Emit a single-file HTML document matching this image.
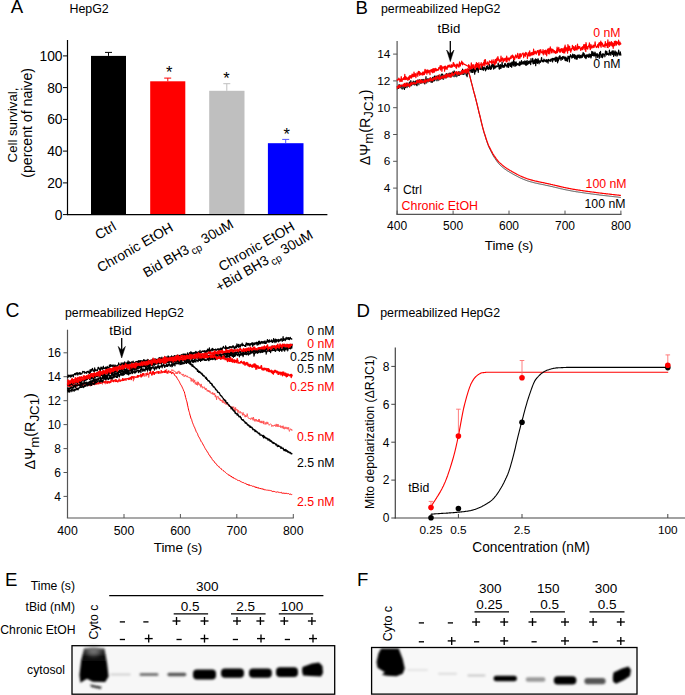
<!DOCTYPE html>
<html><head><meta charset="utf-8"><style>
html,body{margin:0;padding:0;background:#fff;width:685px;height:695px;overflow:hidden}
svg{display:block}
text{font-family:"Liberation Sans", sans-serif}
</style></head><body>
<svg width="685" height="695" viewBox="0 0 685 695">
<defs><filter id="b1" x="-50%" y="-200%" width="200%" height="500%"><feGaussianBlur stdDeviation="0.8"/></filter><filter id="b2" x="-50%" y="-50%" width="200%" height="200%"><feGaussianBlur stdDeviation="1.2"/></filter><filter id="b3" x="-50%" y="-50%" width="200%" height="200%"><feGaussianBlur stdDeviation="2.5"/></filter><linearGradient id="gE" x1="0" y1="0" x2="0" y2="1"><stop offset="0" stop-color="#444"/><stop offset="0.25" stop-color="#080808"/><stop offset="1" stop-color="#000"/></linearGradient></defs>
<text x="10.8" y="13.2" font-size="18.6" text-anchor="start" fill="#000" >A</text>
<text x="69.5" y="13.1" font-size="12.4" text-anchor="start" fill="#000" >HepG2</text>
<rect x="91.0" y="55.9" width="35.0" height="158.7" fill="#000"/>
<line x1="108.5" y1="55.9" x2="108.5" y2="52.4" stroke="#000" stroke-width="1"/>
<line x1="105.0" y1="52.4" x2="112.0" y2="52.4" stroke="#000" stroke-width="1"/>
<rect x="150.2" y="81.3" width="35.1" height="133.3" fill="#ff0000"/>
<line x1="167.8" y1="81.3" x2="167.8" y2="78.1" stroke="#ff0000" stroke-width="1"/>
<line x1="164.2" y1="78.1" x2="171.2" y2="78.1" stroke="#ff0000" stroke-width="1"/>
<rect x="209.2" y="90.8" width="35.3" height="123.8" fill="#bfbfbf"/>
<line x1="226.8" y1="90.8" x2="226.8" y2="83.7" stroke="#bfbfbf" stroke-width="1"/>
<line x1="223.3" y1="83.7" x2="230.3" y2="83.7" stroke="#bfbfbf" stroke-width="1"/>
<rect x="267.9" y="143.2" width="35.6" height="71.4" fill="#0000ff"/>
<line x1="285.7" y1="143.2" x2="285.7" y2="139.4" stroke="#5555ff" stroke-width="1"/>
<line x1="282.2" y1="139.4" x2="289.2" y2="139.4" stroke="#5555ff" stroke-width="1"/>
<text x="169.2" y="77.5" font-size="16.5" text-anchor="middle" fill="#000" >*</text>
<text x="226.4" y="84.3" font-size="16.5" text-anchor="middle" fill="#000" >*</text>
<text x="286.6" y="139.5" font-size="16.5" text-anchor="middle" fill="#000" >*</text>
<line x1="67.5" y1="40.0" x2="67.5" y2="215.1" stroke="#000" stroke-width="1.2"/>
<line x1="66.9" y1="214.6" x2="327.4" y2="214.6" stroke="#000" stroke-width="1.2"/>
<line x1="63.0" y1="214.6" x2="67.5" y2="214.6" stroke="#000" stroke-width="1"/>
<text x="62.5" y="219.6" font-size="13.8" text-anchor="end" fill="#000" >0</text>
<line x1="63.0" y1="182.9" x2="67.5" y2="182.9" stroke="#000" stroke-width="1"/>
<text x="62.5" y="187.9" font-size="13.8" text-anchor="end" fill="#000" >20</text>
<line x1="63.0" y1="151.1" x2="67.5" y2="151.1" stroke="#000" stroke-width="1"/>
<text x="62.5" y="156.1" font-size="13.8" text-anchor="end" fill="#000" >40</text>
<line x1="63.0" y1="119.4" x2="67.5" y2="119.4" stroke="#000" stroke-width="1"/>
<text x="62.5" y="124.4" font-size="13.8" text-anchor="end" fill="#000" >60</text>
<line x1="63.0" y1="87.6" x2="67.5" y2="87.6" stroke="#000" stroke-width="1"/>
<text x="62.5" y="92.6" font-size="13.8" text-anchor="end" fill="#000" >80</text>
<line x1="63.0" y1="55.9" x2="67.5" y2="55.9" stroke="#000" stroke-width="1"/>
<text x="62.5" y="60.9" font-size="13.8" text-anchor="end" fill="#000" >100</text>
<text transform="translate(17,125) rotate(-90)" font-size="13.2" text-anchor="middle">Cell survival,</text>
<text transform="translate(31.6,122.9) rotate(-90)" font-size="14.1" text-anchor="middle">(percent of naive)</text>
<text transform="translate(117.1,229.2) rotate(-30)" font-size="13.8" text-anchor="end">Ctrl</text>
<text transform="translate(174.1,230.2) rotate(-30)" font-size="13.8" text-anchor="end">Chronic EtOH</text>
<text transform="translate(234.4,226.9) rotate(-30)" font-size="13.8" text-anchor="end">Bid BH3<tspan font-size="10.5" dx="1.5" dy="4">cp</tspan><tspan dy="-4"> 30uM</tspan></text>
<text transform="translate(295.7,229.3) rotate(-30)" font-size="13.8" text-anchor="end">Chronic EtOH</text>
<text transform="translate(314.0,237.5) rotate(-30)" font-size="13.8" text-anchor="end">+Bid BH3<tspan font-size="10.5" dx="1.5" dy="4">cp</tspan><tspan dy="-4"> 30uM</tspan></text>
<text x="355.6" y="13.9" font-size="18.6" text-anchor="start" fill="#000" >B</text>
<text x="381.0" y="13.0" font-size="12.35" text-anchor="start" fill="#000" >permeabilized HepG2</text>
<line x1="397.1" y1="41.0" x2="397.1" y2="214.4" stroke="#555" stroke-width="1.2"/>
<line x1="396.5" y1="214.4" x2="621.5" y2="214.4" stroke="#555" stroke-width="1.2"/>
<line x1="393.1" y1="188.1" x2="397.1" y2="188.1" stroke="#555" stroke-width="1"/>
<text x="390.3" y="192.1" font-size="11.8" text-anchor="end" fill="#000" >4</text>
<line x1="393.1" y1="161.3" x2="397.1" y2="161.3" stroke="#555" stroke-width="1"/>
<text x="390.3" y="165.3" font-size="11.8" text-anchor="end" fill="#000" >6</text>
<line x1="393.1" y1="134.5" x2="397.1" y2="134.5" stroke="#555" stroke-width="1"/>
<text x="390.3" y="138.5" font-size="11.8" text-anchor="end" fill="#000" >8</text>
<line x1="393.1" y1="107.7" x2="397.1" y2="107.7" stroke="#555" stroke-width="1"/>
<text x="390.3" y="111.7" font-size="11.8" text-anchor="end" fill="#000" >10</text>
<line x1="393.1" y1="80.9" x2="397.1" y2="80.9" stroke="#555" stroke-width="1"/>
<text x="390.3" y="84.9" font-size="11.8" text-anchor="end" fill="#000" >12</text>
<line x1="393.1" y1="54.1" x2="397.1" y2="54.1" stroke="#555" stroke-width="1"/>
<text x="390.3" y="58.1" font-size="11.8" text-anchor="end" fill="#000" >14</text>
<line x1="397.1" y1="214.4" x2="397.1" y2="210.6" stroke="#555" stroke-width="1"/>
<text x="397.1" y="229.8" font-size="12" text-anchor="middle" fill="#000" >400</text>
<line x1="453.1" y1="214.4" x2="453.1" y2="210.6" stroke="#555" stroke-width="1"/>
<text x="453.1" y="229.8" font-size="12" text-anchor="middle" fill="#000" >500</text>
<line x1="509.0" y1="214.4" x2="509.0" y2="210.6" stroke="#555" stroke-width="1"/>
<text x="509.0" y="229.8" font-size="12" text-anchor="middle" fill="#000" >600</text>
<line x1="565.0" y1="214.4" x2="565.0" y2="210.6" stroke="#555" stroke-width="1"/>
<text x="565.0" y="229.8" font-size="12" text-anchor="middle" fill="#000" >700</text>
<line x1="620.9" y1="214.4" x2="620.9" y2="210.6" stroke="#555" stroke-width="1"/>
<text x="620.9" y="229.8" font-size="12" text-anchor="middle" fill="#000" >800</text>
<text x="509.0" y="250.3" font-size="13.4" text-anchor="middle" fill="#000" >Time (s)</text>
<text transform="translate(369.5,127.4) rotate(-90)" font-size="14.3" text-anchor="middle">ΔΨ<tspan font-size="13.2" dy="3">m</tspan><tspan dy="-3">(R</tspan><tspan font-size="13.2" dy="3">JC1</tspan><tspan dy="-3">)</tspan></text>
<text x="448.9" y="33.0" font-size="13.2" text-anchor="middle" fill="#000" >tBid</text>
<line x1="450.3" y1="40.9" x2="450.3" y2="55.0" stroke="#000" stroke-width="1.3"/>
<path d="M446.6 50 L450.3 61.6 L454 50 L450.3 54 Z" fill="#000" stroke="#000" stroke-width="0.5" stroke-linejoin="miter"/>
<text x="402.9" y="194.0" font-size="12.2" text-anchor="start" fill="#000" >Ctrl</text>
<text x="401.6" y="210.2" font-size="12.4" text-anchor="start" fill="#ff0000" >Chronic EtOH</text>
<text x="620.5" y="37.4" font-size="12.3" text-anchor="end" fill="#ff0000" >0 nM</text>
<text x="620.5" y="68.4" font-size="12.3" text-anchor="end" fill="#000" >0 nM</text>
<text x="626.6" y="188.2" font-size="12.3" text-anchor="end" fill="#ff0000" >100 nM</text>
<text x="625.5" y="207.6" font-size="12.3" text-anchor="end" fill="#000" >100 nM</text>
<path d="M397.1 87.1 L397.4 86.5 L397.7 87.4 L397.9 88.3 L398.2 87.5 L398.5 88.3 L398.8 86.6 L399.1 84.5 L399.3 87.4 L399.6 87.5 L399.9 85.6 L400.2 85.8 L400.5 86.1 L400.7 87.7 L401.0 86.2 L401.3 85.0 L401.6 88.2 L401.9 86.7 L402.1 89.0 L402.4 87.9 L402.7 88.8 L403.0 86.1 L403.3 87.7 L403.5 85.2 L403.8 85.3 L404.1 85.8 L404.4 89.5 L404.7 86.2 L404.9 85.4 L405.2 85.0 L405.5 87.6 L405.8 85.9 L406.1 86.6 L406.3 86.3 L406.6 83.2 L406.9 86.1 L407.2 84.8 L407.5 83.3 L407.7 85.6 L408.0 84.7 L408.3 84.3 L408.6 84.3 L408.9 86.3 L409.1 84.2 L409.4 82.1 L409.7 86.7 L410.0 82.7 L410.3 83.9 L410.5 85.0 L410.8 80.7 L411.1 82.6 L411.4 85.7 L411.7 83.6 L411.9 82.7 L412.2 83.9 L412.5 82.4 L412.8 83.6 L413.1 82.3 L413.3 81.0 L413.6 84.3 L413.9 82.9 L414.2 83.9 L414.5 82.9 L414.7 84.9 L415.0 83.9 L415.3 83.2 L415.6 81.3 L415.9 80.9 L416.1 84.8 L416.4 83.9 L416.7 81.5 L417.0 85.7 L417.3 83.1 L417.5 82.5 L417.8 80.2 L418.1 81.1 L418.4 82.7 L418.7 82.7 L418.9 82.4 L419.2 79.5 L419.5 82.5 L419.8 82.3 L420.1 81.2 L420.3 81.9 L420.6 81.9 L420.9 83.3 L421.2 81.5 L421.5 82.1 L421.7 79.5 L422.0 80.2 L422.3 81.2 L422.6 80.1 L422.9 81.6 L423.1 79.3 L423.4 80.9 L423.7 79.9 L424.0 82.9 L424.3 80.2 L424.5 83.4 L424.8 83.9 L425.1 81.0 L425.4 81.9 L425.7 80.1 L426.0 76.7 L426.2 81.6 L426.5 81.2 L426.8 79.8 L427.1 79.3 L427.4 80.3 L427.6 80.3 L427.9 78.7 L428.2 79.0 L428.5 81.4 L428.8 79.8 L429.0 79.5 L429.3 81.2 L429.6 79.1 L429.9 80.8 L430.2 77.8 L430.4 79.0 L430.7 79.1 L431.0 80.1 L431.3 79.3 L431.6 82.2 L431.8 80.8 L432.1 78.3 L432.4 82.2 L432.7 77.4 L433.0 81.5 L433.2 77.4 L433.5 79.9 L433.8 77.2 L434.1 78.2 L434.4 80.8 L434.6 76.3 L434.9 75.9 L435.2 78.3 L435.5 78.5 L435.8 78.3 L436.0 79.5 L436.3 76.1 L436.6 78.7 L436.9 77.9 L437.2 79.0 L437.4 78.6 L437.7 79.6 L438.0 75.5 L438.3 77.7 L438.6 75.8 L438.8 77.3 L439.1 78.4 L439.4 77.7 L439.7 78.0 L440.0 77.0 L440.2 77.6 L440.5 77.4 L440.8 79.1 L441.1 78.1 L441.4 74.1 L441.6 77.8 L441.9 78.3 L442.2 76.0 L442.5 74.2 L442.8 78.8 L443.0 76.7 L443.3 77.3 L443.6 79.1 L443.9 75.0 L444.2 76.1 L444.4 75.9 L444.7 77.2 L445.0 75.2 L445.3 76.7 L445.6 76.0 L445.8 77.5 L446.1 77.6 L446.4 73.5 L446.7 76.4 L447.0 75.0 L447.2 75.5 L447.5 76.1 L447.8 76.1 L448.1 74.2 L448.4 75.7 L448.6 75.4 L448.9 75.0 L449.2 73.1 L449.5 73.8 L449.8 74.3 L450.0 75.7 L450.3 77.0 L450.6 73.2 L450.9 73.1 L451.2 74.8 L451.4 73.6 L451.7 73.2 L452.0 73.1 L452.3 72.9 L452.6 75.0 L452.8 71.8 L453.1 76.2 L453.4 72.7 L453.7 73.2 L454.0 72.6 L454.2 70.9 L454.5 71.5 L454.8 75.6 L455.1 76.5 L455.4 72.4 L455.6 75.3 L455.9 73.6 L456.2 72.2 L456.5 76.1 L456.8 76.8 L457.0 72.9 L457.3 73.2 L457.6 73.6 L457.9 73.1 L458.2 74.5 L458.4 75.5 L458.7 73.3 L459.0 74.5 L459.3 75.5 L459.6 72.0 L459.8 72.9 L460.1 72.1 L460.4 74.3 L460.7 73.7 L461.0 74.2 L461.2 73.9 L461.5 72.1 L461.8 73.6 L462.1 71.8 L462.4 71.7 L462.6 69.0 L462.9 74.4 L463.2 70.7 L463.5 72.2 L463.8 72.0 L464.0 74.3 L464.3 72.6 L464.6 70.7 L464.9 71.9 L465.2 71.6 L465.4 72.2 L465.7 69.8 L466.0 71.6 L466.3 75.1 L466.6 72.6 L466.8 74.6 L467.1 76.6 L467.4 72.2 L467.7 69.1 L468.0 71.1 L468.2 73.1 L468.5 72.6 L468.8 69.3 L469.1 70.8 L469.4 70.9 L469.6 71.0 L469.9 70.8 L470.2 69.5 L470.5 69.9 L470.8 70.4 L471.0 72.3 L471.3 69.8 L471.6 71.7 L471.9 68.8 L472.2 72.5 L472.4 70.6 L472.7 70.4 L473.0 72.5 L473.3 67.5 L473.6 67.9 L473.8 70.9 L474.1 68.9 L474.4 69.5 L474.7 74.2 L475.0 69.6 L475.2 70.0 L475.5 69.8 L475.8 71.6 L476.1 70.2 L476.4 70.0 L476.6 67.8 L476.9 69.1 L477.2 69.6 L477.5 67.1 L477.8 70.4 L478.0 70.1 L478.3 72.3 L478.6 66.8 L478.9 67.8 L479.2 67.8 L479.4 68.1 L479.7 69.0 L480.0 68.8 L480.3 69.5 L480.6 69.4 L480.8 68.9 L481.1 66.5 L481.4 68.0 L481.7 68.9 L482.0 69.7 L482.3 69.8 L482.5 66.1 L482.8 67.8 L483.1 68.5 L483.4 69.1 L483.7 70.3 L483.9 68.6 L484.2 67.0 L484.5 69.0 L484.8 68.7 L485.1 68.6 L485.3 68.1 L485.6 70.8 L485.9 68.5 L486.2 69.5 L486.5 66.6 L486.7 69.2 L487.0 67.0 L487.3 65.5 L487.6 68.4 L487.9 68.8 L488.1 67.5 L488.4 67.7 L488.7 69.3 L489.0 66.9 L489.3 64.4 L489.5 68.0 L489.8 67.8 L490.1 69.1 L490.4 66.9 L490.7 69.4 L490.9 69.1 L491.2 65.2 L491.5 68.7 L491.8 65.5 L492.1 64.7 L492.3 66.7 L492.6 66.2 L492.9 63.9 L493.2 67.3 L493.5 67.9 L493.7 69.1 L494.0 66.8 L494.3 64.4 L494.6 65.2 L494.9 68.2 L495.1 68.1 L495.4 67.4 L495.7 66.1 L496.0 66.9 L496.3 66.2 L496.5 66.0 L496.8 66.9 L497.1 66.4 L497.4 66.0 L497.7 66.4 L497.9 65.4 L498.2 63.2 L498.5 65.2 L498.8 66.0 L499.1 68.8 L499.3 65.4 L499.6 69.1 L499.9 68.2 L500.2 64.5 L500.5 64.7 L500.7 66.1 L501.0 68.5 L501.3 66.3 L501.6 66.8 L501.9 64.6 L502.1 62.0 L502.4 65.2 L502.7 66.8 L503.0 67.4 L503.3 65.5 L503.5 65.7 L503.8 67.2 L504.1 65.1 L504.4 67.1 L504.7 63.5 L504.9 63.5 L505.2 63.4 L505.5 65.9 L505.8 64.3 L506.1 65.3 L506.3 65.6 L506.6 65.5 L506.9 67.0 L507.2 67.2 L507.5 63.6 L507.7 65.1 L508.0 64.4 L508.3 63.1 L508.6 67.5 L508.9 65.9 L509.1 64.3 L509.4 63.9 L509.7 65.1 L510.0 62.8 L510.3 64.1 L510.5 66.4 L510.8 65.9 L511.1 63.0 L511.4 63.5 L511.7 67.3 L511.9 62.0 L512.2 63.2 L512.5 62.0 L512.8 64.7 L513.1 64.5 L513.3 65.8 L513.6 59.9 L513.9 64.2 L514.2 61.3 L514.5 64.9 L514.7 63.6 L515.0 66.5 L515.3 64.4 L515.6 62.1 L515.9 65.7 L516.1 61.9 L516.4 63.1 L516.7 65.2 L517.0 64.3 L517.3 64.2 L517.5 63.5 L517.8 64.3 L518.1 64.7 L518.4 63.8 L518.7 64.9 L518.9 65.3 L519.2 63.3 L519.5 61.8 L519.8 65.6 L520.1 63.1 L520.3 64.1 L520.6 64.6 L520.9 61.6 L521.2 63.8 L521.5 60.5 L521.7 64.1 L522.0 62.2 L522.3 63.2 L522.6 64.0 L522.9 61.8 L523.1 63.0 L523.4 61.7 L523.7 62.7 L524.0 64.3 L524.3 62.7 L524.5 62.4 L524.8 60.9 L525.1 63.9 L525.4 62.5 L525.7 65.1 L525.9 61.3 L526.2 64.0 L526.5 65.2 L526.8 62.3 L527.1 60.4 L527.3 64.6 L527.6 63.9 L527.9 63.3 L528.2 63.9 L528.5 61.4 L528.7 63.3 L529.0 63.1 L529.3 61.0 L529.6 63.1 L529.9 61.2 L530.1 63.4 L530.4 63.7 L530.7 64.7 L531.0 58.7 L531.3 62.2 L531.5 61.3 L531.8 61.7 L532.1 61.3 L532.4 61.5 L532.7 58.4 L532.9 63.1 L533.2 63.9 L533.5 63.0 L533.8 63.5 L534.1 60.1 L534.3 60.0 L534.6 62.8 L534.9 63.5 L535.2 61.8 L535.5 58.9 L535.7 65.7 L536.0 60.3 L536.3 62.8 L536.6 59.4 L536.9 62.7 L537.2 61.4 L537.4 63.4 L537.7 62.5 L538.0 58.6 L538.3 59.5 L538.6 61.5 L538.8 62.2 L539.1 63.8 L539.4 61.3 L539.7 60.7 L540.0 60.8 L540.2 60.8 L540.5 62.4 L540.8 60.7 L541.1 60.6 L541.4 58.4 L541.6 57.5 L541.9 60.6 L542.2 61.6 L542.5 60.5 L542.8 61.3 L543.0 61.5 L543.3 60.4 L543.6 61.9 L543.9 59.2 L544.2 60.3 L544.4 59.7 L544.7 60.4 L545.0 61.2 L545.3 61.6 L545.6 60.4 L545.8 60.9 L546.1 59.6 L546.4 59.9 L546.7 62.1 L547.0 59.8 L547.2 62.0 L547.5 60.8 L547.8 60.2 L548.1 63.1 L548.4 59.6 L548.6 59.4 L548.9 59.9 L549.2 60.3 L549.5 60.2 L549.8 61.1 L550.0 60.0 L550.3 60.4 L550.6 59.3 L550.9 61.4 L551.2 59.0 L551.4 59.1 L551.7 59.6 L552.0 60.0 L552.3 58.4 L552.6 61.9 L552.8 58.5 L553.1 58.8 L553.4 58.7 L553.7 58.5 L554.0 60.2 L554.2 59.5 L554.5 58.0 L554.8 58.3 L555.1 58.7 L555.4 61.4 L555.6 58.1 L555.9 57.0 L556.2 57.2 L556.5 58.5 L556.8 61.3 L557.0 57.3 L557.3 59.0 L557.6 62.8 L557.9 58.1 L558.2 61.1 L558.4 60.7 L558.7 59.6 L559.0 56.5 L559.3 59.1 L559.6 58.1 L559.8 55.7 L560.1 55.9 L560.4 58.6 L560.7 58.8 L561.0 60.4 L561.2 59.5 L561.5 57.6 L561.8 57.7 L562.1 58.1 L562.4 56.6 L562.6 59.4 L562.9 58.3 L563.2 57.0 L563.5 57.2 L563.8 56.4 L564.0 57.4 L564.3 58.5 L564.6 57.4 L564.9 59.6 L565.2 60.6 L565.4 57.0 L565.7 58.0 L566.0 57.4 L566.3 60.6 L566.6 58.4 L566.8 58.7 L567.1 59.1 L567.4 61.3 L567.7 58.2 L568.0 56.2 L568.2 57.0 L568.5 58.6 L568.8 57.6 L569.1 56.3 L569.4 62.0 L569.6 57.7 L569.9 56.6 L570.2 56.3 L570.5 54.7 L570.8 55.6 L571.0 56.9 L571.3 56.8 L571.6 56.0 L571.9 58.1 L572.2 57.3 L572.4 55.8 L572.7 54.0 L573.0 57.4 L573.3 57.2 L573.6 56.8 L573.8 54.9 L574.1 57.1 L574.4 54.7 L574.7 58.6 L575.0 57.3 L575.2 57.3 L575.5 55.7 L575.8 55.2 L576.1 59.3 L576.4 58.3 L576.6 56.3 L576.9 57.8 L577.2 59.2 L577.5 55.1 L577.8 55.9 L578.0 55.9 L578.3 57.4 L578.6 55.0 L578.9 57.0 L579.2 54.8 L579.4 58.0 L579.7 57.9 L580.0 56.2 L580.3 57.6 L580.6 55.3 L580.8 56.0 L581.1 57.9 L581.4 56.2 L581.7 56.9 L582.0 54.8 L582.2 57.3 L582.5 56.9 L582.8 54.3 L583.1 52.6 L583.4 52.9 L583.6 56.0 L583.9 55.8 L584.2 53.6 L584.5 56.3 L584.8 57.6 L585.0 55.8 L585.3 55.2 L585.6 57.3 L585.9 58.6 L586.2 58.2 L586.4 54.8 L586.7 57.1 L587.0 56.0 L587.3 55.4 L587.6 54.8 L587.8 56.3 L588.1 54.9 L588.4 57.1 L588.7 56.2 L589.0 57.3 L589.2 53.8 L589.5 55.6 L589.8 56.7 L590.1 56.1 L590.4 55.8 L590.6 54.3 L590.9 58.0 L591.2 57.1 L591.5 56.0 L591.8 51.3 L592.0 53.8 L592.3 55.5 L592.6 54.1 L592.9 51.9 L593.2 55.6 L593.5 55.8 L593.7 53.2 L594.0 54.3 L594.3 54.0 L594.6 55.9 L594.9 52.0 L595.1 52.3 L595.4 54.1 L595.7 53.9 L596.0 58.2 L596.3 53.9 L596.5 55.2 L596.8 54.2 L597.1 53.7 L597.4 55.4 L597.7 57.5 L597.9 54.2 L598.2 55.9 L598.5 55.2 L598.8 55.7 L599.1 55.2 L599.3 58.3 L599.6 52.6 L599.9 54.2 L600.2 52.8 L600.5 51.3 L600.7 54.5 L601.0 57.4 L601.3 55.9 L601.6 56.4 L601.9 55.2 L602.1 54.2 L602.4 57.6 L602.7 53.8 L603.0 56.7 L603.3 53.8 L603.5 54.4 L603.8 54.7 L604.1 54.3 L604.4 55.0 L604.7 55.1 L604.9 56.8 L605.2 54.1 L605.5 51.1 L605.8 50.8 L606.1 51.9 L606.3 52.8 L606.6 55.0 L606.9 51.6 L607.2 54.0 L607.5 54.0 L607.7 54.3 L608.0 53.6 L608.3 54.5 L608.6 53.9 L608.9 55.4 L609.1 54.3 L609.4 50.0 L609.7 53.7 L610.0 54.0 L610.3 52.7 L610.5 52.4 L610.8 55.3 L611.1 53.8 L611.4 52.0 L611.7 53.0 L611.9 53.2 L612.2 50.9 L612.5 54.4 L612.8 53.2 L613.1 54.1 L613.3 50.9 L613.6 56.4 L613.9 54.3 L614.2 54.0 L614.5 52.1 L614.7 52.1 L615.0 50.8 L615.3 55.6 L615.6 51.8 L615.9 53.5 L616.1 54.0 L616.4 52.1 L616.7 54.4 L617.0 56.2 L617.3 53.5 L617.5 55.2 L617.8 53.9 L618.1 52.2 L618.4 52.2 L618.7 50.2 L618.9 53.0 L619.2 55.1 L619.5 53.9 L619.8 54.1 L620.1 54.5 L620.3 51.8 L620.6 53.6 L620.9 55.7" fill="none" stroke="#000" stroke-width="1.2" stroke-linejoin="round" />
<path d="M397.1 79.2 L397.4 80.3 L397.7 79.6 L397.9 79.9 L398.2 79.0 L398.5 79.8 L398.8 78.0 L399.0 79.1 L399.3 79.1 L399.6 79.0 L399.9 81.6 L400.1 79.7 L400.4 79.7 L400.7 79.0 L401.0 81.2 L401.2 76.7 L401.5 78.9 L401.8 80.8 L402.1 81.4 L402.3 79.2 L402.6 78.9 L402.9 79.7 L403.2 78.5 L403.5 79.5 L403.7 77.6 L404.0 79.4 L404.3 78.4 L404.6 76.8 L404.8 74.4 L405.1 79.6 L405.4 78.7 L405.7 79.2 L405.9 76.7 L406.2 79.5 L406.5 78.4 L406.8 77.7 L407.0 79.0 L407.3 78.9 L407.6 78.1 L407.9 80.4 L408.1 79.4 L408.4 77.8 L408.7 76.9 L409.0 77.3 L409.3 79.6 L409.5 77.6 L409.8 75.6 L410.1 75.9 L410.4 76.8 L410.6 77.9 L410.9 75.6 L411.2 77.3 L411.5 78.1 L411.7 77.5 L412.0 74.1 L412.3 75.8 L412.6 74.3 L412.8 76.7 L413.1 74.5 L413.4 76.7 L413.7 76.0 L414.0 72.0 L414.2 74.5 L414.5 76.3 L414.8 75.6 L415.1 74.9 L415.3 73.5 L415.6 76.0 L415.9 77.7 L416.2 75.5 L416.4 75.0 L416.7 74.8 L417.0 72.9 L417.3 74.3 L417.5 73.5 L417.8 76.3 L418.1 73.3 L418.4 71.4 L418.6 73.3 L418.9 74.0 L419.2 74.0 L419.5 71.6 L419.8 75.5 L420.0 74.2 L420.3 73.3 L420.6 72.8 L420.9 74.5 L421.1 73.3 L421.4 74.1 L421.7 73.4 L422.0 73.7 L422.2 75.1 L422.5 73.4 L422.8 72.0 L423.1 74.7 L423.3 73.5 L423.6 72.1 L423.9 74.6 L424.2 72.7 L424.4 74.4 L424.7 71.1 L425.0 69.3 L425.3 69.7 L425.6 72.9 L425.8 71.4 L426.1 72.3 L426.4 72.2 L426.7 70.0 L426.9 74.2 L427.2 70.6 L427.5 72.1 L427.8 69.9 L428.0 71.7 L428.3 72.9 L428.6 71.4 L428.9 70.6 L429.1 71.6 L429.4 70.9 L429.7 72.3 L430.0 74.6 L430.2 70.0 L430.5 70.3 L430.8 71.0 L431.1 71.0 L431.4 69.5 L431.6 71.7 L431.9 72.0 L432.2 71.1 L432.5 69.0 L432.7 72.8 L433.0 68.9 L433.3 71.5 L433.6 72.1 L433.8 68.6 L434.1 70.5 L434.4 72.2 L434.7 70.8 L434.9 68.8 L435.2 68.3 L435.5 70.7 L435.8 69.4 L436.0 68.8 L436.3 70.8 L436.6 69.2 L436.9 69.7 L437.2 70.4 L437.4 70.3 L437.7 69.4 L438.0 69.4 L438.3 70.2 L438.5 69.9 L438.8 67.6 L439.1 68.8 L439.4 67.7 L439.6 67.2 L439.9 68.0 L440.2 65.5 L440.5 70.0 L440.7 67.5 L441.0 69.1 L441.3 65.8 L441.6 66.0 L441.9 71.3 L442.1 69.8 L442.4 67.3 L442.7 67.1 L443.0 67.1 L443.2 68.2 L443.5 67.4 L443.8 67.0 L444.1 68.0 L444.3 66.3 L444.6 71.1 L444.9 66.8 L445.2 69.1 L445.4 66.1 L445.7 67.8 L446.0 68.7 L446.3 66.8 L446.5 68.6 L446.8 68.6 L447.1 69.5 L447.4 67.1 L447.7 66.3 L447.9 65.4 L448.2 67.1 L448.5 65.3 L448.8 66.7 L449.0 66.8 L449.3 65.8 L449.6 65.0 L449.9 67.0 L450.1 66.8 L450.4 66.6 L450.7 66.1 L451.0 67.5 L451.2 64.6 L451.5 66.7 L451.8 65.3 L452.1 67.1 L452.3 65.3 L452.6 65.2 L452.9 66.3 L453.2 62.7 L453.5 65.0 L453.7 62.9 L454.0 64.0 L454.3 66.4 L454.6 65.9 L454.8 64.6 L455.1 65.1 L455.4 65.0 L455.7 65.5 L455.9 67.6 L456.2 65.2 L456.5 68.1 L456.8 64.2 L457.0 65.8 L457.3 65.7 L457.6 64.9 L457.9 64.1 L458.1 66.5 L458.4 66.9 L458.7 65.9 L459.0 67.2 L459.3 65.6 L459.5 61.8 L459.8 65.6 L460.1 63.0 L460.4 65.9 L460.6 63.4 L460.9 64.2 L461.2 63.8 L461.5 62.8 L461.7 61.0 L462.0 63.2 L462.3 63.2 L462.6 64.8 L462.8 62.4 L463.1 63.6 L468.2 66.2 L468.4 67.5 L468.7 64.6 L469.0 70.5 L469.3 67.7 L469.6 65.8 L469.9 67.7 L470.1 68.3 L470.4 67.4 L470.7 69.2 L471.0 66.7 L471.3 62.9 L471.6 64.9 L471.8 68.5 L472.1 68.0 L472.4 67.2 L472.7 64.9 L473.0 67.8 L473.3 67.5 L473.5 64.9 L473.8 64.8 L474.1 66.8 L474.4 67.9 L474.7 68.5 L475.0 67.1 L475.2 69.5 L475.5 64.6 L475.8 66.8 L476.1 64.9 L476.4 62.6 L476.7 63.7 L476.9 67.4 L477.2 64.1 L477.5 63.5 L477.8 66.5 L478.1 66.8 L478.4 65.4 L478.6 67.7 L478.9 62.7 L479.2 68.9 L479.5 66.7 L479.8 65.3 L480.1 65.2 L480.3 64.5 L480.6 64.2 L480.9 64.9 L481.2 62.7 L481.5 67.9 L481.8 64.4 L482.0 65.5 L482.3 64.1 L482.6 63.8 L482.9 65.6 L483.2 65.1 L483.5 62.7 L483.7 63.4 L484.0 65.0 L484.3 60.5 L484.6 60.0 L484.9 66.0 L485.2 63.1 L485.4 59.5 L485.7 62.2 L486.0 63.0 L486.3 63.7 L486.6 64.1 L486.9 63.5 L487.1 64.0 L487.4 61.9 L487.7 63.6 L488.0 63.6 L488.3 64.8 L488.6 62.9 L488.8 64.2 L489.1 62.9 L489.4 60.9 L489.7 61.9 L490.0 61.6 L490.3 61.8 L490.5 62.2 L490.8 62.5 L491.1 62.7 L491.4 60.9 L491.7 63.8 L492.0 59.8 L492.2 61.9 L492.5 63.0 L492.8 62.6 L493.1 62.8 L493.4 61.4 L493.7 62.7 L493.9 59.7 L494.2 62.7 L494.5 65.0 L494.8 62.5 L495.1 64.5 L495.4 61.2 L495.6 59.4 L495.9 60.0 L496.2 63.1 L496.5 62.1 L496.8 58.0 L497.1 60.3 L497.3 60.7 L497.6 58.9 L497.9 56.6 L498.2 58.4 L498.5 60.2 L498.8 59.8 L499.0 59.3 L499.3 61.2 L499.6 61.9 L499.9 60.0 L500.2 61.6 L500.5 60.1 L500.7 59.8 L501.0 56.1 L501.3 61.2 L501.6 59.9 L501.9 59.9 L502.2 58.9 L502.4 57.8 L502.7 60.3 L503.0 60.7 L503.3 62.0 L503.6 60.8 L503.9 58.3 L504.1 59.1 L504.4 60.7 L504.7 59.6 L505.0 58.9 L505.3 58.1 L505.6 59.8 L505.8 59.2 L506.1 61.6 L506.4 60.5 L506.7 56.0 L507.0 62.0 L507.3 59.0 L507.5 58.0 L507.8 58.9 L508.1 59.6 L508.4 58.3 L508.7 58.1 L509.0 58.2 L509.2 61.0 L509.5 58.2 L509.8 59.3 L510.1 58.7 L510.4 57.4 L510.7 56.7 L510.9 56.2 L511.2 58.4 L511.5 56.0 L511.8 55.6 L512.1 55.6 L512.4 55.1 L512.6 57.5 L512.9 57.5 L513.2 55.8 L513.5 59.3 L513.8 56.7 L514.1 57.8 L514.3 57.5 L514.6 59.7 L514.9 58.2 L515.2 56.8 L515.5 55.3 L515.8 55.0 L516.0 56.7 L516.3 56.8 L516.6 57.8 L516.9 55.8 L517.2 56.8 L517.5 55.3 L517.7 53.4 L518.0 56.2 L518.3 58.5 L518.6 57.5 L518.9 58.4 L519.2 57.9 L519.4 53.8 L519.7 55.5 L520.0 58.2 L520.3 54.7 L520.6 53.7 L520.9 56.2 L521.1 56.7 L521.4 56.1 L521.7 55.0 L522.0 54.4 L522.3 53.5 L522.6 53.4 L522.8 53.4 L523.1 53.0 L523.4 54.1 L523.7 57.6 L524.0 55.3 L524.3 54.5 L524.5 55.6 L524.8 53.4 L525.1 55.4 L525.4 56.3 L525.7 52.4 L526.0 53.6 L526.3 54.3 L526.5 53.1 L526.8 52.9 L527.1 54.0 L527.4 58.4 L527.7 55.5 L528.0 55.1 L528.2 55.9 L528.5 54.0 L528.8 52.3 L529.1 55.0 L529.4 56.0 L529.7 50.8 L529.9 54.8 L530.2 56.0 L530.5 53.6 L530.8 53.2 L531.1 55.0 L531.4 52.6 L531.6 54.6 L531.9 55.2 L532.2 53.4 L532.5 52.4 L532.8 54.6 L533.1 53.0 L533.3 53.7 L533.6 49.0 L533.9 54.6 L534.2 51.2 L534.5 53.4 L534.8 53.5 L535.0 52.1 L535.3 51.8 L535.6 51.2 L535.9 52.6 L536.2 54.1 L536.5 53.9 L536.7 52.2 L537.0 52.1 L537.3 50.7 L537.6 52.2 L537.9 51.2 L538.2 50.4 L538.4 52.5 L538.7 55.1 L539.0 54.6 L539.3 55.0 L539.6 50.1 L539.9 53.9 L540.1 50.6 L540.4 51.6 L540.7 49.7 L541.0 50.8 L541.3 52.5 L541.6 52.7 L541.8 52.2 L542.1 52.0 L542.4 53.1 L542.7 52.2 L543.0 49.5 L543.3 54.8 L543.5 51.6 L543.8 53.5 L544.1 51.7 L544.4 50.6 L544.7 52.0 L545.0 50.6 L545.2 54.4 L545.5 50.0 L545.8 52.7 L546.1 50.7 L546.4 51.4 L546.7 55.8 L546.9 52.8 L547.2 51.2 L547.5 49.0 L547.8 51.0 L548.1 51.0 L548.4 53.7 L548.6 49.1 L548.9 48.4 L549.2 51.3 L549.5 51.6 L549.8 53.8 L550.1 49.8 L550.3 46.8 L550.6 50.0 L550.9 49.0 L551.2 50.2 L551.5 52.6 L551.8 48.8 L552.0 52.9 L552.3 51.2 L552.6 50.4 L552.9 49.4 L553.2 50.1 L553.5 50.1 L553.7 51.9 L554.0 52.8 L554.3 50.5 L554.6 51.7 L554.9 52.7 L555.2 52.6 L555.4 51.3 L555.7 53.4 L556.0 52.6 L556.3 53.0 L556.6 50.1 L556.9 49.7 L557.1 47.1 L557.4 52.7 L557.7 51.3 L558.0 48.7 L558.3 50.5 L558.6 50.6 L558.8 47.3 L559.1 50.6 L559.4 51.9 L559.7 52.1 L560.0 49.4 L560.3 49.4 L560.5 52.1 L560.8 51.4 L561.1 48.9 L561.4 48.8 L561.7 50.8 L562.0 48.7 L562.2 48.8 L562.5 52.5 L562.8 50.1 L563.1 48.9 L563.4 50.5 L563.7 52.9 L563.9 49.9 L564.2 48.2 L564.5 46.9 L564.8 52.9 L565.1 45.1 L565.4 51.1 L565.6 47.7 L565.9 47.3 L566.2 47.6 L566.5 48.9 L566.8 51.0 L567.1 48.1 L567.3 50.2 L567.6 53.1 L567.9 44.5 L568.2 47.8 L568.5 46.0 L568.8 50.4 L569.0 46.5 L569.3 46.3 L569.6 46.3 L569.9 48.8 L570.2 50.7 L570.5 49.0 L570.7 52.2 L571.0 51.4 L571.3 48.5 L571.6 50.2 L571.9 48.8 L572.2 48.7 L572.4 45.4 L572.7 46.4 L573.0 48.5 L573.3 46.5 L573.6 49.6 L573.9 48.9 L574.1 46.8 L574.4 50.3 L574.7 48.7 L575.0 50.3 L575.3 48.0 L575.6 45.5 L575.8 49.3 L576.1 47.7 L576.4 49.5 L576.7 49.9 L577.0 50.0 L577.3 45.6 L577.5 44.1 L577.8 47.1 L578.1 49.0 L578.4 46.7 L578.7 48.3 L579.0 46.5 L579.2 47.3 L579.5 47.3 L579.8 46.7 L580.1 48.6 L580.4 48.3 L580.7 50.4 L580.9 48.3 L581.2 49.8 L581.5 47.7 L581.8 49.0 L582.1 47.3 L582.4 46.7 L582.6 49.7 L582.9 48.6 L583.2 48.8 L583.5 46.1 L583.8 44.5 L584.1 45.8 L584.3 47.7 L584.6 44.8 L584.9 49.6 L585.2 44.7 L585.5 48.1 L585.8 51.5 L586.0 42.7 L586.3 44.4 L586.6 48.6 L586.9 46.6 L587.2 47.2 L587.5 46.7 L587.7 49.2 L588.0 47.9 L588.3 46.0 L588.6 46.4 L588.9 44.8 L589.2 46.5 L589.4 42.9 L589.7 47.8 L590.0 46.2 L590.3 49.6 L590.6 48.5 L590.9 44.3 L591.1 48.0 L591.4 45.6 L591.7 46.5 L592.0 48.0 L592.3 46.9 L592.6 47.1 L592.8 47.1 L593.1 45.0 L593.4 45.2 L593.7 47.1 L594.0 47.6 L594.3 45.7 L594.5 46.2 L594.8 44.4 L595.1 41.8 L595.4 44.6 L595.7 46.0 L596.0 46.2 L596.2 47.3 L596.5 47.3 L596.8 47.5 L597.1 46.4 L597.4 46.5 L597.7 44.6 L597.9 46.4 L598.2 46.0 L598.5 47.6 L598.8 43.0 L599.1 44.8 L599.4 42.7 L599.6 44.2 L599.9 43.1 L600.2 45.9 L600.5 44.3 L600.8 41.1 L601.1 47.3 L601.3 43.5 L601.6 42.6 L601.9 44.6 L602.2 44.0 L602.5 43.2 L602.8 46.3 L603.0 44.5 L603.3 46.6 L603.6 46.2 L603.9 46.1 L604.2 45.3 L604.5 44.8 L604.7 44.2 L605.0 47.3 L605.3 41.6 L605.6 43.0 L605.9 43.6 L606.2 45.4 L606.4 44.9 L606.7 43.8 L607.0 44.0 L607.3 47.5 L607.6 43.4 L607.9 39.8 L608.1 47.6 L608.4 42.9 L608.7 43.9 L609.0 44.7 L609.3 42.2 L609.6 46.4 L609.8 44.1 L610.1 42.0 L610.4 44.7 L610.7 45.0 L611.0 44.1 L611.3 45.0 L611.5 41.7 L611.8 45.7 L612.1 42.7 L612.4 46.2 L612.7 43.0 L613.0 44.2 L613.2 48.3 L613.5 44.0 L613.8 45.7 L614.1 44.6 L614.4 41.3 L614.7 45.7 L614.9 45.6 L615.2 41.4 L615.5 43.6 L615.8 41.2 L616.1 43.1 L616.4 45.1 L616.6 43.7 L616.9 41.6 L617.2 42.0 L617.5 43.5 L617.8 43.4 L618.1 43.6 L618.3 44.4 L618.6 40.2 L618.9 43.3 L619.2 45.2 L619.5 44.1 L619.8 42.0 L620.0 42.2 L620.3 43.4 L620.6 44.3 L620.9 43.1" fill="none" stroke="#ff0000" stroke-width="1.2" stroke-linejoin="round" />
<path d="M397.1 89.7 L397.4 89.2 L397.7 86.5 L397.9 88.0 L398.2 86.9 L398.5 85.8 L398.8 86.4 L399.0 87.1 L399.3 84.5 L399.6 86.2 L399.9 87.4 L400.1 86.0 L400.4 86.3 L400.7 87.8 L401.0 86.6 L401.2 86.9 L401.5 89.0 L401.8 86.7 L402.1 86.8 L402.3 86.9 L402.6 88.4 L402.9 86.7 L403.2 86.3 L403.4 86.0 L403.7 87.5 L404.0 85.2 L404.3 87.5 L404.5 86.2 L404.8 84.2 L405.1 86.6 L405.4 86.3 L405.6 84.3 L405.9 86.1 L406.2 85.9 L406.5 85.2 L406.7 84.1 L407.0 88.1 L407.3 86.3 L407.6 86.5 L407.8 86.5 L408.1 86.1 L408.4 86.1 L408.7 84.6 L408.9 86.0 L409.2 84.7 L409.5 84.3 L409.8 85.6 L410.0 84.5 L410.3 82.6 L410.6 84.1 L410.9 85.2 L411.1 84.5 L411.4 85.5 L411.7 83.9 L412.0 83.1 L412.2 85.2 L412.5 84.3 L412.8 82.6 L413.1 84.6 L413.4 83.7 L413.6 85.1 L413.9 84.8 L414.2 84.3 L414.5 81.0 L414.7 84.1 L415.0 84.2 L415.3 84.1 L415.6 83.6 L415.8 82.5 L416.1 83.0 L416.4 80.7 L416.7 82.9 L416.9 81.3 L417.2 82.7 L417.5 82.2 L417.8 84.6 L418.0 83.0 L418.3 82.8 L418.6 83.0 L418.9 85.2 L419.1 81.5 L419.4 83.0 L419.7 83.0 L420.0 82.7 L420.2 82.6 L420.5 81.8 L420.8 83.7 L421.1 83.3 L421.3 81.7 L421.6 81.8 L421.9 82.4 L422.2 82.6 L422.4 82.8 L422.7 81.8 L423.0 80.3 L423.3 82.9 L423.5 79.7 L423.8 80.5 L424.1 82.0 L424.4 80.4 L424.6 83.1 L424.9 83.3 L425.2 82.7 L425.5 81.6 L425.7 81.5 L426.0 81.6 L426.3 80.8 L426.6 83.4 L426.8 80.2 L427.1 82.5 L427.4 81.5 L427.7 81.1 L427.9 82.0 L428.2 82.1 L428.5 81.6 L428.8 80.4 L429.0 79.6 L429.3 79.6 L429.6 81.4 L429.9 81.1 L430.2 81.2 L430.4 79.4 L430.7 82.4 L431.0 78.4 L431.3 80.4 L431.5 80.7 L431.8 79.3 L432.1 78.4 L432.4 79.1 L432.6 78.2 L432.9 79.3 L433.2 77.9 L433.5 77.8 L433.7 79.4 L434.0 77.4 L434.3 78.9 L434.6 78.9 L434.8 80.1 L435.1 79.3 L435.4 77.9 L435.7 80.4 L435.9 78.0 L436.2 78.3 L436.5 78.3 L436.8 81.2 L437.0 78.6 L437.3 77.6 L437.6 79.3 L437.9 78.2 L438.1 81.1 L438.4 77.4 L438.7 78.9 L439.0 77.0 L439.2 80.2 L439.5 77.1 L439.8 78.1 L440.1 76.8 L440.3 78.8 L440.6 78.4 L440.9 74.9 L441.2 78.5 L441.4 78.3 L441.7 77.7 L442.0 78.6 L442.3 75.9 L442.5 75.1 L442.8 78.0 L443.1 79.2 L443.4 75.6 L443.6 75.6 L443.9 75.9 L444.2 75.5 L444.5 77.8 L444.7 76.9 L445.0 78.3 L445.3 78.3 L445.6 75.4 L445.9 77.3 L446.1 73.7 L446.4 76.3 L446.7 77.1 L447.0 75.3 L447.2 74.0 L447.5 75.5 L447.8 77.5 L448.1 75.5 L448.3 74.2 L448.6 76.4 L448.9 76.7 L449.2 74.5 L449.4 75.5 L449.7 76.9 L450.0 76.0 L450.3 76.4 L450.5 75.0 L450.8 75.2 L451.1 73.9 L451.4 74.4 L451.6 77.0 L451.9 74.6 L452.2 73.9 L452.5 74.4 L452.7 73.7 L453.0 75.5 L453.3 75.9 L453.6 73.6 L453.8 75.9 L454.1 77.2 L454.4 73.3 L454.7 75.3 L454.9 74.8 L455.2 76.0 L455.5 75.9 L455.8 75.6 L456.0 74.6 L456.3 73.6 L456.6 76.8 L456.9 73.0 L457.1 75.3 L457.4 75.1 L457.7 73.0 L458.0 73.8 L458.2 75.5 L458.5 71.4 L458.8 74.6 L459.1 73.2 L459.3 73.1 L459.6 71.6 L459.9 73.8 L460.2 72.0 L460.4 74.0 L460.7 71.7 L461.0 73.9 L461.3 73.4 L461.6 70.6 L461.8 72.4 L462.1 72.6 L462.4 70.0 L462.7 72.2 L462.9 73.6 L463.2 71.6 L463.5 73.9 L463.8 71.0 L464.0 70.9 L464.3 72.9 L464.6 73.0 L464.9 71.9 L465.1 72.1 L465.4 73.2 L465.7 71.3 L466.0 74.3 L466.2 72.3 L466.5 72.2 L466.8 72.0 L467.1 71.3 L467.3 73.0 L467.6 70.8 L467.9 71.7 L468.2 72.2 L468.4 73.0 L468.4 71.1 L468.9 73.1 L469.5 75.0 L470.0 77.0 L470.5 78.9 L471.0 80.9 L471.5 82.8 L472.0 84.7 L472.5 86.7 L473.0 88.6 L473.5 90.6 L474.0 92.5 L474.6 94.5 L475.1 96.5 L475.6 98.4 L476.1 100.4 L476.6 102.4 L477.1 104.4 L477.6 106.5 L478.1 108.6 L478.6 110.8 L479.1 113.0 L479.7 115.1 L480.2 117.3 L480.7 119.5 L481.2 121.6 L481.7 123.7 L482.2 125.7 L482.7 127.7 L483.2 129.6 L483.7 131.5 L484.2 133.2 L484.8 134.9 L485.3 136.6 L485.8 138.3 L486.3 139.9 L486.8 141.4 L487.3 142.9 L487.8 144.3 L488.3 145.6 L488.8 146.8 L489.3 147.9 L489.9 149.0 L490.4 150.1 L490.9 151.1 L491.4 152.1 L491.9 153.1 L492.4 154.1 L492.9 155.0 L493.4 155.9 L493.9 156.8 L494.4 157.6 L495.0 158.4 L495.5 159.2 L496.0 160.0 L496.5 160.7 L497.0 161.4 L497.5 162.1 L498.0 162.7 L498.5 163.3 L499.0 163.9 L499.5 164.5 L500.1 165.0 L500.6 165.5 L501.1 166.0 L501.6 166.4 L502.1 166.9 L502.6 167.3 L503.1 167.7 L503.6 168.1 L504.1 168.5 L504.6 168.9 L505.1 169.3 L505.7 169.6 L506.2 170.0 L506.7 170.3 L507.2 170.7 L507.7 171.0 L508.2 171.3 L508.7 171.6 L509.2 171.9 L509.7 172.2 L510.2 172.5 L510.8 172.8 L511.3 173.1 L511.8 173.4 L512.3 173.7 L512.8 174.0 L513.3 174.3 L513.8 174.6 L514.3 174.8 L514.8 175.1 L515.3 175.4 L515.9 175.7 L516.4 175.9 L516.9 176.2 L517.4 176.5 L517.9 176.7 L518.4 177.0 L518.9 177.2 L519.4 177.5 L519.9 177.7 L520.4 178.0 L521.0 178.2 L521.5 178.4 L522.0 178.7 L522.5 178.9 L523.0 179.1 L523.5 179.3 L524.0 179.5 L524.5 179.7 L525.0 179.9 L525.5 180.1 L526.1 180.3 L526.6 180.5 L527.1 180.7 L527.6 180.9 L528.1 181.0 L528.6 181.2 L529.1 181.3 L529.6 181.5 L530.1 181.6 L530.6 181.8 L531.2 181.9 L531.7 182.1 L532.2 182.2 L532.7 182.3 L533.2 182.5 L533.7 182.6 L534.2 182.7 L534.7 182.9 L535.2 183.0 L535.7 183.1 L536.3 183.2 L536.8 183.3 L537.3 183.4 L537.8 183.6 L538.3 183.7 L538.8 183.8 L539.3 183.9 L539.8 184.0 L540.3 184.1 L540.8 184.2 L541.4 184.3 L541.9 184.4 L542.4 184.5 L542.9 184.6 L543.4 184.7 L543.9 184.8 L544.4 184.9 L544.9 185.0 L545.4 185.2 L545.9 185.3 L546.5 185.4 L547.0 185.5 L547.5 185.6 L548.0 185.7 L548.5 185.8 L549.0 185.9 L549.5 186.0 L550.0 186.1 L550.5 186.3 L551.0 186.4 L551.6 186.5 L552.1 186.6 L552.6 186.7 L553.1 186.9 L553.6 187.0 L554.1 187.1 L554.6 187.2 L555.1 187.3 L555.6 187.5 L556.1 187.6 L556.7 187.7 L557.2 187.8 L557.7 187.9 L558.2 188.1 L558.7 188.2 L559.2 188.3 L559.7 188.4 L560.2 188.6 L560.7 188.7 L561.2 188.8 L561.8 188.9 L562.3 189.0 L562.8 189.1 L563.3 189.3 L563.8 189.4 L564.3 189.5 L564.8 189.6 L565.3 189.7 L565.8 189.8 L566.3 189.9 L566.8 190.0 L567.4 190.1 L567.9 190.2 L568.4 190.3 L568.9 190.4 L569.4 190.5 L569.9 190.6 L570.4 190.7 L570.9 190.8 L571.4 190.9 L571.9 191.0 L572.5 191.1 L573.0 191.2 L573.5 191.3 L574.0 191.3 L574.5 191.4 L575.0 191.5 L575.5 191.6 L576.0 191.7 L576.5 191.8 L577.0 191.8 L577.6 191.9 L578.1 192.0 L578.6 192.1 L579.1 192.2 L579.6 192.2 L580.1 192.3 L580.6 192.4 L581.1 192.5 L581.6 192.5 L582.1 192.6 L582.7 192.7 L583.2 192.8 L583.7 192.8 L584.2 192.9 L584.7 193.0 L585.2 193.1 L585.7 193.1 L586.2 193.2 L586.7 193.3 L587.2 193.3 L587.8 193.4 L588.3 193.5 L588.8 193.6 L589.3 193.6 L589.8 193.7 L590.3 193.8 L590.8 193.8 L591.3 193.9 L591.8 194.0 L592.3 194.0 L592.9 194.1 L593.4 194.2 L593.9 194.2 L594.4 194.3 L594.9 194.4 L595.4 194.4 L595.9 194.5 L596.4 194.6 L596.9 194.6 L597.4 194.7 L598.0 194.8 L598.5 194.8 L599.0 194.9 L599.5 195.0 L600.0 195.0 L600.5 195.1 L601.0 195.1 L601.5 195.2 L602.0 195.3 L602.5 195.3 L603.1 195.4 L603.6 195.5 L604.1 195.5 L604.6 195.6 L605.1 195.6 L605.6 195.7 L606.1 195.8 L606.6 195.8 L607.1 195.9 L607.6 195.9 L608.2 196.0 L608.7 196.0 L609.2 196.1 L609.7 196.2 L610.2 196.2 L610.7 196.3 L611.2 196.3 L611.7 196.4 L612.2 196.5 L612.7 196.5 L613.3 196.6 L613.8 196.6 L614.3 196.7 L614.8 196.8 L615.3 196.8 L615.8 196.9 L616.3 196.9 L616.8 197.0 L617.3 197.0 L617.8 197.1 L618.4 197.2 L618.9 197.2 L619.4 197.3 L619.9 197.3 L620.4 197.4 L620.9 197.5" fill="none" stroke="#444" stroke-width="1.0" stroke-linejoin="round" />
<path d="M397.1 88.6 L397.4 86.9 L397.7 88.2 L397.9 87.1 L398.2 85.9 L398.5 85.9 L398.8 85.3 L399.0 87.2 L399.3 88.0 L399.6 85.7 L399.9 86.4 L400.1 85.4 L400.4 86.6 L400.7 85.2 L401.0 85.5 L401.2 85.6 L401.5 85.8 L401.8 85.8 L402.1 85.9 L402.3 85.9 L402.6 85.0 L402.9 86.5 L403.2 84.1 L403.4 86.0 L403.7 84.7 L404.0 85.8 L404.3 85.9 L404.5 83.4 L404.8 85.9 L405.1 86.8 L405.4 86.2 L405.6 85.7 L405.9 83.0 L406.2 85.0 L406.5 84.2 L406.7 86.2 L407.0 84.7 L407.3 84.2 L407.6 83.0 L407.8 85.6 L408.1 84.1 L408.4 84.4 L408.7 85.7 L408.9 84.6 L409.2 84.8 L409.5 86.9 L409.8 83.8 L410.0 83.7 L410.3 84.7 L410.6 85.6 L410.9 82.6 L411.1 83.8 L411.4 82.9 L411.7 82.4 L412.0 84.4 L412.2 82.9 L412.5 84.0 L412.8 83.8 L413.1 83.7 L413.4 83.6 L413.6 82.3 L413.9 83.3 L414.2 83.5 L414.5 83.6 L414.7 82.9 L415.0 84.1 L415.3 83.7 L415.6 83.1 L415.8 83.6 L416.1 83.0 L416.4 83.5 L416.7 80.6 L416.9 81.3 L417.2 82.2 L417.5 82.7 L417.8 80.2 L418.0 82.1 L418.3 82.5 L418.6 82.0 L418.9 82.0 L419.1 80.7 L419.4 82.2 L419.7 79.8 L420.0 83.0 L420.2 81.2 L420.5 83.0 L420.8 79.9 L421.1 82.1 L421.3 81.8 L421.6 80.7 L421.9 80.2 L422.2 82.7 L422.4 81.8 L422.7 82.9 L423.0 81.2 L423.3 81.4 L423.5 81.6 L423.8 81.9 L424.1 81.5 L424.4 81.8 L424.6 80.4 L424.9 79.3 L425.2 82.9 L425.5 80.9 L425.7 81.1 L426.0 80.1 L426.3 81.6 L426.6 80.7 L426.8 81.5 L427.1 79.6 L427.4 80.2 L427.7 80.4 L427.9 79.8 L428.2 80.4 L428.5 81.7 L428.8 79.3 L429.0 79.6 L429.3 80.0 L429.6 78.7 L429.9 78.4 L430.2 80.8 L430.4 80.4 L430.7 77.9 L431.0 78.0 L431.3 80.2 L431.5 80.6 L431.8 80.0 L432.1 79.8 L432.4 80.9 L432.6 79.1 L432.9 80.4 L433.2 80.3 L433.5 77.9 L433.7 79.6 L434.0 78.8 L434.3 78.0 L434.6 77.8 L434.8 78.9 L435.1 78.5 L435.4 79.3 L435.7 76.5 L435.9 77.6 L436.2 79.4 L436.5 78.2 L436.8 77.4 L437.0 77.6 L437.3 76.0 L437.6 76.5 L437.9 78.5 L438.1 77.9 L438.4 79.1 L438.7 77.4 L439.0 77.5 L439.2 74.7 L439.5 77.4 L439.8 79.7 L440.1 78.1 L440.3 77.2 L440.6 78.6 L440.9 78.1 L441.2 77.5 L441.4 76.7 L441.7 77.2 L442.0 77.9 L442.3 76.0 L442.5 77.4 L442.8 77.3 L443.1 78.1 L443.4 77.4 L443.6 75.8 L443.9 78.2 L444.2 76.5 L444.5 75.6 L444.7 76.7 L445.0 76.0 L445.3 77.3 L445.6 74.7 L445.9 74.8 L446.1 75.7 L446.4 77.8 L446.7 77.0 L447.0 74.7 L447.2 73.9 L447.5 75.3 L447.8 74.2 L448.1 76.2 L448.3 75.6 L448.6 75.4 L448.9 74.9 L449.2 76.9 L449.4 74.2 L449.7 73.7 L450.0 76.3 L450.3 76.5 L450.5 74.6 L450.8 75.6 L451.1 77.3 L451.4 73.9 L451.6 74.5 L451.9 75.1 L452.2 72.3 L452.5 74.3 L452.7 75.2 L453.0 74.3 L453.3 75.4 L453.6 75.0 L453.8 73.8 L454.1 74.7 L454.4 74.5 L454.7 72.2 L454.9 73.0 L455.2 73.0 L455.5 73.2 L455.8 73.2 L456.0 72.1 L456.3 73.6 L456.6 71.5 L456.9 74.5 L457.1 73.7 L457.4 74.8 L457.7 73.6 L458.0 72.7 L458.2 71.6 L458.5 73.8 L458.8 73.0 L459.1 73.3 L459.3 73.7 L459.6 74.1 L459.9 72.7 L460.2 74.6 L460.4 72.5 L460.7 72.5 L461.0 73.2 L461.3 73.5 L461.6 73.9 L461.8 70.3 L462.1 73.7 L462.4 70.5 L462.7 71.5 L462.9 72.4 L463.2 73.2 L463.5 70.8 L463.8 70.0 L464.0 72.8 L464.3 72.1 L464.6 70.5 L464.9 71.3 L465.1 69.4 L465.4 72.1 L465.7 70.8 L466.0 72.7 L466.2 69.0 L466.5 72.0 L466.8 73.5 L467.1 71.2 L467.3 71.2 L467.6 68.9 L467.9 71.3 L468.2 70.9 L468.4 70.1 L468.4 71.1 L468.9 73.1 L469.5 75.0 L470.0 77.0 L470.5 78.9 L471.0 80.9 L471.5 82.8 L472.0 84.7 L472.5 86.7 L473.0 88.6 L473.5 90.6 L474.0 92.5 L474.6 94.5 L475.1 96.5 L475.6 98.4 L476.1 100.4 L476.6 102.4 L477.1 104.4 L477.6 106.5 L478.1 108.6 L478.6 110.7 L479.1 112.9 L479.7 115.0 L480.2 117.1 L480.7 119.2 L481.2 121.3 L481.7 123.4 L482.2 125.4 L482.7 127.3 L483.2 129.2 L483.7 131.0 L484.2 132.7 L484.8 134.4 L485.3 136.0 L485.8 137.6 L486.3 139.2 L486.8 140.7 L487.3 142.1 L487.8 143.4 L488.3 144.7 L488.8 145.9 L489.3 146.9 L489.9 148.0 L490.4 149.0 L490.9 150.0 L491.4 151.0 L491.9 151.9 L492.4 152.8 L492.9 153.7 L493.4 154.5 L493.9 155.4 L494.4 156.2 L495.0 156.9 L495.5 157.7 L496.0 158.4 L496.5 159.1 L497.0 159.7 L497.5 160.4 L498.0 161.0 L498.5 161.5 L499.0 162.1 L499.5 162.6 L500.1 163.1 L500.6 163.5 L501.1 164.0 L501.6 164.4 L502.1 164.9 L502.6 165.3 L503.1 165.7 L503.6 166.1 L504.1 166.5 L504.6 166.9 L505.1 167.3 L505.7 167.6 L506.2 168.0 L506.7 168.3 L507.2 168.7 L507.7 169.0 L508.2 169.3 L508.7 169.6 L509.2 169.9 L509.7 170.2 L510.2 170.5 L510.8 170.8 L511.3 171.1 L511.8 171.4 L512.3 171.7 L512.8 172.0 L513.3 172.3 L513.8 172.6 L514.3 172.8 L514.8 173.1 L515.3 173.4 L515.9 173.7 L516.4 173.9 L516.9 174.2 L517.4 174.5 L517.9 174.7 L518.4 175.0 L518.9 175.2 L519.4 175.5 L519.9 175.7 L520.4 176.0 L521.0 176.2 L521.5 176.4 L522.0 176.7 L522.5 176.9 L523.0 177.1 L523.5 177.3 L524.0 177.5 L524.5 177.7 L525.0 177.9 L525.5 178.1 L526.1 178.3 L526.6 178.5 L527.1 178.7 L527.6 178.9 L528.1 179.0 L528.6 179.2 L529.1 179.3 L529.6 179.5 L530.1 179.6 L530.6 179.8 L531.2 179.9 L531.7 180.1 L532.2 180.2 L532.7 180.3 L533.2 180.5 L533.7 180.6 L534.2 180.7 L534.7 180.9 L535.2 181.0 L535.7 181.1 L536.3 181.2 L536.8 181.3 L537.3 181.4 L537.8 181.6 L538.3 181.7 L538.8 181.8 L539.3 181.9 L539.8 182.0 L540.3 182.1 L540.8 182.2 L541.4 182.3 L541.9 182.4 L542.4 182.5 L542.9 182.6 L543.4 182.7 L543.9 182.8 L544.4 182.9 L544.9 183.0 L545.4 183.2 L545.9 183.3 L546.5 183.4 L547.0 183.5 L547.5 183.6 L548.0 183.7 L548.5 183.8 L549.0 183.9 L549.5 184.0 L550.0 184.1 L550.5 184.3 L551.0 184.4 L551.6 184.5 L552.1 184.6 L552.6 184.7 L553.1 184.9 L553.6 185.0 L554.1 185.1 L554.6 185.2 L555.1 185.3 L555.6 185.5 L556.1 185.6 L556.7 185.7 L557.2 185.8 L557.7 185.9 L558.2 186.1 L558.7 186.2 L559.2 186.3 L559.7 186.4 L560.2 186.6 L560.7 186.7 L561.2 186.8 L561.8 186.9 L562.3 187.0 L562.8 187.1 L563.3 187.3 L563.8 187.4 L564.3 187.5 L564.8 187.6 L565.3 187.7 L565.8 187.8 L566.3 187.9 L566.8 188.0 L567.4 188.1 L567.9 188.2 L568.4 188.3 L568.9 188.4 L569.4 188.5 L569.9 188.6 L570.4 188.7 L570.9 188.8 L571.4 188.9 L571.9 189.0 L572.5 189.1 L573.0 189.2 L573.5 189.3 L574.0 189.3 L574.5 189.4 L575.0 189.5 L575.5 189.6 L576.0 189.7 L576.5 189.8 L577.0 189.8 L577.6 189.9 L578.1 190.0 L578.6 190.1 L579.1 190.2 L579.6 190.2 L580.1 190.3 L580.6 190.4 L581.1 190.5 L581.6 190.5 L582.1 190.6 L582.7 190.7 L583.2 190.8 L583.7 190.8 L584.2 190.9 L584.7 191.0 L585.2 191.1 L585.7 191.1 L586.2 191.2 L586.7 191.3 L587.2 191.3 L587.8 191.4 L588.3 191.5 L588.8 191.6 L589.3 191.6 L589.8 191.7 L590.3 191.8 L590.8 191.8 L591.3 191.9 L591.8 192.0 L592.3 192.0 L592.9 192.1 L593.4 192.2 L593.9 192.2 L594.4 192.3 L594.9 192.4 L595.4 192.4 L595.9 192.5 L596.4 192.6 L596.9 192.6 L597.4 192.7 L598.0 192.8 L598.5 192.8 L599.0 192.9 L599.5 193.0 L600.0 193.0 L600.5 193.1 L601.0 193.1 L601.5 193.2 L602.0 193.3 L602.5 193.3 L603.1 193.4 L603.6 193.5 L604.1 193.5 L604.6 193.6 L605.1 193.6 L605.6 193.7 L606.1 193.8 L606.6 193.8 L607.1 193.9 L607.6 193.9 L608.2 194.0 L608.7 194.0 L609.2 194.1 L609.7 194.2 L610.2 194.2 L610.7 194.3 L611.2 194.3 L611.7 194.4 L612.2 194.5 L612.7 194.5 L613.3 194.6 L613.8 194.6 L614.3 194.7 L614.8 194.8 L615.3 194.8 L615.8 194.9 L616.3 194.9 L616.8 195.0 L617.3 195.0 L617.8 195.1 L618.4 195.2 L618.9 195.2 L619.4 195.3 L619.9 195.3 L620.4 195.4 L620.9 195.5" fill="none" stroke="#ff0000" stroke-width="1.2" stroke-linejoin="round" />
<text x="5.6" y="317.2" font-size="19.3" text-anchor="start" fill="#000" >C</text>
<text x="65.0" y="316.8" font-size="12.3" text-anchor="start" fill="#000" >permeabilized HepG2</text>
<line x1="67.5" y1="329.7" x2="67.5" y2="518.0" stroke="#555" stroke-width="1.2"/>
<line x1="66.9" y1="518.0" x2="293.8" y2="518.0" stroke="#555" stroke-width="1.2"/>
<line x1="63.5" y1="496.4" x2="67.5" y2="496.4" stroke="#555" stroke-width="1"/>
<text x="61.0" y="500.6" font-size="12" text-anchor="end" fill="#000" >4</text>
<line x1="63.5" y1="472.5" x2="67.5" y2="472.5" stroke="#555" stroke-width="1"/>
<text x="61.0" y="476.7" font-size="12" text-anchor="end" fill="#000" >6</text>
<line x1="63.5" y1="448.6" x2="67.5" y2="448.6" stroke="#555" stroke-width="1"/>
<text x="61.0" y="452.8" font-size="12" text-anchor="end" fill="#000" >8</text>
<line x1="63.5" y1="424.6" x2="67.5" y2="424.6" stroke="#555" stroke-width="1"/>
<text x="61.0" y="428.8" font-size="12" text-anchor="end" fill="#000" >10</text>
<line x1="63.5" y1="400.7" x2="67.5" y2="400.7" stroke="#555" stroke-width="1"/>
<text x="61.0" y="404.9" font-size="12" text-anchor="end" fill="#000" >12</text>
<line x1="63.5" y1="376.7" x2="67.5" y2="376.7" stroke="#555" stroke-width="1"/>
<text x="61.0" y="380.9" font-size="12" text-anchor="end" fill="#000" >14</text>
<line x1="63.5" y1="352.8" x2="67.5" y2="352.8" stroke="#555" stroke-width="1"/>
<text x="61.0" y="357.0" font-size="12" text-anchor="end" fill="#000" >16</text>
<line x1="67.5" y1="518.0" x2="67.5" y2="514.0" stroke="#555" stroke-width="1"/>
<text x="67.5" y="535.4" font-size="12.3" text-anchor="middle" fill="#000" >400</text>
<line x1="124.0" y1="518.0" x2="124.0" y2="514.0" stroke="#555" stroke-width="1"/>
<text x="124.0" y="535.4" font-size="12.3" text-anchor="middle" fill="#000" >500</text>
<line x1="180.4" y1="518.0" x2="180.4" y2="514.0" stroke="#555" stroke-width="1"/>
<text x="180.4" y="535.4" font-size="12.3" text-anchor="middle" fill="#000" >600</text>
<line x1="236.8" y1="518.0" x2="236.8" y2="514.0" stroke="#555" stroke-width="1"/>
<text x="236.8" y="535.4" font-size="12.3" text-anchor="middle" fill="#000" >700</text>
<line x1="293.3" y1="518.0" x2="293.3" y2="514.0" stroke="#555" stroke-width="1"/>
<text x="293.3" y="535.4" font-size="12.3" text-anchor="middle" fill="#000" >800</text>
<text x="178.0" y="551.5" font-size="13.4" text-anchor="middle" fill="#000" >Time (s)</text>
<text transform="translate(35.3,431.3) rotate(-90)" font-size="14.4" text-anchor="middle">ΔΨ<tspan font-size="13.3" dy="3.3">m</tspan><tspan dy="-3.3">(R</tspan><tspan font-size="13.3" dy="3.3">JC1</tspan><tspan dy="-3.3">)</tspan></text>
<text x="120.6" y="334.6" font-size="13.1" text-anchor="middle" fill="#000" >tBid</text>
<line x1="121.7" y1="338.0" x2="121.7" y2="351.0" stroke="#000" stroke-width="1.3"/>
<path d="M118.2 346.4 L121.7 358 L125.4 346.4 L121.7 350.3 Z" fill="#000" stroke="#000" stroke-width="0.5" stroke-linejoin="miter"/>
<text x="334.5" y="334.9" font-size="12.3" text-anchor="end" fill="#000" >0 nM</text>
<text x="334.5" y="348.1" font-size="12.3" text-anchor="end" fill="#ff0000" >0 nM</text>
<text x="334.5" y="361.3" font-size="12.3" text-anchor="end" fill="#000" >0.25 nM</text>
<text x="334.5" y="372.7" font-size="12.3" text-anchor="end" fill="#000" >0.5 nM</text>
<text x="334.5" y="390.5" font-size="12.3" text-anchor="end" fill="#ff0000" >0.25 nM</text>
<text x="334.5" y="441.0" font-size="12.3" text-anchor="end" fill="#ff0000" >0.5 nM</text>
<text x="334.5" y="466.6" font-size="12.3" text-anchor="end" fill="#000" >2.5 nM</text>
<text x="334.5" y="505.8" font-size="12.3" text-anchor="end" fill="#ff0000" >2.5 nM</text>
<path d="M67.5 384.8 L67.8 386.3 L68.1 385.3 L68.4 385.7 L68.7 386.5 L69.1 386.1 L69.4 386.1 L69.7 387.0 L70.0 384.9 L70.3 387.3 L70.6 384.9 L70.9 385.0 L71.2 386.0 L71.6 386.6 L71.9 386.1 L72.2 385.4 L72.5 385.1 L72.8 385.5 L73.1 384.8 L73.4 386.2 L73.7 385.4 L74.1 387.1 L74.4 384.9 L74.7 385.4 L75.0 385.9 L75.3 384.4 L75.6 384.8 L75.9 388.1 L76.2 385.4 L76.6 386.8 L76.9 384.3 L77.2 382.9 L77.5 385.8 L77.8 385.2 L78.1 385.5 L78.4 384.9 L78.7 384.5 L79.1 383.9 L79.4 386.0 L79.7 383.6 L80.0 385.9 L80.3 384.7 L80.6 383.9 L80.9 384.3 L81.2 385.8 L81.6 385.6 L81.9 385.3 L82.2 384.9 L82.5 383.7 L82.8 386.0 L83.1 384.3 L83.4 384.1 L83.7 384.1 L84.1 384.2 L84.4 383.1 L84.7 384.1 L85.0 383.7 L85.3 384.0 L85.6 382.7 L85.9 386.3 L86.2 383.2 L86.6 384.6 L86.9 384.6 L87.2 385.2 L87.5 386.1 L87.8 384.6 L88.1 384.9 L88.4 383.7 L88.7 385.6 L89.1 382.7 L89.4 383.8 L89.7 384.3 L90.0 384.7 L90.3 384.7 L90.6 385.0 L90.9 384.4 L91.2 383.9 L91.6 384.0 L91.9 385.2 L92.2 384.0 L92.5 384.6 L92.8 383.6 L93.1 381.9 L93.4 383.0 L93.7 383.9 L94.1 385.1 L94.4 384.9 L94.7 385.1 L95.0 382.8 L95.3 384.2 L95.6 383.3 L95.9 384.0 L96.2 383.2 L96.6 381.9 L96.9 383.9 L97.2 383.5 L97.5 384.0 L97.8 382.3 L98.1 384.1 L98.4 384.2 L98.7 384.4 L99.1 384.4 L99.4 382.5 L99.7 380.5 L100.0 383.8 L100.3 381.9 L100.6 382.6 L100.9 383.8 L101.2 383.0 L101.6 382.9 L101.9 383.3 L102.2 380.8 L102.5 384.4 L102.8 382.2 L103.1 382.2 L103.4 383.0 L103.7 382.3 L104.1 381.6 L104.4 382.2 L104.7 381.9 L105.0 381.6 L105.3 384.2 L105.6 380.8 L105.9 380.0 L106.2 381.2 L106.6 381.1 L106.9 383.4 L107.2 382.1 L107.5 382.7 L107.8 382.5 L108.1 380.9 L108.4 382.6 L108.7 381.9 L109.1 383.6 L109.4 381.9 L109.7 381.6 L110.0 382.3 L110.3 382.3 L110.6 379.7 L110.9 382.6 L111.2 382.5 L111.6 382.2 L111.9 380.2 L112.2 379.3 L112.5 381.0 L112.8 381.9 L113.1 381.6 L113.4 380.1 L113.7 382.0 L114.1 379.7 L114.4 379.7 L114.7 380.9 L115.0 380.3 L115.3 380.2 L115.6 379.3 L115.9 381.8 L116.2 379.6 L116.6 381.0 L116.9 381.4 L117.2 380.5 L117.5 380.8 L117.8 381.5 L118.1 382.0 L118.4 381.3 L118.7 379.0 L119.1 378.4 L119.4 379.6 L119.7 379.1 L120.0 380.7 L120.3 380.2 L120.6 379.8 L120.9 381.1 L121.2 380.9 L121.6 379.8 L121.9 380.2 L122.2 380.9 L122.5 379.4 L122.8 380.0 L123.1 378.7 L123.4 379.6 L123.7 379.9 L124.1 379.4 L124.4 379.6 L124.7 380.1 L125.0 379.8 L125.3 378.6 L125.6 378.6 L125.9 378.0 L126.2 380.8 L126.6 379.5 L126.9 379.4 L127.2 378.8 L127.5 379.3 L127.8 379.3 L128.1 378.0 L128.4 378.6 L128.7 379.8 L129.1 377.3 L129.4 377.6 L129.7 379.0 L130.0 377.6 L130.3 379.1 L130.6 377.2 L130.9 378.4 L131.2 378.9 L131.6 378.4 L131.9 378.8 L132.2 377.8 L132.5 377.7 L132.8 377.8 L133.1 378.3 L133.4 381.2 L133.7 377.5 L134.1 379.4 L134.4 377.3 L134.7 376.3 L135.0 377.1 L135.3 377.7 L135.6 377.4 L135.9 377.3 L136.2 377.6 L136.6 377.6 L136.9 377.8 L137.2 375.7 L137.5 376.8 L137.8 375.8 L138.1 376.9 L138.4 376.5 L138.7 376.7 L139.1 376.0 L139.4 375.6 L139.7 376.1 L140.0 376.9 L140.3 376.9 L140.6 374.5 L140.9 376.3 L141.2 376.2 L141.6 374.5 L141.9 374.8 L142.2 375.2 L142.5 376.0 L142.8 373.3 L143.1 375.1 L143.4 374.9 L143.7 375.5 L144.1 376.7 L144.4 376.5 L144.7 374.8 L145.0 374.7 L145.3 375.3 L145.6 376.1 L145.9 376.3 L146.2 375.1 L146.6 376.2 L146.9 373.8 L147.2 373.5 L147.5 371.8 L147.8 373.7 L148.1 375.0 L148.4 375.2 L148.7 377.6 L149.1 374.8 L149.4 374.3 L149.7 373.2 L150.0 373.5 L150.3 373.4 L150.6 373.7 L150.9 373.2 L151.2 372.4 L151.6 374.8 L151.9 374.1 L152.2 374.9 L152.5 372.0 L152.8 372.3 L153.1 372.7 L153.4 374.5 L153.7 373.2 L154.1 373.5 L154.4 373.1 L154.7 373.3 L155.0 372.6 L155.3 373.4 L155.6 372.2 L155.9 372.7 L156.2 373.2 L156.6 372.9 L156.9 373.2 L157.2 372.0 L157.5 373.0 L157.8 372.4 L158.1 373.0 L158.4 374.0 L158.7 371.6 L159.1 373.5 L159.4 371.8 L159.7 372.0 L160.0 373.9 L160.3 373.2 L160.6 372.8 L160.9 373.0 L161.2 373.3 L161.6 371.4 L161.9 372.3 L162.2 371.7 L162.5 372.5 L162.8 371.7 L163.1 372.7 L163.4 372.0 L163.7 371.4 L164.1 371.9 L164.4 372.3 L164.7 372.9 L165.0 371.6 L165.3 371.4 L165.6 372.0 L165.9 372.4 L166.2 371.2 L166.6 369.3 L166.9 371.9 L167.2 371.3 L167.5 371.2 L167.8 374.0 L168.1 371.4 L168.4 372.2 L168.7 370.1 L169.1 371.7 L169.4 372.2 L169.7 371.6 L170.0 371.2 L170.3 371.9 L170.6 371.4 L170.9 372.7 L171.2 371.6 L171.6 370.6 L171.9 369.5 L172.2 370.7 L172.5 371.1 L172.8 370.3 L173.1 370.4 L173.4 369.9 L173.7 370.4 L174.1 371.6 L174.4 371.3 L174.7 371.4 L175.0 371.4 L175.3 371.5 L175.6 372.5 L175.9 373.8 L176.2 372.5 L176.6 373.9 L176.9 372.0 L177.2 372.1 L177.5 373.8 L177.8 371.6 L178.1 371.5 L178.4 372.4 L178.7 371.0 L179.1 370.9 L179.4 373.9 L179.7 371.9 L180.0 372.6 L180.3 372.7 L180.6 372.4 L180.9 374.1 L181.2 374.1 L181.6 374.5 L181.9 374.6 L182.2 374.1 L182.5 375.5 L182.8 375.3 L183.1 373.9 L183.4 374.7 L183.7 374.4 L184.1 376.8 L184.4 375.9 L184.7 375.8 L185.0 375.4 L185.3 376.2 L185.6 374.9 L185.9 376.1 L186.2 376.2 L186.6 376.4 L186.9 375.9 L187.2 377.2 L187.5 375.9 L187.8 376.7 L188.1 377.2 L188.4 377.5 L188.7 377.3 L189.1 377.0 L189.4 377.3 L189.7 378.0 L190.0 377.7 L190.3 378.7 L190.6 377.8 L190.9 379.2 L191.2 381.4 L191.6 378.3 L191.9 379.7 L192.2 381.2 L192.5 380.4 L192.8 381.3 L193.1 378.7 L193.4 380.4 L193.7 382.6 L194.1 380.8 L194.4 381.9 L194.7 379.9 L195.0 382.9 L195.3 384.3 L195.6 382.3 L195.9 382.9 L196.2 383.1 L196.6 385.0 L196.9 382.7 L197.2 381.7 L197.5 385.4 L197.8 382.6 L198.1 384.5 L198.4 381.9 L198.7 383.9 L199.1 384.7 L199.4 383.6 L199.7 384.4 L200.0 385.7 L200.3 384.6 L200.6 386.0 L200.9 387.4 L201.2 383.9 L201.6 386.4 L201.9 386.9 L202.2 386.2 L202.5 388.2 L202.8 388.2 L203.1 387.6 L203.4 387.9 L203.7 387.5 L204.1 386.7 L204.4 388.5 L204.7 387.7 L205.0 387.9 L205.3 389.7 L205.6 388.7 L205.9 390.0 L206.2 388.3 L206.6 389.1 L206.9 389.8 L207.2 391.3 L207.5 390.1 L207.8 391.2 L208.1 390.0 L208.4 391.0 L208.7 391.9 L209.1 390.5 L209.4 390.9 L209.7 392.4 L210.0 390.9 L210.3 392.6 L210.6 392.8 L210.9 392.6 L211.2 393.7 L211.6 393.6 L211.9 393.6 L212.2 392.2 L212.5 392.5 L212.8 394.4 L213.1 392.8 L213.4 394.6 L213.7 394.5 L214.1 394.2 L214.4 395.0 L214.7 393.2 L215.0 395.5 L215.3 397.1 L215.6 395.0 L215.9 396.8 L216.2 397.0 L216.6 399.8 L216.9 396.2 L217.2 396.6 L217.5 396.8 L217.8 396.9 L218.1 396.4 L218.4 398.3 L218.7 397.6 L219.1 399.4 L219.4 399.3 L219.7 398.1 L220.0 399.0 L220.3 400.9 L220.6 399.5 L220.9 400.2 L221.2 401.0 L221.6 400.1 L221.9 401.1 L222.2 402.4 L222.5 402.2 L222.8 399.6 L223.1 403.0 L223.4 401.5 L223.7 401.4 L224.1 401.5 L224.4 403.5 L224.7 402.9 L225.0 402.6 L225.3 402.2 L225.6 403.8 L225.9 404.5 L226.2 402.6 L226.6 402.7 L226.9 403.6 L227.2 404.8 L227.5 404.0 L227.8 404.5 L228.1 404.0 L228.4 406.2 L228.7 405.1 L229.1 405.6 L229.4 406.7 L229.7 405.7 L230.0 406.1 L230.3 406.7 L230.6 406.1 L230.9 408.1 L231.2 407.0 L231.6 406.7 L231.9 407.1 L232.2 406.5 L232.5 408.9 L232.8 409.4 L233.1 408.0 L233.4 408.0 L233.7 406.6 L234.1 408.2 L234.4 409.9 L234.7 408.5 L235.0 410.3 L235.3 411.1 L235.6 407.4 L235.9 409.8 L236.2 409.6 L236.6 409.9 L236.9 409.0 L237.2 410.6 L237.5 409.9 L237.8 412.3 L238.1 412.8 L238.4 410.3 L238.7 410.5 L239.0 411.6 L239.4 412.1 L239.7 412.3 L240.0 413.3 L240.3 411.4 L240.6 412.4 L240.9 412.7 L241.2 413.1 L241.5 412.6 L241.9 413.3 L242.2 413.3 L242.5 415.3 L242.8 413.8 L243.1 412.4 L243.4 415.2 L243.7 415.0 L244.0 414.2 L244.4 414.3 L244.7 414.8 L245.0 417.1 L245.3 415.2 L245.6 417.0 L245.9 416.8 L246.2 415.6 L246.5 416.6 L246.9 415.7 L247.2 413.6 L247.5 416.0 L247.8 416.2 L248.1 417.9 L248.4 417.8 L248.7 418.4 L249.0 418.0 L249.4 418.7 L249.7 418.4 L250.0 418.1 L250.3 419.0 L250.6 419.5 L250.9 419.5 L251.2 417.9 L251.5 418.4 L251.9 417.6 L252.2 417.7 L252.5 419.2 L252.8 418.3 L253.1 420.4 L253.4 417.0 L253.7 418.1 L254.0 419.6 L254.4 420.6 L254.7 419.3 L255.0 421.5 L255.3 420.6 L255.6 419.2 L255.9 420.0 L256.2 420.6 L256.5 419.4 L256.9 421.4 L257.2 420.2 L257.5 421.1 L257.8 421.5 L258.1 420.3 L258.4 421.8 L258.7 419.2 L259.0 421.6 L259.4 419.3 L259.7 422.3 L260.0 420.8 L260.3 422.6 L260.6 422.8 L260.9 421.5 L261.2 421.1 L261.5 423.1 L261.9 420.8 L262.2 422.8 L262.5 422.0 L262.8 421.8 L263.1 421.7 L263.4 424.1 L263.7 420.9 L264.0 422.0 L264.4 423.1 L264.7 423.7 L265.0 424.5 L265.3 424.2 L265.6 422.5 L265.9 423.4 L266.2 424.3 L266.5 423.8 L266.9 421.8 L267.2 423.7 L267.5 424.1 L267.8 422.3 L268.1 423.2 L268.4 423.7 L268.7 424.4 L269.0 425.4 L269.4 425.1 L269.7 424.5 L270.0 424.4 L270.3 423.9 L270.6 423.8 L270.9 424.2 L271.2 424.3 L271.5 425.5 L271.9 426.7 L272.2 425.2 L272.5 425.7 L272.8 425.5 L273.1 425.2 L273.4 426.2 L273.7 426.2 L274.0 425.3 L274.4 425.1 L274.7 426.0 L275.0 424.9 L275.3 425.7 L275.6 426.5 L275.9 425.6 L276.2 423.9 L276.5 426.4 L276.9 424.7 L277.2 424.6 L277.5 424.6 L277.8 426.9 L278.1 424.2 L278.4 426.1 L278.7 426.6 L279.0 426.6 L279.4 425.9 L279.7 426.5 L280.0 426.8 L280.3 425.5 L280.6 427.5 L280.9 427.8 L281.2 426.2 L281.5 426.3 L281.9 426.0 L282.2 428.2 L282.5 426.2 L282.8 426.8 L283.1 425.7 L283.4 428.6 L283.7 427.3 L284.0 427.9 L284.4 429.2 L284.7 428.4 L285.0 426.8 L285.3 428.4 L285.6 428.7 L285.9 427.2 L286.2 427.2 L286.5 427.3 L286.9 429.1 L287.2 428.4 L287.5 427.5 L287.8 429.2 L288.1 429.3 L288.4 427.9 L288.7 427.3 L289.0 430.0 L289.4 431.4 L289.7 430.4 L290.0 430.1 L290.3 429.3 L290.6 428.7 L290.9 429.5 L291.2 430.1 L291.5 429.4 L291.9 430.5 L292.2 429.7" fill="none" stroke="#ff5050" stroke-width="0.9" stroke-linejoin="round" />
<path d="M67.5 386.3 L67.8 383.4 L68.1 385.0 L68.4 386.3 L68.7 386.4 L69.1 385.9 L69.4 386.9 L69.7 386.1 L70.0 386.1 L70.3 384.7 L70.6 385.8 L70.9 386.1 L71.2 386.5 L71.6 386.4 L71.9 385.4 L72.2 385.5 L72.5 384.3 L72.8 385.8 L73.1 384.3 L73.4 385.0 L73.7 385.2 L74.1 386.8 L74.4 386.2 L74.7 384.5 L75.0 383.9 L75.3 384.9 L75.6 384.4 L75.9 385.3 L76.2 385.3 L76.6 385.5 L76.9 384.1 L77.2 384.6 L77.5 385.1 L77.8 385.1 L78.1 384.4 L78.4 384.5 L78.7 385.5 L79.1 383.3 L79.4 384.5 L79.7 384.7 L80.0 383.4 L80.3 383.8 L80.6 384.7 L80.9 384.2 L81.2 385.5 L81.6 385.1 L81.9 386.4 L82.2 383.5 L82.5 386.1 L82.8 383.9 L83.1 385.1 L83.4 385.2 L83.7 384.5 L84.1 384.1 L84.4 383.8 L84.7 382.8 L85.0 384.0 L85.3 383.5 L85.6 384.7 L85.9 383.6 L86.2 384.0 L86.6 384.5 L86.9 384.2 L87.2 384.1 L87.5 383.9 L87.8 383.7 L88.1 384.4 L88.4 384.6 L88.7 383.3 L89.1 385.3 L89.4 384.4 L89.7 382.6 L90.0 386.1 L90.3 384.4 L90.6 383.2 L90.9 385.1 L91.2 381.6 L91.6 385.9 L91.9 382.5 L92.2 382.3 L92.5 382.8 L92.8 383.8 L93.1 383.3 L93.4 384.3 L93.7 382.8 L94.1 384.4 L94.4 383.7 L94.7 382.6 L95.0 384.3 L95.3 383.7 L95.6 383.2 L95.9 384.4 L96.2 382.3 L96.6 382.9 L96.9 384.5 L97.2 383.2 L97.5 383.8 L97.8 383.7 L98.1 383.0 L98.4 383.6 L98.7 382.2 L99.1 383.6 L99.4 382.1 L99.7 382.9 L100.0 382.2 L100.3 383.3 L100.6 383.2 L100.9 383.7 L101.2 382.3 L101.6 381.9 L101.9 380.9 L102.2 381.6 L102.5 382.4 L102.8 382.7 L103.1 382.2 L103.4 382.5 L103.7 381.2 L104.1 381.6 L104.4 383.1 L104.7 382.9 L105.0 381.2 L105.3 382.0 L105.6 382.4 L105.9 381.2 L106.2 382.5 L106.6 382.3 L106.9 382.5 L107.2 383.7 L107.5 381.3 L107.8 383.0 L108.1 382.4 L108.4 382.5 L108.7 381.2 L109.1 381.8 L109.4 381.7 L109.7 383.1 L110.0 381.7 L110.3 382.8 L110.6 381.3 L110.9 381.2 L111.2 381.5 L111.6 379.7 L111.9 380.9 L112.2 380.8 L112.5 381.2 L112.8 381.4 L113.1 380.4 L113.4 380.2 L113.7 382.2 L114.1 380.2 L114.4 380.6 L114.7 380.2 L115.0 380.5 L115.3 381.9 L115.6 381.8 L115.9 379.3 L116.2 380.5 L116.6 381.9 L116.9 380.4 L117.2 380.9 L117.5 382.1 L117.8 382.4 L118.1 381.8 L118.4 380.2 L118.7 380.4 L119.1 380.5 L119.4 380.0 L119.7 379.7 L120.0 381.9 L120.3 380.4 L120.6 380.8 L120.9 381.1 L121.2 380.4 L121.6 380.0 L121.9 380.1 L122.2 381.1 L122.5 380.2 L122.8 378.0 L123.1 380.6 L123.4 381.0 L123.7 379.3 L124.1 379.0 L124.4 379.1 L124.7 380.4 L125.0 378.5 L125.3 380.0 L125.6 380.2 L125.9 379.7 L126.2 379.2 L126.6 378.5 L126.9 378.5 L127.2 378.9 L127.5 378.1 L127.8 378.7 L128.1 378.0 L128.4 379.8 L128.7 379.9 L129.1 377.9 L129.4 379.6 L129.7 378.6 L130.0 378.4 L130.3 378.7 L130.6 378.6 L130.9 376.9 L131.2 380.1 L131.6 377.2 L131.9 376.0 L132.2 377.8 L132.5 377.7 L132.8 377.0 L133.1 376.0 L133.4 378.5 L133.7 377.3 L134.1 377.5 L134.4 376.8 L134.7 377.1 L135.0 376.6 L135.3 377.4 L135.6 376.9 L135.9 377.4 L136.2 377.3 L136.6 376.8 L136.9 376.7 L137.2 377.5 L137.5 375.2 L137.8 376.5 L138.1 377.5 L138.4 375.3 L138.7 376.8 L139.1 375.6 L139.4 376.0 L139.7 375.7 L140.0 375.7 L140.3 376.2 L140.6 375.6 L140.9 373.9 L141.2 377.4 L141.6 375.4 L141.9 375.0 L142.2 376.2 L142.5 376.3 L142.8 373.3 L143.1 375.4 L143.4 373.2 L143.7 374.4 L144.1 374.7 L144.4 374.3 L144.7 374.1 L145.0 373.6 L145.3 374.1 L145.6 374.3 L145.9 374.2 L146.2 373.2 L146.6 373.5 L146.9 375.0 L147.2 374.6 L147.5 373.7 L147.8 374.5 L148.1 374.2 L148.4 374.6 L148.7 374.0 L149.1 373.3 L149.4 372.8 L149.7 373.5 L150.0 371.7 L150.3 373.5 L150.6 370.7 L150.9 372.5 L151.2 372.8 L151.6 373.6 L151.9 375.5 L152.2 373.2 L152.5 372.9 L152.8 371.3 L153.1 374.1 L153.4 371.2 L153.7 373.0 L154.1 372.1 L154.4 374.8 L154.7 372.5 L155.0 372.9 L155.3 372.0 L155.6 372.4 L155.9 373.4 L156.2 371.6 L156.6 371.8 L156.9 371.9 L157.2 371.5 L157.5 371.4 L157.8 372.3 L158.1 373.4 L158.4 373.4 L158.7 371.0 L159.1 371.5 L159.4 372.0 L159.7 372.5 L160.0 372.0 L160.3 372.0 L160.6 372.3 L160.9 372.6 L161.2 370.2 L161.6 371.8 L161.9 372.5 L162.2 373.1 L162.5 372.6 L162.8 371.4 L163.1 371.3 L163.4 372.1 L163.7 371.9 L164.1 372.2 L164.4 372.9 L164.7 370.9 L165.0 371.7 L165.3 369.9 L165.6 372.6 L165.9 372.1 L166.2 371.3 L166.6 372.3 L166.9 373.3 L167.2 372.9 L167.5 372.1 L167.8 371.9 L168.1 372.3 L168.4 371.4 L168.7 371.5 L169.1 372.0 L169.4 372.3 L169.7 372.6 L170.0 372.0 L170.3 371.7 L170.6 372.5 L170.9 372.2 L171.2 372.9 L171.6 373.9 L171.9 373.7 L172.2 372.4 L172.5 372.8 L172.8 372.0 L173.1 373.5 L173.4 373.1 L173.7 373.0 L174.1 373.6 L174.4 375.2 L174.7 375.2 L175.0 375.3 L175.3 376.0 L175.6 376.0 L175.9 376.3 L176.2 377.1 L176.6 376.9 L176.9 377.9 L177.2 378.4 L177.5 378.8 L177.8 379.5 L178.1 379.7 L178.4 380.3 L178.7 380.5 L179.1 381.3 L179.4 381.8 L179.7 382.6 L180.0 383.5 L180.3 383.7 L180.6 384.5 L180.9 384.7 L181.2 385.5 L181.6 385.7 L181.9 386.6 L182.2 387.2 L182.5 388.0 L182.8 388.6 L183.1 389.2 L183.4 389.8 L183.7 390.9 L184.1 391.5 L184.4 391.9 L184.7 393.6 L185.0 394.7 L185.3 396.0 L185.6 397.4 L185.9 398.0 L186.2 399.5 L186.6 400.8 L186.9 401.8 L187.2 403.0 L187.5 405.1 L187.8 406.0 L188.1 407.5 L188.4 408.9 L188.7 410.2 L189.1 411.6 L189.4 412.4 L189.7 413.8 L190.0 415.0 L190.3 415.9 L190.6 417.0 L190.9 418.0 L191.2 418.9 L191.6 419.4 L191.9 420.6 L192.2 421.6 L192.5 422.6 L192.8 423.3 L193.1 424.2 L193.4 424.7 L193.7 425.5 L194.1 426.8 L194.4 427.0 L194.7 427.6 L195.0 428.5 L195.3 429.5 L195.6 429.6 L195.9 430.8 L196.2 431.6 L196.6 432.3 L196.9 432.7 L197.2 433.1 L197.5 433.7 L197.8 434.6 L198.1 435.6 L198.4 436.1 L198.7 436.8 L199.1 437.2 L199.4 438.2 L199.7 438.3 L200.0 438.8 L200.3 439.6 L200.6 440.0 L200.9 440.9 L201.2 441.6 L201.6 442.0 L201.9 442.2 L202.2 442.7 L202.5 443.7 L202.8 443.8 L203.1 444.8 L203.4 444.9 L203.7 445.7 L204.1 446.4 L204.4 446.7 L204.7 447.6 L205.0 448.2 L205.3 448.8 L205.6 449.0 L205.9 449.6 L206.2 450.1 L206.6 450.7 L206.9 450.8 L207.2 451.7 L207.5 452.3 L207.8 452.3 L208.1 452.8 L208.4 453.5 L208.7 454.5 L209.1 454.7 L209.4 454.9 L209.7 455.6 L210.0 455.7 L210.3 456.8 L210.6 456.8 L210.9 457.5 L211.2 457.5 L211.6 458.3 L211.9 458.5 L212.2 459.3 L212.5 459.9 L212.8 460.2 L213.1 460.5 L213.4 461.0 L213.7 460.9 L214.1 461.2 L214.4 461.9 L214.7 462.6 L215.0 462.7 L215.3 463.2 L215.6 463.0 L215.9 463.7 L216.2 463.9 L216.6 464.5 L216.9 465.2 L217.2 465.2 L217.5 465.6 L217.8 465.6 L218.1 465.9 L218.4 466.5 L218.7 466.7 L219.1 466.5 L219.4 467.4 L219.7 467.7 L220.0 467.8 L220.3 468.2 L220.6 468.4 L220.9 468.5 L221.2 468.5 L221.6 469.6 L221.9 469.4 L222.2 469.7 L222.5 470.0 L222.8 470.3 L223.1 470.6 L223.4 470.5 L223.7 471.2 L224.1 471.3 L224.4 471.6 L224.7 471.8 L225.0 472.1 L225.3 472.1 L225.6 472.6 L225.9 472.8 L226.2 473.1 L226.6 473.5 L226.9 473.7 L227.2 474.0 L227.5 473.9 L227.8 474.4 L228.1 474.7 L228.4 474.6 L228.7 474.8 L229.1 475.5 L229.4 474.9 L229.7 475.5 L230.0 475.8 L230.3 475.7 L230.6 476.1 L230.9 476.5 L231.2 476.0 L231.6 477.0 L231.9 477.0 L232.2 476.9 L232.5 477.6 L232.8 477.6 L233.1 477.6 L233.4 477.3 L233.7 478.3 L234.1 478.3 L234.4 478.3 L234.7 478.6 L235.0 479.1 L235.3 478.9 L235.6 479.1 L235.9 479.2 L236.2 479.2 L236.6 479.4 L236.9 479.7 L237.2 479.8 L237.5 480.3 L237.8 480.3 L238.1 480.3 L238.4 480.6 L238.7 480.7 L239.0 481.0 L239.4 480.6 L239.7 480.6 L240.0 481.4 L240.3 481.3 L240.6 481.6 L240.9 481.4 L241.2 481.7 L241.5 481.9 L241.9 482.2 L242.2 482.2 L242.5 482.6 L242.8 482.3 L243.1 482.8 L243.4 482.6 L243.7 482.9 L244.0 482.8 L244.4 483.2 L244.7 483.0 L245.0 483.6 L245.3 483.4 L245.6 483.7 L245.9 483.7 L246.2 483.9 L246.5 483.8 L246.9 484.6 L247.2 484.2 L247.5 484.8 L247.8 484.2 L248.1 485.1 L248.4 485.0 L248.7 485.3 L249.0 484.6 L249.4 485.4 L249.7 485.2 L250.0 485.4 L250.3 485.9 L250.6 485.6 L250.9 485.5 L251.2 485.8 L251.5 485.6 L251.9 486.1 L252.2 486.1 L252.5 486.3 L252.8 486.2 L253.1 485.9 L253.4 486.4 L253.7 486.5 L254.0 486.8 L254.4 487.0 L254.7 486.5 L255.0 487.2 L255.3 487.3 L255.6 487.2 L255.9 487.4 L256.2 486.9 L256.5 488.0 L256.9 487.5 L257.2 487.5 L257.5 488.0 L257.8 488.0 L258.1 487.8 L258.4 487.6 L258.7 488.3 L259.0 488.5 L259.4 488.0 L259.7 488.0 L260.0 488.5 L260.3 489.0 L260.6 488.2 L260.9 488.7 L261.2 488.5 L261.5 488.8 L261.9 489.0 L262.2 489.1 L262.5 488.7 L262.8 488.8 L263.1 489.7 L263.4 489.5 L263.7 488.9 L264.0 489.5 L264.4 489.8 L264.7 489.6 L265.0 489.7 L265.3 489.7 L265.6 489.9 L265.9 489.9 L266.2 490.0 L266.5 489.9 L266.9 490.3 L267.2 490.2 L267.5 490.2 L267.8 489.9 L268.1 490.2 L268.4 490.4 L268.7 490.3 L269.0 490.4 L269.4 490.3 L269.7 490.5 L270.0 490.3 L270.3 490.4 L270.6 490.8 L270.9 491.0 L271.2 490.7 L271.5 490.9 L271.9 491.1 L272.2 491.5 L272.5 491.6 L272.8 491.1 L273.1 491.1 L273.4 491.2 L273.7 491.7 L274.0 491.2 L274.4 491.6 L274.7 491.5 L275.0 491.5 L275.3 491.9 L275.6 491.9 L275.9 492.3 L276.2 492.1 L276.5 492.3 L276.9 491.8 L277.2 492.0 L277.5 491.8 L277.8 492.0 L278.1 492.3 L278.4 492.1 L278.7 492.3 L279.0 492.2 L279.4 492.3 L279.7 492.6 L280.0 492.5 L280.3 492.5 L280.6 492.6 L280.9 492.4 L281.2 492.2 L281.5 492.8 L281.9 492.8 L282.2 493.3 L282.5 492.9 L282.8 493.0 L283.1 493.5 L283.4 492.9 L283.7 492.9 L284.0 493.3 L284.4 493.2 L284.7 493.4 L285.0 493.1 L285.3 493.7 L285.6 493.4 L285.9 492.9 L286.2 493.4 L286.5 493.4 L286.9 493.6 L287.2 493.9 L287.5 493.7 L287.8 493.6 L288.1 494.0 L288.4 493.7 L288.7 493.6 L289.0 493.7 L289.4 494.3 L289.7 494.2 L290.0 494.5 L290.3 493.9 L290.6 494.0 L290.9 494.1 L291.2 494.5 L291.5 494.6 L291.9 494.4 L292.2 494.4" fill="none" stroke="#ff0000" stroke-width="1.0" stroke-linejoin="round" />
<path d="M67.5 389.5 L67.8 388.5 L68.1 387.9 L68.4 388.2 L68.7 389.3 L69.1 390.3 L69.4 388.4 L69.7 387.9 L70.0 388.2 L70.3 388.3 L70.6 388.4 L70.9 387.0 L71.2 387.6 L71.6 387.3 L71.9 388.3 L72.2 387.9 L72.5 387.0 L72.8 388.0 L73.1 388.2 L73.4 387.2 L73.7 385.6 L74.1 386.5 L74.4 385.2 L74.7 386.6 L75.0 386.7 L75.3 387.6 L75.6 386.8 L75.9 384.7 L76.2 385.7 L76.6 385.2 L76.9 385.1 L77.2 385.7 L77.5 385.8 L77.8 385.4 L78.1 384.8 L78.4 384.9 L78.7 384.8 L79.1 385.0 L79.4 385.8 L79.7 385.2 L80.0 385.7 L80.3 383.8 L80.6 386.6 L80.9 384.7 L81.2 382.2 L81.6 384.7 L81.9 385.3 L82.2 384.2 L82.5 382.8 L82.8 384.1 L83.1 383.3 L83.4 383.7 L83.7 384.0 L84.1 380.5 L84.4 383.4 L84.7 383.9 L85.0 383.7 L85.3 382.8 L85.6 382.7 L85.9 382.2 L86.2 382.7 L86.6 384.1 L86.9 382.1 L87.2 382.9 L87.5 382.7 L87.8 383.8 L88.1 382.8 L88.4 382.9 L88.7 382.1 L89.1 383.4 L89.4 381.8 L89.7 381.6 L90.0 382.7 L90.3 382.2 L90.6 382.3 L90.9 380.5 L91.2 383.7 L91.6 381.5 L91.9 382.7 L92.2 381.4 L92.5 380.1 L92.8 381.4 L93.1 380.6 L93.4 381.4 L93.7 378.6 L94.1 379.5 L94.4 379.2 L94.7 381.5 L95.0 381.1 L95.3 379.0 L95.6 380.1 L95.9 380.0 L96.2 379.4 L96.6 380.8 L96.9 378.8 L97.2 379.4 L97.5 378.9 L97.8 379.9 L98.1 378.6 L98.4 379.7 L98.7 378.0 L99.1 377.7 L99.4 377.9 L99.7 378.1 L100.0 377.9 L100.3 381.0 L100.6 377.5 L100.9 378.5 L101.2 378.1 L101.6 378.3 L101.9 379.3 L102.2 378.4 L102.5 377.1 L102.8 376.3 L103.1 378.2 L103.4 378.4 L103.7 376.0 L104.1 378.1 L104.4 375.2 L104.7 377.1 L105.0 377.9 L105.3 376.0 L105.6 375.2 L105.9 378.1 L106.2 375.1 L106.6 376.8 L106.9 375.0 L107.2 376.7 L107.5 377.8 L107.8 375.7 L108.1 375.2 L108.4 374.0 L108.7 374.2 L109.1 375.1 L109.4 375.9 L109.7 376.1 L110.0 375.8 L110.3 376.2 L110.6 375.6 L110.9 377.7 L111.2 375.0 L111.6 375.1 L111.9 372.5 L112.2 374.2 L112.5 375.3 L112.8 374.2 L113.1 375.8 L113.4 375.1 L113.7 376.2 L114.1 373.0 L114.4 373.7 L114.7 375.3 L115.0 374.1 L115.3 373.1 L115.6 373.4 L115.9 373.5 L116.2 374.6 L116.6 374.3 L116.9 373.5 L117.2 372.6 L117.5 374.2 L117.8 374.4 L118.1 372.1 L118.4 374.0 L118.7 372.0 L119.1 372.7 L119.4 372.0 L119.7 371.1 L120.0 372.0 L120.3 371.9 L120.6 373.4 L120.9 373.1 L121.2 371.8 L121.6 370.8 L121.9 370.9 L122.2 369.9 L122.5 371.7 L122.8 371.8 L123.1 370.9 L123.4 371.8 L123.7 371.8 L124.1 372.6 L124.4 370.6 L124.7 372.5 L125.0 370.9 L125.3 372.6 L125.6 370.2 L125.9 372.1 L126.2 370.2 L126.6 372.5 L126.9 371.3 L127.2 369.6 L127.5 371.5 L127.8 370.5 L128.1 371.0 L128.4 372.6 L128.7 370.0 L129.1 369.8 L129.4 371.2 L129.7 369.5 L130.0 370.7 L130.3 370.8 L130.6 369.8 L130.9 370.4 L131.2 367.4 L131.6 371.0 L131.9 368.7 L132.2 368.4 L132.5 371.2 L132.8 370.8 L133.1 368.5 L133.4 369.4 L133.7 368.5 L134.1 367.7 L134.4 369.1 L134.7 369.6 L135.0 371.1 L135.3 368.2 L135.6 369.2 L135.9 368.0 L136.2 367.9 L136.6 369.4 L136.9 366.3 L137.2 366.8 L137.5 367.0 L137.8 368.8 L138.1 368.0 L138.4 368.0 L138.7 367.8 L139.1 368.4 L139.4 366.8 L139.7 366.9 L140.0 366.7 L140.3 367.5 L140.6 365.6 L140.9 366.6 L141.2 369.3 L141.6 367.2 L141.9 366.6 L142.2 365.5 L142.5 366.6 L142.8 366.5 L143.1 366.8 L143.4 365.4 L143.7 366.4 L144.1 366.5 L144.4 366.5 L144.7 365.2 L145.0 366.1 L145.3 367.1 L145.6 364.9 L145.9 366.0 L146.2 364.9 L146.6 364.8 L146.9 364.0 L147.2 364.0 L147.5 365.5 L147.8 365.0 L148.1 366.0 L148.4 363.1 L148.7 364.2 L149.1 363.2 L149.4 364.7 L149.7 366.3 L150.0 362.8 L150.3 364.1 L150.6 364.0 L150.9 364.0 L151.2 363.3 L151.6 363.3 L151.9 365.3 L152.2 362.7 L152.5 364.1 L152.8 364.0 L153.1 361.8 L153.4 362.5 L153.7 363.6 L154.1 365.0 L154.4 363.0 L154.7 362.6 L155.0 363.1 L155.3 364.1 L155.6 363.6 L155.9 364.0 L156.2 362.5 L156.6 361.9 L156.9 361.6 L157.2 363.2 L157.5 362.2 L157.8 361.8 L158.1 362.8 L158.4 362.4 L158.7 360.1 L159.1 361.9 L159.4 361.2 L159.7 362.4 L160.0 361.9 L160.3 363.5 L160.6 361.8 L160.9 360.6 L161.2 359.7 L161.6 360.5 L161.9 360.9 L162.2 361.4 L162.5 362.0 L162.8 361.5 L163.1 360.7 L163.4 362.0 L163.7 360.3 L164.1 362.1 L164.4 362.8 L164.7 362.0 L165.0 362.6 L165.3 362.3 L165.6 359.8 L165.9 361.1 L166.2 360.6 L166.6 359.7 L166.9 359.5 L167.2 361.2 L167.5 359.4 L167.8 360.2 L168.1 360.6 L168.4 360.1 L168.7 361.9 L169.1 361.2 L169.4 360.5 L169.7 359.8 L170.0 360.7 L170.3 360.4 L170.6 359.4 L170.9 358.9 L171.2 359.5 L171.6 359.0 L171.9 360.6 L172.2 360.4 L172.5 359.8 L172.8 360.4 L173.1 360.6 L173.4 358.5 L173.7 360.2 L174.1 360.9 L174.4 359.5 L174.7 358.2 L175.0 359.9 L175.3 358.8 L175.6 360.4 L175.9 360.4 L176.2 360.6 L176.6 360.0 L176.9 358.1 L177.2 361.0 L177.5 358.3 L177.8 360.8 L178.1 360.1 L178.4 359.0 L178.7 359.2 L179.1 359.5 L179.4 361.4 L179.7 359.4 L180.0 360.7 L180.3 357.3 L180.6 360.0 L180.9 359.6 L181.2 360.8 L181.6 360.2 L181.9 361.0 L182.2 358.8 L182.5 360.0 L182.8 359.2 L183.1 360.5 L183.4 360.4 L183.7 358.7 L184.1 360.9 L184.4 361.8 L184.7 359.8 L185.0 360.9 L185.3 360.7 L185.6 360.2 L185.9 361.1 L186.2 360.5 L186.6 361.4 L186.9 360.5 L187.2 360.8 L187.5 361.8 L187.8 361.9 L188.1 362.4 L188.4 362.2 L188.7 361.9 L189.1 363.4 L189.4 362.5 L189.7 363.8 L190.0 363.9 L190.3 364.6 L190.6 363.0 L190.9 364.2 L191.2 364.4 L191.6 365.1 L191.9 364.5 L192.2 366.3 L192.5 365.6 L192.8 364.8 L193.1 366.4 L193.4 366.5 L193.7 366.4 L194.1 367.4 L194.4 367.3 L194.7 367.2 L195.0 367.8 L195.3 368.1 L195.6 368.7 L195.9 368.7 L196.2 369.1 L196.6 368.7 L196.9 369.3 L197.2 370.1 L197.5 371.4 L197.8 370.2 L198.1 370.4 L198.4 371.5 L198.7 372.3 L199.1 372.1 L199.4 371.4 L199.7 372.6 L200.0 372.6 L200.3 372.5 L200.6 372.3 L200.9 373.2 L201.2 373.5 L201.6 374.0 L201.9 373.3 L202.2 373.9 L202.5 374.7 L202.8 375.6 L203.1 375.6 L203.4 375.3 L203.7 376.2 L204.1 375.8 L204.4 376.3 L204.7 376.7 L205.0 376.8 L205.3 377.2 L205.6 378.2 L205.9 378.3 L206.2 377.3 L206.6 379.3 L206.9 379.3 L207.2 378.9 L207.5 379.8 L207.8 380.5 L208.1 381.0 L208.4 380.5 L208.7 380.6 L209.1 380.8 L209.4 381.7 L209.7 381.6 L210.0 382.9 L210.3 382.7 L210.6 383.4 L210.9 383.4 L211.2 383.4 L211.6 383.6 L211.9 385.0 L212.2 384.2 L212.5 385.4 L212.8 386.0 L213.1 386.0 L213.4 387.0 L213.7 386.6 L214.1 386.8 L214.4 387.4 L214.7 387.5 L215.0 388.2 L215.3 388.5 L215.6 389.5 L215.9 389.2 L216.2 390.0 L216.6 390.2 L216.9 390.4 L217.2 390.7 L217.5 392.0 L217.8 392.3 L218.1 392.1 L218.4 392.1 L218.7 392.6 L219.1 392.7 L219.4 392.9 L219.7 393.7 L220.0 394.3 L220.3 395.2 L220.6 395.6 L220.9 395.7 L221.2 395.8 L221.6 396.2 L221.9 396.7 L222.2 397.2 L222.5 397.2 L222.8 397.8 L223.1 398.2 L223.4 398.5 L223.7 399.3 L224.1 400.0 L224.4 399.6 L224.7 400.1 L225.0 400.7 L225.3 401.2 L225.6 400.3 L225.9 402.2 L226.2 402.3 L226.6 402.4 L226.9 403.5 L227.2 403.2 L227.5 402.8 L227.8 403.6 L228.1 404.1 L228.4 404.5 L228.7 405.1 L229.1 405.0 L229.4 405.9 L229.7 406.4 L230.0 406.5 L230.3 406.4 L230.6 407.1 L230.9 407.2 L231.2 408.9 L231.6 407.7 L231.9 407.5 L232.2 408.3 L232.5 409.4 L232.8 410.0 L233.1 409.8 L233.4 410.8 L233.7 410.3 L234.1 411.2 L234.4 410.9 L234.7 411.0 L235.0 413.0 L235.3 412.2 L235.6 413.0 L235.9 413.7 L236.2 413.6 L236.6 413.8 L236.9 413.5 L237.2 415.1 L237.5 414.2 L237.8 414.0 L238.1 415.0 L238.4 415.4 L238.7 416.0 L239.0 416.9 L239.4 416.4 L239.7 416.8 L240.0 416.9 L240.3 416.4 L240.6 417.6 L240.9 418.0 L241.2 417.8 L241.5 419.5 L241.9 419.7 L242.2 419.7 L242.5 420.1 L242.8 419.8 L243.1 420.6 L243.4 419.9 L243.7 420.3 L244.0 421.0 L244.4 421.8 L244.7 421.6 L245.0 421.8 L245.3 423.0 L245.6 422.6 L245.9 422.8 L246.2 423.3 L246.5 422.9 L246.9 423.4 L247.2 424.6 L247.5 424.5 L247.8 425.2 L248.1 424.8 L248.4 425.8 L248.7 425.2 L249.0 425.7 L249.4 425.7 L249.7 426.5 L250.0 427.4 L250.3 426.1 L250.6 427.3 L250.9 426.8 L251.2 427.5 L251.5 427.6 L251.9 427.3 L252.2 428.3 L252.5 428.0 L252.8 429.6 L253.1 428.8 L253.4 429.5 L253.7 429.7 L254.0 429.9 L254.4 430.0 L254.7 429.6 L255.0 431.5 L255.3 430.8 L255.6 431.4 L255.9 430.7 L256.2 431.7 L256.5 431.5 L256.9 432.1 L257.2 431.9 L257.5 431.9 L257.8 432.8 L258.1 432.8 L258.4 433.7 L258.7 433.1 L259.0 433.1 L259.4 434.0 L259.7 433.4 L260.0 435.1 L260.3 435.2 L260.6 435.2 L260.9 435.0 L261.2 435.0 L261.5 435.2 L261.9 435.4 L262.2 435.3 L262.5 436.0 L262.8 436.6 L263.1 436.8 L263.4 435.4 L263.7 437.8 L264.0 436.9 L264.4 436.3 L264.7 437.0 L265.0 437.8 L265.3 437.7 L265.6 437.4 L265.9 437.5 L266.2 438.7 L266.5 438.1 L266.9 438.5 L267.2 438.3 L267.5 438.4 L267.8 439.4 L268.1 440.2 L268.4 439.5 L268.7 439.0 L269.0 439.7 L269.4 440.1 L269.7 439.3 L270.0 441.2 L270.3 440.4 L270.6 441.3 L270.9 441.2 L271.2 441.4 L271.5 440.9 L271.9 442.3 L272.2 442.3 L272.5 443.0 L272.8 442.2 L273.1 442.9 L273.4 442.6 L273.7 443.5 L274.0 443.4 L274.4 442.9 L274.7 443.7 L275.0 443.5 L275.3 443.7 L275.6 444.3 L275.9 445.1 L276.2 444.1 L276.5 444.7 L276.9 444.5 L277.2 446.1 L277.5 446.1 L277.8 446.5 L278.1 446.1 L278.4 445.4 L278.7 445.8 L279.0 446.3 L279.4 446.4 L279.7 446.2 L280.0 446.9 L280.3 446.8 L280.6 447.1 L280.9 448.4 L281.2 447.7 L281.5 447.1 L281.9 448.1 L282.2 448.1 L282.5 448.5 L282.8 448.7 L283.1 448.1 L283.4 448.9 L283.7 449.5 L284.0 450.6 L284.4 449.6 L284.7 450.5 L285.0 450.6 L285.3 449.5 L285.6 449.7 L285.9 451.2 L286.2 450.0 L286.5 450.4 L286.9 451.2 L287.2 450.6 L287.5 451.9 L287.8 451.9 L288.1 452.2 L288.4 452.2 L288.7 451.4 L289.0 452.7 L289.4 452.8 L289.7 452.9 L290.0 452.5 L290.3 452.9 L290.6 452.5 L290.9 453.5 L291.2 453.9 L291.5 453.8 L291.9 453.7 L292.2 454.3" fill="none" stroke="#000" stroke-width="1.3" stroke-linejoin="round" />
<path d="M67.5 391.4 L67.8 389.9 L68.1 392.1 L68.4 391.4 L68.7 390.0 L69.1 391.8 L69.4 391.9 L69.7 392.1 L70.0 390.5 L70.3 390.3 L70.6 390.9 L70.9 390.6 L71.2 389.3 L71.6 389.6 L71.9 391.7 L72.2 390.2 L72.5 390.0 L72.8 389.3 L73.1 390.1 L73.4 390.4 L73.7 390.2 L74.1 391.3 L74.4 389.5 L74.7 390.0 L75.0 388.9 L75.3 390.2 L75.6 389.5 L75.9 389.9 L76.2 389.9 L76.6 388.1 L76.9 389.1 L77.2 388.2 L77.5 389.6 L77.8 388.3 L78.1 389.9 L78.4 388.6 L78.7 388.6 L79.1 387.4 L79.4 387.7 L79.7 387.9 L80.0 386.9 L80.3 387.4 L80.6 386.9 L80.9 386.6 L81.2 387.3 L81.6 387.4 L81.9 386.7 L82.2 387.3 L82.5 386.5 L82.8 385.7 L83.1 385.8 L83.4 386.9 L83.7 387.6 L84.1 386.4 L84.4 386.3 L84.7 385.0 L85.0 386.3 L85.3 386.1 L85.6 385.1 L85.9 386.1 L86.2 385.7 L86.6 383.8 L86.9 383.9 L87.2 384.6 L87.5 384.9 L87.8 386.0 L88.1 384.4 L88.4 384.8 L88.7 384.5 L89.1 385.1 L89.4 384.5 L89.7 384.6 L90.0 384.0 L90.3 382.8 L90.6 383.7 L90.9 385.6 L91.2 384.8 L91.6 385.3 L91.9 384.4 L92.2 383.0 L92.5 383.1 L92.8 383.9 L93.1 383.0 L93.4 383.9 L93.7 384.4 L94.1 384.3 L94.4 383.7 L94.7 381.4 L95.0 383.9 L95.3 381.3 L95.6 381.1 L95.9 382.5 L96.2 382.3 L96.6 382.7 L96.9 382.0 L97.2 381.3 L97.5 381.8 L97.8 380.7 L98.1 380.5 L98.4 381.2 L98.7 381.1 L99.1 381.3 L99.4 380.9 L99.7 382.2 L100.0 380.6 L100.3 380.7 L100.6 381.6 L100.9 378.6 L101.2 381.5 L101.6 381.3 L101.9 380.1 L102.2 382.1 L102.5 380.9 L102.8 381.5 L103.1 380.9 L103.4 380.0 L103.7 379.5 L104.1 378.6 L104.4 378.8 L104.7 378.4 L105.0 378.8 L105.3 379.7 L105.6 378.1 L105.9 379.6 L106.2 379.6 L106.6 377.4 L106.9 378.1 L107.2 378.5 L107.5 377.9 L107.8 377.7 L108.1 379.7 L108.4 378.4 L108.7 379.4 L109.1 378.0 L109.4 378.7 L109.7 376.7 L110.0 377.4 L110.3 378.6 L110.6 377.7 L110.9 378.8 L111.2 377.5 L111.6 376.9 L111.9 377.1 L112.2 379.1 L112.5 377.5 L112.8 376.6 L113.1 376.7 L113.4 375.8 L113.7 378.0 L114.1 376.2 L114.4 377.2 L114.7 376.3 L115.0 376.0 L115.3 375.7 L115.6 376.8 L115.9 376.0 L116.2 377.2 L116.6 377.4 L116.9 375.4 L117.2 375.9 L117.5 377.3 L117.8 376.5 L118.1 375.6 L118.4 374.0 L118.7 374.4 L119.1 374.6 L119.4 377.0 L119.7 375.3 L120.0 374.6 L120.3 374.6 L120.6 374.5 L120.9 375.1 L121.2 373.1 L121.6 373.3 L121.9 374.7 L122.2 375.5 L122.5 372.5 L122.8 374.9 L123.1 373.2 L123.4 372.4 L123.7 375.1 L124.1 373.8 L124.4 374.4 L124.7 373.5 L125.0 373.6 L125.3 371.9 L125.6 373.2 L125.9 373.7 L126.2 372.5 L126.6 373.8 L126.9 373.8 L127.2 371.2 L127.5 374.1 L127.8 373.7 L128.1 373.1 L128.4 374.1 L128.7 375.0 L129.1 371.9 L129.4 373.6 L129.7 373.3 L130.0 373.1 L130.3 373.6 L130.6 373.6 L130.9 372.4 L131.2 370.1 L131.6 371.7 L131.9 371.6 L132.2 373.7 L132.5 372.2 L132.8 373.2 L133.1 371.3 L133.4 372.2 L133.7 371.8 L134.1 371.9 L134.4 372.3 L134.7 373.1 L135.0 371.0 L135.3 372.9 L135.6 372.6 L135.9 371.7 L136.2 372.0 L136.6 371.0 L136.9 370.2 L137.2 370.9 L137.5 370.9 L137.8 371.0 L138.1 370.1 L138.4 372.6 L138.7 370.4 L139.1 371.6 L139.4 371.8 L139.7 370.6 L140.0 370.9 L140.3 369.9 L140.6 369.3 L140.9 372.6 L141.2 370.3 L141.6 368.3 L141.9 369.3 L142.2 368.7 L142.5 369.9 L142.8 371.3 L143.1 371.0 L143.4 369.1 L143.7 368.8 L144.1 370.4 L144.4 369.9 L144.7 369.3 L145.0 371.2 L145.3 369.8 L145.6 367.8 L145.9 367.2 L146.2 369.3 L146.6 367.4 L146.9 369.6 L147.2 369.8 L147.5 371.1 L147.8 368.0 L148.1 369.2 L148.4 366.6 L148.7 368.4 L149.1 368.5 L149.4 370.4 L149.7 367.1 L150.0 368.8 L150.3 368.6 L150.6 370.5 L150.9 367.4 L151.2 367.3 L151.6 368.8 L151.9 368.0 L152.2 367.7 L152.5 367.1 L152.8 367.9 L153.1 366.2 L153.4 368.1 L153.7 368.4 L154.1 368.2 L154.4 370.1 L154.7 368.4 L155.0 366.6 L155.3 367.2 L155.6 368.2 L155.9 367.0 L156.2 369.2 L156.6 367.5 L156.9 366.7 L157.2 366.5 L157.5 367.8 L157.8 366.1 L158.1 365.2 L158.4 367.3 L158.7 366.1 L159.1 368.3 L159.4 368.6 L159.7 366.1 L160.0 366.6 L160.3 366.4 L160.6 367.0 L160.9 366.7 L161.2 365.6 L161.6 364.7 L161.9 366.5 L162.2 367.8 L162.5 364.9 L162.8 365.5 L163.1 365.4 L163.4 365.8 L163.7 363.7 L164.1 365.8 L164.4 365.3 L164.7 367.5 L165.0 366.3 L165.3 366.3 L165.6 365.6 L165.9 365.2 L166.2 366.2 L166.6 363.8 L166.9 366.4 L167.2 365.7 L167.5 365.0 L167.8 366.4 L168.1 364.6 L168.4 364.5 L168.7 365.3 L169.1 363.2 L169.4 364.8 L169.7 364.6 L170.0 365.7 L170.3 366.4 L170.6 365.3 L170.9 365.0 L171.2 365.0 L171.6 363.8 L171.9 366.8 L172.2 365.5 L172.5 366.1 L172.8 363.1 L173.1 364.8 L173.4 364.7 L173.7 365.2 L174.1 363.3 L174.4 364.5 L174.7 363.8 L175.0 365.9 L175.3 362.8 L175.6 363.5 L175.9 363.3 L176.2 362.6 L176.6 363.9 L176.9 363.8 L177.2 362.9 L177.5 363.1 L177.8 363.7 L178.1 363.4 L178.4 363.9 L178.7 362.7 L179.1 362.4 L179.4 363.2 L179.7 361.4 L180.0 364.6 L180.3 363.3 L180.6 361.4 L180.9 363.4 L181.2 364.5 L181.6 361.5 L181.9 362.3 L182.2 363.9 L182.5 362.0 L182.8 363.7 L183.1 363.9 L183.4 362.7 L183.7 363.0 L184.1 363.5 L184.4 362.8 L184.7 363.3 L185.0 362.3 L185.3 362.3 L185.6 361.5 L185.9 362.6 L186.2 363.4 L186.6 363.3 L186.9 362.3 L187.2 360.5 L187.5 361.1 L187.8 362.5 L188.1 360.9 L188.4 362.9 L188.7 360.7 L189.1 362.0 L189.4 360.9 L189.7 361.0 L190.0 361.8 L190.3 361.2 L190.6 362.5 L190.9 361.5 L191.2 360.3 L191.6 357.3 L191.9 360.6 L192.2 361.1 L192.5 362.1 L192.8 360.1 L193.1 362.6 L193.4 361.8 L193.7 360.6 L194.1 362.1 L194.4 359.4 L194.7 359.8 L195.0 361.3 L195.3 361.2 L195.6 361.9 L195.9 362.0 L196.2 360.1 L196.6 359.9 L196.9 360.1 L197.2 360.2 L197.5 360.9 L197.8 360.0 L198.1 361.7 L198.4 360.2 L198.7 358.8 L199.1 358.9 L199.4 360.5 L199.7 360.4 L200.0 358.7 L200.3 358.2 L200.6 361.4 L200.9 360.3 L201.2 359.6 L201.6 358.6 L201.9 360.5 L202.2 359.1 L202.5 359.9 L202.8 357.3 L203.1 359.1 L203.4 359.6 L203.7 359.8 L204.1 358.4 L204.4 358.7 L204.7 360.4 L205.0 359.1 L205.3 360.5 L205.6 359.9 L205.9 360.4 L206.2 360.4 L206.6 359.7 L206.9 360.0 L207.2 358.5 L207.5 358.2 L207.8 359.1 L208.1 359.9 L208.4 358.0 L208.7 360.7 L209.1 360.6 L209.4 358.0 L209.7 358.0 L210.0 357.6 L210.3 358.7 L210.6 359.7 L210.9 358.9 L211.2 357.9 L211.6 359.1 L211.9 359.0 L212.2 359.6 L212.5 359.3 L212.8 357.4 L213.1 357.7 L213.4 359.2 L213.7 359.1 L214.1 358.5 L214.4 357.4 L214.7 359.0 L215.0 358.0 L215.3 359.9 L215.6 359.0 L215.9 357.3 L216.2 356.8 L216.6 358.8 L216.9 358.4 L217.2 356.8 L217.5 357.9 L217.8 358.0 L218.1 357.0 L218.4 357.2 L218.7 356.3 L219.1 356.6 L219.4 357.8 L219.7 357.4 L220.0 357.3 L220.3 358.5 L220.6 358.1 L220.9 356.1 L221.2 358.6 L221.6 356.0 L221.9 356.7 L222.2 357.0 L222.5 356.3 L222.8 356.4 L223.1 355.6 L223.4 357.1 L223.7 356.9 L224.1 356.9 L224.4 354.8 L224.7 355.7 L225.0 357.4 L225.3 356.8 L225.6 357.1 L225.9 356.4 L226.2 356.2 L226.6 354.1 L226.9 358.0 L227.2 355.3 L227.5 355.8 L227.8 356.8 L228.1 356.3 L228.4 356.6 L228.7 356.0 L229.1 355.0 L229.4 357.4 L229.7 354.7 L230.0 356.2 L230.3 354.4 L230.6 355.4 L230.9 354.6 L231.2 355.2 L231.6 354.6 L231.9 355.6 L232.2 356.4 L232.5 354.9 L232.8 354.8 L233.1 353.5 L233.4 357.3 L233.7 355.6 L234.1 354.3 L234.4 356.5 L234.7 355.5 L235.0 353.2 L235.3 353.8 L235.6 356.0 L235.9 353.7 L236.2 353.9 L236.6 354.3 L236.9 354.6 L237.2 354.7 L237.5 355.7 L237.8 355.4 L238.1 354.1 L238.4 354.6 L238.7 353.0 L239.0 355.0 L239.4 357.0 L239.7 354.9 L240.0 354.3 L240.3 354.2 L240.6 354.4 L240.9 355.3 L241.2 353.0 L241.5 355.0 L241.9 353.7 L242.2 354.6 L242.5 355.4 L242.8 352.9 L243.1 356.6 L243.4 355.0 L243.7 353.7 L244.0 354.4 L244.4 353.3 L244.7 354.1 L245.0 354.4 L245.3 351.8 L245.6 354.1 L245.9 354.0 L246.2 354.8 L246.5 354.5 L246.9 353.1 L247.2 353.1 L247.5 353.6 L247.8 354.3 L248.1 352.9 L248.4 355.1 L248.7 353.8 L249.0 353.7 L249.4 354.2 L249.7 353.2 L250.0 354.0 L250.3 354.0 L250.6 351.5 L250.9 352.5 L251.2 352.0 L251.5 353.1 L251.9 352.1 L252.2 352.3 L252.5 351.8 L252.8 350.7 L253.1 353.1 L253.4 352.6 L253.7 352.9 L254.0 356.2 L254.4 354.1 L254.7 352.7 L255.0 352.1 L255.3 353.2 L255.6 351.5 L255.9 351.3 L256.2 352.9 L256.5 351.1 L256.9 350.8 L257.2 352.0 L257.5 353.3 L257.8 350.9 L258.1 352.4 L258.4 352.6 L258.7 352.1 L259.0 352.7 L259.4 351.1 L259.7 351.3 L260.0 350.9 L260.3 351.4 L260.6 352.7 L260.9 352.1 L261.2 351.0 L261.5 352.2 L261.9 349.0 L262.2 352.0 L262.5 352.3 L262.8 350.6 L263.1 350.9 L263.4 351.6 L263.7 351.8 L264.0 351.1 L264.4 350.7 L264.7 350.7 L265.0 351.7 L265.3 351.0 L265.6 350.5 L265.9 350.6 L266.2 354.2 L266.5 352.1 L266.9 351.9 L267.2 351.4 L267.5 350.9 L267.8 350.2 L268.1 350.4 L268.4 351.1 L268.7 350.9 L269.0 349.2 L269.4 351.5 L269.7 350.5 L270.0 349.3 L270.3 350.4 L270.6 352.7 L270.9 350.3 L271.2 351.0 L271.5 350.7 L271.9 349.5 L272.2 350.1 L272.5 350.7 L272.8 349.6 L273.1 350.0 L273.4 350.3 L273.7 350.0 L274.0 350.0 L274.4 350.6 L274.7 350.6 L275.0 350.1 L275.3 351.0 L275.6 351.3 L275.9 348.8 L276.2 350.2 L276.5 350.0 L276.9 350.0 L277.2 349.9 L277.5 349.8 L277.8 349.7 L278.1 350.5 L278.4 348.8 L278.7 350.3 L279.0 348.6 L279.4 351.4 L279.7 350.6 L280.0 348.6 L280.3 349.6 L280.6 350.1 L280.9 349.0 L281.2 350.4 L281.5 349.2 L281.9 351.4 L282.2 349.7 L282.5 349.8 L282.8 348.6 L283.1 348.3 L283.4 349.9 L283.7 347.5 L284.0 349.6 L284.4 350.9 L284.7 351.2 L285.0 347.4 L285.3 348.9 L285.6 349.4 L285.9 349.5 L286.2 349.8 L286.5 347.4 L286.9 348.7 L287.2 346.9 L287.5 348.7 L287.8 350.8 L288.1 347.7 L288.4 348.8 L288.7 348.6 L289.0 346.8 L289.4 348.5 L289.7 347.1 L290.0 348.2 L290.3 348.9 L290.6 347.6 L290.9 348.7 L291.2 346.9 L291.5 347.1 L291.9 347.9 L292.2 347.3" fill="none" stroke="#000" stroke-width="1.2" stroke-linejoin="round" />
<path d="M67.5 384.6 L67.8 385.3 L68.1 384.1 L68.4 385.1 L68.7 384.2 L69.1 385.6 L69.4 384.5 L69.7 384.1 L70.0 385.2 L70.3 384.7 L70.6 384.7 L70.9 383.4 L71.2 384.7 L71.6 383.5 L71.9 382.4 L72.2 383.4 L72.5 385.2 L72.8 383.5 L73.1 382.5 L73.4 383.7 L73.7 382.2 L74.1 382.6 L74.4 382.7 L74.7 383.3 L75.0 383.4 L75.3 383.1 L75.6 382.7 L75.9 382.2 L76.2 382.2 L76.6 382.8 L76.9 382.3 L77.2 381.9 L77.5 383.7 L77.8 382.8 L78.1 382.8 L78.4 382.1 L78.7 382.1 L79.1 382.0 L79.4 382.5 L79.7 380.9 L80.0 381.2 L80.3 382.9 L80.6 381.2 L80.9 382.2 L81.2 379.4 L81.6 381.4 L81.9 381.2 L82.2 380.7 L82.5 380.9 L82.8 380.6 L83.1 379.0 L83.4 380.2 L83.7 379.5 L84.1 379.1 L84.4 381.0 L84.7 378.4 L85.0 379.2 L85.3 378.9 L85.6 380.5 L85.9 378.8 L86.2 379.1 L86.6 379.9 L86.9 377.1 L87.2 378.7 L87.5 379.4 L87.8 378.9 L88.1 378.1 L88.4 377.8 L88.7 378.2 L89.1 377.5 L89.4 377.2 L89.7 379.7 L90.0 378.8 L90.3 379.2 L90.6 378.1 L90.9 376.7 L91.2 377.4 L91.6 378.9 L91.9 378.1 L92.2 376.7 L92.5 378.1 L92.8 377.6 L93.1 377.1 L93.4 379.1 L93.7 376.5 L94.1 376.8 L94.4 376.5 L94.7 377.9 L95.0 377.6 L95.3 377.3 L95.6 376.4 L95.9 376.5 L96.2 376.4 L96.6 374.7 L96.9 375.1 L97.2 376.9 L97.5 376.8 L97.8 374.4 L98.1 376.2 L98.4 374.5 L98.7 374.2 L99.1 376.2 L99.4 375.8 L99.7 375.4 L100.0 376.2 L100.3 376.2 L100.6 375.6 L100.9 374.3 L101.2 375.5 L101.6 375.1 L101.9 375.3 L102.2 376.1 L102.5 373.2 L102.8 376.8 L103.1 375.1 L103.4 373.9 L103.7 375.7 L104.1 373.6 L104.4 372.9 L104.7 374.9 L105.0 373.8 L105.3 374.9 L105.6 373.3 L105.9 373.6 L106.2 373.4 L106.6 372.2 L106.9 373.0 L107.2 372.1 L107.5 372.7 L107.8 374.3 L108.1 372.9 L108.4 372.5 L108.7 374.3 L109.1 371.6 L109.4 372.7 L109.7 372.3 L110.0 373.5 L110.3 372.4 L110.6 372.1 L110.9 372.7 L111.2 372.2 L111.6 374.2 L111.9 370.8 L112.2 373.1 L112.5 374.0 L112.8 372.8 L113.1 372.6 L113.4 371.2 L113.7 372.5 L114.1 371.3 L114.4 372.4 L114.7 369.3 L115.0 370.8 L115.3 369.4 L115.6 372.1 L115.9 370.5 L116.2 371.9 L116.6 370.4 L116.9 370.2 L117.2 372.3 L117.5 371.8 L117.8 371.8 L118.1 372.0 L118.4 371.2 L118.7 371.4 L119.1 371.7 L119.4 370.2 L119.7 369.7 L120.0 371.4 L120.3 370.6 L120.6 370.0 L120.9 370.2 L121.2 370.6 L121.6 369.0 L121.9 368.9 L122.2 369.0 L122.5 369.8 L122.8 367.6 L123.1 367.8 L123.4 369.8 L123.7 369.5 L124.1 368.2 L124.4 370.0 L124.7 368.8 L125.0 369.1 L125.3 369.7 L125.6 369.2 L125.9 370.4 L126.2 369.4 L126.6 370.7 L126.9 366.5 L127.2 367.2 L127.5 367.4 L127.8 368.2 L128.1 367.5 L128.4 367.2 L128.7 367.4 L129.1 367.4 L129.4 369.1 L129.7 367.8 L130.0 368.6 L130.3 369.2 L130.6 369.1 L130.9 367.5 L131.2 366.9 L131.6 369.1 L131.9 366.1 L132.2 366.3 L132.5 368.0 L132.8 368.0 L133.1 367.6 L133.4 366.5 L133.7 367.8 L134.1 368.4 L134.4 366.9 L134.7 369.2 L135.0 367.0 L135.3 366.0 L135.6 366.8 L135.9 366.2 L136.2 366.5 L136.6 366.2 L136.9 366.7 L137.2 367.6 L137.5 366.9 L137.8 366.7 L138.1 365.4 L138.4 365.0 L138.7 366.1 L139.1 367.1 L139.4 367.1 L139.7 366.5 L140.0 364.9 L140.3 365.9 L140.6 366.2 L140.9 366.8 L141.2 365.2 L141.6 365.7 L141.9 366.0 L142.2 365.8 L142.5 364.2 L142.8 365.9 L143.1 364.1 L143.4 364.5 L143.7 365.6 L144.1 364.7 L144.4 365.6 L144.7 366.2 L145.0 365.6 L145.3 366.2 L145.6 364.8 L145.9 365.2 L146.2 364.6 L146.6 364.3 L146.9 368.1 L147.2 364.7 L147.5 366.7 L147.8 364.8 L148.1 365.7 L148.4 364.7 L148.7 363.5 L149.1 366.3 L149.4 364.5 L149.7 364.7 L150.0 366.4 L150.3 363.9 L150.6 364.4 L150.9 364.9 L151.2 365.0 L151.6 361.2 L151.9 364.6 L152.2 365.9 L152.5 365.0 L152.8 364.5 L153.1 364.4 L153.4 364.1 L153.7 365.0 L154.1 363.4 L154.4 364.3 L154.7 365.1 L155.0 364.5 L155.3 364.1 L155.6 362.8 L155.9 363.1 L156.2 363.9 L156.6 363.5 L156.9 363.3 L157.2 361.5 L157.5 364.0 L157.8 362.9 L158.1 362.6 L158.4 364.1 L158.7 363.0 L159.1 363.0 L159.4 363.5 L159.7 362.5 L160.0 362.0 L160.3 361.8 L160.6 363.1 L160.9 362.6 L161.2 360.5 L161.6 363.8 L161.9 362.5 L162.2 361.8 L162.5 362.4 L162.8 361.9 L163.1 362.3 L163.4 361.7 L163.7 361.2 L164.1 362.6 L164.4 362.1 L164.7 362.3 L165.0 362.6 L165.3 362.2 L165.6 363.2 L165.9 361.4 L166.2 360.4 L166.6 360.4 L166.9 360.7 L167.2 362.8 L167.5 360.4 L167.8 362.5 L168.1 361.8 L168.4 359.9 L168.7 362.7 L169.1 360.8 L169.4 361.3 L169.7 361.7 L170.0 362.3 L170.3 361.0 L170.6 361.8 L170.9 360.3 L171.2 360.1 L171.6 362.6 L171.9 361.7 L172.2 361.5 L172.5 362.2 L172.8 362.1 L173.1 360.9 L173.4 361.2 L173.7 362.5 L174.1 361.4 L174.4 360.3 L174.7 361.9 L175.0 361.6 L175.3 359.2 L175.6 359.4 L175.9 362.2 L176.2 361.9 L176.6 360.2 L176.9 361.6 L177.2 360.7 L177.5 360.8 L177.8 359.8 L178.1 362.7 L178.4 362.4 L178.7 361.4 L179.1 359.2 L179.4 360.3 L179.7 361.7 L180.0 359.5 L180.3 359.3 L180.6 360.2 L180.9 360.2 L181.2 359.4 L181.6 358.6 L181.9 359.6 L182.2 359.2 L182.5 359.7 L182.8 360.0 L183.1 360.4 L183.4 359.3 L183.7 359.8 L184.1 359.7 L184.4 358.5 L184.7 358.9 L185.0 358.5 L185.3 360.8 L185.6 358.7 L185.9 359.7 L186.2 359.9 L186.6 359.9 L186.9 357.9 L187.2 358.2 L187.5 359.6 L187.8 360.0 L188.1 358.8 L188.4 359.2 L188.7 357.2 L189.1 360.1 L189.4 360.4 L189.7 358.9 L190.0 358.6 L190.3 358.4 L190.6 357.8 L190.9 356.5 L191.2 358.7 L191.6 358.9 L191.9 360.0 L192.2 358.0 L192.5 357.4 L192.8 358.4 L193.1 357.0 L193.4 358.1 L193.7 356.6 L194.1 357.7 L194.4 359.0 L194.7 358.5 L195.0 359.3 L195.3 359.5 L195.6 357.5 L195.9 356.9 L196.2 355.8 L196.6 357.7 L196.9 357.8 L197.2 358.6 L197.5 356.6 L197.8 357.1 L198.1 358.0 L198.4 356.7 L198.7 356.8 L199.1 359.1 L199.4 356.6 L199.7 357.1 L200.0 357.6 L200.3 357.6 L200.6 355.4 L200.9 355.6 L201.2 355.3 L201.6 358.1 L201.9 357.6 L202.2 356.0 L202.5 358.0 L202.8 357.5 L203.1 358.5 L203.4 355.0 L203.7 355.7 L204.1 356.2 L204.4 356.4 L204.7 357.0 L205.0 356.9 L205.3 355.9 L205.6 357.1 L205.9 355.2 L206.2 356.8 L206.6 357.2 L206.9 355.0 L207.2 356.4 L207.5 355.7 L207.8 356.5 L208.1 358.3 L208.4 355.5 L208.7 357.3 L209.1 355.0 L209.4 357.4 L209.7 357.7 L210.0 355.6 L210.3 355.4 L210.6 355.7 L210.9 356.9 L211.2 354.9 L211.6 357.1 L211.9 356.1 L212.2 356.3 L212.5 355.9 L212.8 354.7 L213.1 356.1 L213.4 354.9 L213.7 354.7 L214.1 357.0 L214.4 356.4 L214.7 355.6 L215.0 355.8 L215.3 354.9 L215.6 357.0 L215.9 354.4 L216.2 354.3 L216.6 355.2 L216.9 356.3 L217.2 354.9 L217.5 355.4 L217.8 354.3 L218.1 354.9 L218.4 354.1 L218.7 355.2 L219.1 353.3 L219.4 356.9 L219.7 355.6 L220.0 354.1 L220.3 356.0 L220.6 353.8 L220.9 355.6 L221.2 354.3 L221.6 355.3 L221.9 354.8 L222.2 354.1 L222.5 354.4 L222.8 354.6 L223.1 352.1 L223.4 354.1 L223.7 355.0 L224.1 353.2 L224.4 353.2 L224.7 352.8 L225.0 352.2 L225.3 354.8 L225.6 352.9 L225.9 352.7 L226.2 353.8 L226.6 353.5 L226.9 356.6 L227.2 354.2 L227.5 351.9 L227.8 355.3 L228.1 354.1 L228.4 353.2 L228.7 352.9 L229.1 351.9 L229.4 355.1 L229.7 353.3 L230.0 352.5 L230.3 354.5 L230.6 353.3 L230.9 351.4 L231.2 351.9 L231.6 352.6 L231.9 355.6 L232.2 353.2 L232.5 352.7 L232.8 353.3 L233.1 353.0 L233.4 350.0 L233.7 353.1 L234.1 353.8 L234.4 352.6 L234.7 353.1 L235.0 353.0 L235.3 352.8 L235.6 351.9 L235.9 352.4 L236.2 353.7 L236.6 352.7 L236.9 352.0 L237.2 352.9 L237.5 351.3 L237.8 351.6 L238.1 353.3 L238.4 352.0 L238.7 350.4 L239.0 350.7 L239.4 352.2 L239.7 351.3 L240.0 352.8 L240.3 353.5 L240.6 351.5 L240.9 351.8 L241.2 351.5 L241.5 351.9 L241.9 351.6 L242.2 352.3 L242.5 351.3 L242.8 351.0 L243.1 351.8 L243.4 350.9 L243.7 353.3 L244.0 352.4 L244.4 350.2 L244.7 349.9 L245.0 351.3 L245.3 351.6 L245.6 352.6 L245.9 351.0 L246.2 350.6 L246.5 352.7 L246.9 350.7 L247.2 350.8 L247.5 350.8 L247.8 352.2 L248.1 350.6 L248.4 352.5 L248.7 349.6 L249.0 350.9 L249.4 352.1 L249.7 349.6 L250.0 349.8 L250.3 351.5 L250.6 348.7 L250.9 351.7 L251.2 350.4 L251.5 349.6 L251.9 352.8 L252.2 349.7 L252.5 350.7 L252.8 350.6 L253.1 351.6 L253.4 350.2 L253.7 351.5 L254.0 351.3 L254.4 350.8 L254.7 351.5 L255.0 348.8 L255.3 351.5 L255.6 350.9 L255.9 350.5 L256.2 350.1 L256.5 349.3 L256.9 349.3 L257.2 350.3 L257.5 350.4 L257.8 349.9 L258.1 349.1 L258.4 349.2 L258.7 350.3 L259.0 351.8 L259.4 347.7 L259.7 348.8 L260.0 349.4 L260.3 349.3 L260.6 350.1 L260.9 350.5 L261.2 349.9 L261.5 349.7 L261.9 350.1 L262.2 350.8 L262.5 349.7 L262.8 348.8 L263.1 349.8 L263.4 349.3 L263.7 351.2 L264.0 349.4 L264.4 349.3 L264.7 350.3 L265.0 350.7 L265.3 348.7 L265.6 349.8 L265.9 348.5 L266.2 349.3 L266.5 348.3 L266.9 349.2 L267.2 350.3 L267.5 348.9 L267.8 349.1 L268.1 348.1 L268.4 349.1 L268.7 349.0 L269.0 347.8 L269.4 347.4 L269.7 347.8 L270.0 347.5 L270.3 348.0 L270.6 347.7 L270.9 347.5 L271.2 348.0 L271.5 348.2 L271.9 348.1 L272.2 345.9 L272.5 348.2 L272.8 348.4 L273.1 348.5 L273.4 348.1 L273.7 347.8 L274.0 349.1 L274.4 349.9 L274.7 347.6 L275.0 349.4 L275.3 347.6 L275.6 347.7 L275.9 346.7 L276.2 346.1 L276.5 347.3 L276.9 348.2 L277.2 348.7 L277.5 348.3 L277.8 347.5 L278.1 349.5 L278.4 347.4 L278.7 347.4 L279.0 346.8 L279.4 347.7 L279.7 347.2 L280.0 348.0 L280.3 347.7 L280.6 348.9 L280.9 347.0 L281.2 345.6 L281.5 346.9 L281.9 346.7 L282.2 347.9 L282.5 345.6 L282.8 347.7 L283.1 346.1 L283.4 346.7 L283.7 347.7 L284.0 345.8 L284.4 346.7 L284.7 346.5 L285.0 346.2 L285.3 346.6 L285.6 346.9 L285.9 346.1 L286.2 346.9 L286.5 346.4 L286.9 347.1 L287.2 347.8 L287.5 347.0 L287.8 346.8 L288.1 346.3 L288.4 345.1 L288.7 347.8 L289.0 346.0 L289.4 348.2 L289.7 347.1 L290.0 346.5 L290.3 348.2 L290.6 347.7 L290.9 345.8 L291.2 345.8 L291.5 345.9 L291.9 346.6 L292.2 343.7" fill="none" stroke="#000" stroke-width="1.2" stroke-linejoin="round" />
<path d="M67.5 376.9 L67.8 377.5 L68.1 375.0 L68.4 375.9 L68.7 376.8 L69.1 375.2 L69.4 376.2 L69.7 375.6 L70.0 375.9 L70.3 377.1 L70.6 375.1 L70.9 375.8 L71.2 376.8 L71.6 376.5 L71.9 374.8 L72.2 376.0 L72.5 375.5 L72.8 374.9 L73.1 375.3 L73.4 376.8 L73.7 374.7 L74.1 374.3 L74.4 374.3 L74.7 373.5 L75.0 374.6 L75.3 374.2 L75.6 373.3 L75.9 375.0 L76.2 373.0 L76.6 372.9 L76.9 373.8 L77.2 372.7 L77.5 373.6 L77.8 375.1 L78.1 373.1 L78.4 373.8 L78.7 373.7 L79.1 373.8 L79.4 372.6 L79.7 373.3 L80.0 374.4 L80.3 373.2 L80.6 372.9 L80.9 374.2 L81.2 373.9 L81.6 373.8 L81.9 373.9 L82.2 372.9 L82.5 372.2 L82.8 371.3 L83.1 371.9 L83.4 371.9 L83.7 371.7 L84.1 371.5 L84.4 373.1 L84.7 371.9 L85.0 372.2 L85.3 372.6 L85.6 372.8 L85.9 372.8 L86.2 372.5 L86.6 373.3 L86.9 371.6 L87.2 372.0 L87.5 371.8 L87.8 371.5 L88.1 371.1 L88.4 372.3 L88.7 371.7 L89.1 373.1 L89.4 373.6 L89.7 373.2 L90.0 369.8 L90.3 373.0 L90.6 370.7 L90.9 369.7 L91.2 371.4 L91.6 369.4 L91.9 369.1 L92.2 369.9 L92.5 368.4 L92.8 370.0 L93.1 371.2 L93.4 370.0 L93.7 370.8 L94.1 371.5 L94.4 371.4 L94.7 367.9 L95.0 370.6 L95.3 370.0 L95.6 370.6 L95.9 369.7 L96.2 370.0 L96.6 370.1 L96.9 370.8 L97.2 370.9 L97.5 370.2 L97.8 369.1 L98.1 367.3 L98.4 368.2 L98.7 367.4 L99.1 368.6 L99.4 369.1 L99.7 370.2 L100.0 368.9 L100.3 370.8 L100.6 369.0 L100.9 367.1 L101.2 368.3 L101.6 367.4 L101.9 368.8 L102.2 369.7 L102.5 368.7 L102.8 368.6 L103.1 367.0 L103.4 366.2 L103.7 368.7 L104.1 368.3 L104.4 368.0 L104.7 368.1 L105.0 368.9 L105.3 367.5 L105.6 367.2 L105.9 367.1 L106.2 368.6 L106.6 367.5 L106.9 368.9 L107.2 366.3 L107.5 368.1 L107.8 367.3 L108.1 367.4 L108.4 367.5 L108.7 367.9 L109.1 368.5 L109.4 365.1 L109.7 366.4 L110.0 366.3 L110.3 364.5 L110.6 366.6 L110.9 365.9 L111.2 366.3 L111.6 365.1 L111.9 365.7 L112.2 365.8 L112.5 366.3 L112.8 365.7 L113.1 364.8 L113.4 367.9 L113.7 365.9 L114.1 366.2 L114.4 366.0 L114.7 367.5 L115.0 364.9 L115.3 366.3 L115.6 365.7 L115.9 365.9 L116.2 366.9 L116.6 365.7 L116.9 367.0 L117.2 366.0 L117.5 365.4 L117.8 365.0 L118.1 364.9 L118.4 365.0 L118.7 362.8 L119.1 364.4 L119.4 365.9 L119.7 365.3 L120.0 365.3 L120.3 364.7 L120.6 365.1 L120.9 365.3 L121.2 362.8 L121.6 364.3 L121.9 364.6 L122.2 364.5 L122.5 364.4 L122.8 362.8 L123.1 363.6 L123.4 363.0 L123.7 367.0 L124.1 363.6 L124.4 362.9 L124.7 361.9 L125.0 363.8 L125.3 365.4 L125.6 363.1 L125.9 364.2 L126.2 365.3 L126.6 364.1 L126.9 362.5 L127.2 362.3 L127.5 362.7 L127.8 364.4 L128.1 360.9 L128.4 364.4 L128.7 363.3 L129.1 364.6 L129.4 361.9 L129.7 362.7 L130.0 362.2 L130.3 362.9 L130.6 363.0 L130.9 362.7 L131.2 364.7 L131.6 361.9 L131.9 361.9 L132.2 363.1 L132.5 362.7 L132.8 362.4 L133.1 361.1 L133.4 362.1 L133.7 362.5 L134.1 363.0 L134.4 363.9 L134.7 363.0 L135.0 362.3 L135.3 362.5 L135.6 362.2 L135.9 361.5 L136.2 361.8 L136.6 361.9 L136.9 361.5 L137.2 361.9 L137.5 362.1 L137.8 361.5 L138.1 363.6 L138.4 360.7 L138.7 363.1 L139.1 361.0 L139.4 361.8 L139.7 360.7 L140.0 361.7 L140.3 362.6 L140.6 360.6 L140.9 361.4 L141.2 361.4 L141.6 361.4 L141.9 360.5 L142.2 360.7 L142.5 361.2 L142.8 362.8 L143.1 361.7 L143.4 361.2 L143.7 359.5 L144.1 360.8 L144.4 361.3 L144.7 360.0 L145.0 361.2 L145.3 361.1 L145.6 360.9 L145.9 362.4 L146.2 360.0 L146.6 360.5 L146.9 361.1 L147.2 361.9 L147.5 360.6 L147.8 359.4 L148.1 361.3 L148.4 361.7 L148.7 360.2 L149.1 362.1 L149.4 362.7 L149.7 360.9 L150.0 361.1 L150.3 360.7 L150.6 360.9 L150.9 360.0 L151.2 360.5 L151.6 360.9 L151.9 360.7 L152.2 359.6 L152.5 359.2 L152.8 359.3 L153.1 359.4 L153.4 363.2 L153.7 361.0 L154.1 360.3 L154.4 359.7 L154.7 361.4 L155.0 358.5 L155.3 359.5 L155.6 360.4 L155.9 359.6 L156.2 360.0 L156.6 360.4 L156.9 359.1 L157.2 360.0 L157.5 360.9 L157.8 360.1 L158.1 359.5 L158.4 360.4 L158.7 358.1 L159.1 360.3 L159.4 357.6 L159.7 358.3 L160.0 360.1 L160.3 359.0 L160.6 357.9 L160.9 359.2 L161.2 360.1 L161.6 358.8 L161.9 357.0 L162.2 360.3 L162.5 358.3 L162.8 358.7 L163.1 358.8 L163.4 359.0 L163.7 358.9 L164.1 357.6 L164.4 357.9 L164.7 359.4 L165.0 356.9 L165.3 359.6 L165.6 357.7 L165.9 358.1 L166.2 357.1 L166.6 357.8 L166.9 357.1 L167.2 358.1 L167.5 357.1 L167.8 357.6 L168.1 355.8 L168.4 358.5 L168.7 356.6 L169.1 357.3 L169.4 357.5 L169.7 358.2 L170.0 357.2 L170.3 358.9 L170.6 358.8 L170.9 356.7 L171.2 358.9 L171.6 355.9 L171.9 357.5 L172.2 357.0 L172.5 357.1 L172.8 356.7 L173.1 357.3 L173.4 357.4 L173.7 357.1 L174.1 355.9 L174.4 355.8 L174.7 355.6 L175.0 356.4 L175.3 356.9 L175.6 358.2 L175.9 355.9 L176.2 355.7 L176.6 356.8 L176.9 355.6 L177.2 355.1 L177.5 356.2 L177.8 355.2 L178.1 355.9 L178.4 357.8 L178.7 356.5 L179.1 356.4 L179.4 355.4 L179.7 356.7 L180.0 356.3 L180.3 356.7 L180.6 355.8 L180.9 355.6 L181.2 354.7 L181.6 354.8 L181.9 355.3 L182.2 355.2 L182.5 355.3 L182.8 355.2 L183.1 353.8 L183.4 357.6 L183.7 355.3 L184.1 354.8 L184.4 354.0 L184.7 356.0 L185.0 354.6 L185.3 354.0 L185.6 355.2 L185.9 356.6 L186.2 355.0 L186.6 355.8 L186.9 354.0 L187.2 355.3 L187.5 352.8 L187.8 354.3 L188.1 355.1 L188.4 354.8 L188.7 355.3 L189.1 353.8 L189.4 352.7 L189.7 354.3 L190.0 353.1 L190.3 354.8 L190.6 353.6 L190.9 351.6 L191.2 355.1 L191.6 352.5 L191.9 352.5 L192.2 355.4 L192.5 354.9 L192.8 354.4 L193.1 352.5 L193.4 353.8 L193.7 353.5 L194.1 352.6 L194.4 353.1 L194.7 352.9 L195.0 353.4 L195.3 351.9 L195.6 353.7 L195.9 351.3 L196.2 353.2 L196.6 353.5 L196.9 352.1 L197.2 352.2 L197.5 354.5 L197.8 352.3 L198.1 353.8 L198.4 353.2 L198.7 351.6 L199.1 353.1 L199.4 351.9 L199.7 352.6 L200.0 350.3 L200.3 352.2 L200.6 353.2 L200.9 353.0 L201.2 352.8 L201.6 351.7 L201.9 351.8 L202.2 350.8 L202.5 351.5 L202.8 351.5 L203.1 351.3 L203.4 351.6 L203.7 351.2 L204.1 350.7 L204.4 350.6 L204.7 351.8 L205.0 352.9 L205.3 352.0 L205.6 350.9 L205.9 353.4 L206.2 351.5 L206.6 350.5 L206.9 351.4 L207.2 351.9 L207.5 349.1 L207.8 349.4 L208.1 350.9 L208.4 349.4 L208.7 349.3 L209.1 351.6 L209.4 347.9 L209.7 351.3 L210.0 350.6 L210.3 351.3 L210.6 350.2 L210.9 351.4 L211.2 350.1 L211.6 349.0 L211.9 349.8 L212.2 350.2 L212.5 348.4 L212.8 350.7 L213.1 348.9 L213.4 350.1 L213.7 349.5 L214.1 349.6 L214.4 349.5 L214.7 349.6 L215.0 350.3 L215.3 350.0 L215.6 349.0 L215.9 349.5 L216.2 350.4 L216.6 349.9 L216.9 349.9 L217.2 349.2 L217.5 348.9 L217.8 349.0 L218.1 349.6 L218.4 348.9 L218.7 350.2 L219.1 351.6 L219.4 348.9 L219.7 350.3 L220.0 349.6 L220.3 349.8 L220.6 348.0 L220.9 349.7 L221.2 348.2 L221.6 348.9 L221.9 349.6 L222.2 349.9 L222.5 347.9 L222.8 347.9 L223.1 347.5 L223.4 346.4 L223.7 347.9 L224.1 347.8 L224.4 348.1 L224.7 347.9 L225.0 348.3 L225.3 348.7 L225.6 345.9 L225.9 349.6 L226.2 347.5 L226.6 347.3 L226.9 347.5 L227.2 348.5 L227.5 347.7 L227.8 347.9 L228.1 348.5 L228.4 347.4 L228.7 347.7 L229.1 347.8 L229.4 346.6 L229.7 348.2 L230.0 346.7 L230.3 347.7 L230.6 346.7 L230.9 347.0 L231.2 346.7 L231.6 347.9 L231.9 347.6 L232.2 347.6 L232.5 346.6 L232.8 346.0 L233.1 345.7 L233.4 347.1 L233.7 346.5 L234.1 348.1 L234.4 348.6 L234.7 347.3 L235.0 347.0 L235.3 347.8 L235.6 348.0 L235.9 345.8 L236.2 347.0 L236.6 347.8 L236.9 343.9 L237.2 345.9 L237.5 346.3 L237.8 345.3 L238.1 346.7 L238.4 344.4 L238.7 347.3 L239.0 347.0 L239.4 345.9 L239.7 346.4 L240.0 344.3 L240.3 347.1 L240.6 346.3 L240.9 345.3 L241.2 344.9 L241.5 344.5 L241.9 345.1 L242.2 343.2 L242.5 345.7 L242.8 345.1 L243.1 344.4 L243.4 345.5 L243.7 345.4 L244.0 345.5 L244.4 345.6 L244.7 346.1 L245.0 345.5 L245.3 346.4 L245.6 344.5 L245.9 346.3 L246.2 342.8 L246.5 343.1 L246.9 343.6 L247.2 344.8 L247.5 345.1 L247.8 343.4 L248.1 344.3 L248.4 343.9 L248.7 345.1 L249.0 343.3 L249.4 345.1 L249.7 344.1 L250.0 345.9 L250.3 344.8 L250.6 343.6 L250.9 344.5 L251.2 344.4 L251.5 343.2 L251.9 344.0 L252.2 342.7 L252.5 346.1 L252.8 343.3 L253.1 343.3 L253.4 345.2 L253.7 344.9 L254.0 342.8 L254.4 344.6 L254.7 344.1 L255.0 342.9 L255.3 343.7 L255.6 342.9 L255.9 344.2 L256.2 343.0 L256.5 342.2 L256.9 342.9 L257.2 345.3 L257.5 342.5 L257.8 343.0 L258.1 343.9 L258.4 341.6 L258.7 344.6 L259.0 341.1 L259.4 343.4 L259.7 341.3 L260.0 342.8 L260.3 344.0 L260.6 342.6 L260.9 342.3 L261.2 342.1 L261.5 341.5 L261.9 343.3 L262.2 342.0 L262.5 341.7 L262.8 342.6 L263.1 343.2 L263.4 343.2 L263.7 341.5 L264.0 341.4 L264.4 342.9 L264.7 343.3 L265.0 340.8 L265.3 343.5 L265.6 341.8 L265.9 342.7 L266.2 343.5 L266.5 341.7 L266.9 341.9 L267.2 340.3 L267.5 339.5 L267.8 341.8 L268.1 340.6 L268.4 340.5 L268.7 342.0 L269.0 342.3 L269.4 339.9 L269.7 341.7 L270.0 341.3 L270.3 341.5 L270.6 341.3 L270.9 341.7 L271.2 340.4 L271.5 339.9 L271.9 341.4 L272.2 342.3 L272.5 340.9 L272.8 342.3 L273.1 341.5 L273.4 339.6 L273.7 338.5 L274.0 340.4 L274.4 341.7 L274.7 339.9 L275.0 342.7 L275.3 341.2 L275.6 339.0 L275.9 339.7 L276.2 341.7 L276.5 341.9 L276.9 339.5 L277.2 340.3 L277.5 340.8 L277.8 339.8 L278.1 340.7 L278.4 341.9 L278.7 339.3 L279.0 340.6 L279.4 340.9 L279.7 341.2 L280.0 339.6 L280.3 340.6 L280.6 339.2 L280.9 340.0 L281.2 338.6 L281.5 340.0 L281.9 340.2 L282.2 341.4 L282.5 340.5 L282.8 338.8 L283.1 336.5 L283.4 340.5 L283.7 340.3 L284.0 338.9 L284.4 338.8 L284.7 339.8 L285.0 339.0 L285.3 340.6 L285.6 339.3 L285.9 338.1 L286.2 337.4 L286.5 339.1 L286.9 339.1 L287.2 338.4 L287.5 337.7 L287.8 338.2 L288.1 339.4 L288.4 338.3 L288.7 337.6 L289.0 339.2 L289.4 339.7 L289.7 337.9 L290.0 338.0 L290.3 337.4 L290.6 338.2 L290.9 338.9 L291.2 338.6 L291.5 339.1 L291.9 339.0 L292.2 338.6" fill="none" stroke="#000" stroke-width="1.2" stroke-linejoin="round" />
<path d="M67.5 384.5 L67.8 382.7 L68.1 385.1 L68.4 383.8 L68.7 384.2 L69.1 381.9 L69.4 383.1 L69.7 383.7 L70.0 382.4 L70.3 383.1 L70.6 383.6 L70.9 381.3 L71.2 382.1 L71.6 380.9 L71.9 381.4 L72.2 381.7 L72.5 382.3 L72.8 383.5 L73.1 381.5 L73.4 382.1 L73.7 381.4 L74.1 382.0 L74.4 382.6 L74.7 382.9 L75.0 381.0 L75.3 380.2 L75.6 381.8 L75.9 380.9 L76.2 379.8 L76.6 382.1 L76.9 381.5 L77.2 382.2 L77.5 379.7 L77.8 380.5 L78.1 381.2 L78.4 382.4 L78.7 380.7 L79.1 379.4 L79.4 380.6 L79.7 380.7 L80.0 379.4 L80.3 381.3 L80.6 379.9 L80.9 379.2 L81.2 380.6 L81.6 380.5 L81.9 379.3 L82.2 379.5 L82.5 379.6 L82.8 379.0 L83.1 378.9 L83.4 380.0 L83.7 379.6 L84.1 378.3 L84.4 377.5 L84.7 377.2 L85.0 379.4 L85.3 377.2 L85.6 377.5 L85.9 378.2 L86.2 377.6 L86.6 377.1 L86.9 376.0 L87.2 378.9 L87.5 377.1 L87.8 377.8 L88.1 377.7 L88.4 376.2 L88.7 376.4 L89.1 378.3 L89.4 377.4 L89.7 376.8 L90.0 378.4 L90.3 375.9 L90.6 376.8 L90.9 376.4 L91.2 376.1 L91.6 374.5 L91.9 376.3 L92.2 376.6 L92.5 374.3 L92.8 376.5 L93.1 376.5 L93.4 377.3 L93.7 374.6 L94.1 375.3 L94.4 375.0 L94.7 375.2 L95.0 375.5 L95.3 376.1 L95.6 376.0 L95.9 374.6 L96.2 374.8 L96.6 373.1 L96.9 375.5 L97.2 375.1 L97.5 375.6 L97.8 373.0 L98.1 375.7 L98.4 373.4 L98.7 372.6 L99.1 374.2 L99.4 373.2 L99.7 376.1 L100.0 374.2 L100.3 375.4 L100.6 373.4 L100.9 373.5 L101.2 374.2 L101.6 372.3 L101.9 372.8 L102.2 373.7 L102.5 373.6 L102.8 374.5 L103.1 373.0 L103.4 370.5 L103.7 373.4 L104.1 372.1 L104.4 373.0 L104.7 371.5 L105.0 371.8 L105.3 372.4 L105.6 374.0 L105.9 372.5 L106.2 370.6 L106.6 372.1 L106.9 371.1 L107.2 372.2 L107.5 373.5 L107.8 371.0 L108.1 371.0 L108.4 371.9 L108.7 371.6 L109.1 370.8 L109.4 371.7 L109.7 370.6 L110.0 371.1 L110.3 373.3 L110.6 370.9 L110.9 371.2 L111.2 371.4 L111.6 370.0 L111.9 370.9 L112.2 369.7 L112.5 369.0 L112.8 370.0 L113.1 371.7 L113.4 370.7 L113.7 368.9 L114.1 370.1 L114.4 370.6 L114.7 369.7 L115.0 369.0 L115.3 369.2 L115.6 368.7 L115.9 370.2 L116.2 369.5 L116.6 369.4 L116.9 369.1 L117.2 371.3 L117.5 369.2 L117.8 370.3 L118.1 367.3 L118.4 367.1 L118.7 366.9 L119.1 367.7 L119.4 369.0 L119.7 367.4 L120.0 368.6 L120.3 367.7 L120.6 369.2 L120.9 368.8 L121.2 367.6 L121.6 366.2 L121.9 368.0 L122.2 365.5 L122.5 364.9 L122.8 369.1 L123.1 367.7 L123.4 368.7 L123.7 367.7 L124.1 368.1 L124.4 367.5 L124.7 366.4 L125.0 366.3 L125.3 367.0 L125.6 367.2 L125.9 367.0 L126.2 367.0 L126.6 366.4 L126.9 367.0 L127.2 366.4 L127.5 368.2 L127.8 365.9 L128.1 364.9 L128.4 366.5 L128.7 368.1 L129.1 365.1 L129.4 366.8 L129.7 369.6 L130.0 366.6 L130.3 365.7 L130.6 365.8 L130.9 364.9 L131.2 365.5 L131.6 365.9 L131.9 368.1 L132.2 367.1 L132.5 365.7 L132.8 365.1 L133.1 366.9 L133.4 366.4 L133.7 365.2 L134.1 367.6 L134.4 367.6 L134.7 365.7 L135.0 365.2 L135.3 365.9 L135.6 367.8 L135.9 365.2 L136.2 366.6 L136.6 364.4 L136.9 365.2 L137.2 364.8 L137.5 364.3 L137.8 365.5 L138.1 364.0 L138.4 363.5 L138.7 364.3 L139.1 363.3 L139.4 365.3 L139.7 363.6 L140.0 364.2 L140.3 365.5 L140.6 364.5 L140.9 364.9 L141.2 364.9 L141.6 364.2 L141.9 363.1 L142.2 364.5 L142.5 364.0 L142.8 365.6 L143.1 363.9 L143.4 362.7 L143.7 363.0 L144.1 363.3 L144.4 364.4 L144.7 364.8 L145.0 363.8 L145.3 365.1 L145.6 364.9 L145.9 362.5 L146.2 364.5 L146.6 361.5 L146.9 364.9 L147.2 362.9 L147.5 364.5 L147.8 363.0 L148.1 364.3 L148.4 363.1 L148.7 363.2 L149.1 363.5 L149.4 362.4 L149.7 361.3 L150.0 363.5 L150.3 361.9 L150.6 362.7 L150.9 362.8 L151.2 360.3 L151.6 365.0 L151.9 363.3 L152.2 364.5 L152.5 362.8 L152.8 362.7 L153.1 358.3 L153.4 362.0 L153.7 360.4 L154.1 360.9 L154.4 362.7 L154.7 361.6 L155.0 360.3 L155.3 361.9 L155.6 361.8 L155.9 361.4 L156.2 363.5 L156.6 362.7 L156.9 361.5 L157.2 361.2 L157.5 362.7 L157.8 362.0 L158.1 361.8 L158.4 361.8 L158.7 360.8 L159.1 361.4 L159.4 361.3 L159.7 362.9 L160.0 362.5 L160.3 361.0 L160.6 363.0 L160.9 361.0 L161.2 361.9 L161.6 362.0 L161.9 360.4 L162.2 361.8 L162.5 362.0 L162.8 361.7 L163.1 360.9 L163.4 358.0 L163.7 363.1 L164.1 360.8 L164.4 361.0 L164.7 359.7 L165.0 361.1 L165.3 363.3 L165.6 359.2 L165.9 361.7 L166.2 360.6 L166.6 362.0 L166.9 361.6 L167.2 360.9 L167.5 359.5 L167.8 359.4 L168.1 360.9 L168.4 359.7 L168.7 360.6 L169.1 360.1 L169.4 360.0 L169.7 359.4 L170.0 360.7 L170.3 360.2 L170.6 359.7 L170.9 359.8 L171.2 360.8 L171.6 358.0 L171.9 360.3 L172.2 359.0 L172.5 359.5 L172.8 358.4 L173.1 362.0 L173.4 357.4 L173.7 359.8 L174.1 360.9 L174.4 359.4 L174.7 357.1 L175.0 358.9 L175.3 360.7 L175.6 359.9 L175.9 357.9 L176.2 360.8 L176.6 359.5 L176.9 359.5 L177.2 356.9 L177.5 359.5 L177.8 357.7 L178.1 359.8 L178.4 359.9 L178.7 357.9 L179.1 358.3 L179.4 360.8 L179.7 358.2 L180.0 358.2 L180.3 359.5 L180.6 358.6 L180.9 358.5 L181.2 359.2 L181.6 359.3 L181.9 359.4 L182.2 358.9 L182.5 360.0 L182.8 358.6 L183.1 360.1 L183.4 358.4 L183.7 358.5 L184.1 359.5 L184.4 357.4 L184.7 356.2 L185.0 356.9 L185.3 359.7 L185.6 356.8 L185.9 357.9 L186.2 358.2 L186.6 358.7 L186.9 358.0 L187.2 356.5 L187.5 357.4 L187.8 358.4 L188.1 358.6 L188.4 358.3 L188.7 357.2 L189.1 355.8 L189.4 358.9 L189.7 357.7 L190.0 358.1 L190.3 358.4 L190.6 357.2 L190.9 357.0 L191.2 359.0 L191.6 358.6 L191.9 356.2 L192.2 357.1 L192.5 356.8 L192.8 357.9 L193.1 357.7 L193.4 356.8 L193.7 357.8 L194.1 358.4 L194.4 357.2 L194.7 356.2 L195.0 358.2 L195.3 355.9 L195.6 356.3 L195.9 357.9 L196.2 357.0 L196.6 357.0 L196.9 356.2 L197.2 356.2 L197.5 358.2 L197.8 358.3 L198.1 355.7 L198.4 356.7 L198.7 356.3 L199.1 356.4 L199.4 355.1 L199.7 358.0 L200.0 355.5 L200.3 357.5 L200.6 355.8 L200.9 355.2 L201.2 358.1 L201.6 356.1 L201.9 356.8 L202.2 356.8 L202.5 356.5 L202.8 357.6 L203.1 357.5 L203.4 355.8 L203.7 355.6 L204.1 357.1 L204.4 358.0 L204.7 354.0 L205.0 355.3 L205.3 356.1 L205.6 357.5 L205.9 357.0 L206.2 356.2 L206.6 357.5 L206.9 354.7 L207.2 356.3 L207.5 356.0 L207.8 357.5 L208.1 357.4 L208.4 357.3 L208.7 356.2 L209.1 356.8 L209.4 356.8 L209.7 356.2 L210.0 356.3 L210.3 355.0 L210.6 356.8 L210.9 357.7 L211.2 356.6 L211.6 355.1 L211.9 357.3 L212.2 356.6 L212.5 357.1 L212.8 356.3 L213.1 356.5 L213.4 357.7 L213.7 357.1 L214.1 355.9 L214.4 355.8 L214.7 356.0 L215.0 356.1 L215.3 357.4 L215.6 357.5 L215.9 356.1 L216.2 358.4 L216.6 357.3 L216.9 359.2 L217.2 357.7 L217.5 358.1 L217.8 358.7 L218.1 356.8 L218.4 358.3 L218.7 357.9 L219.1 357.9 L219.4 358.4 L219.7 356.2 L220.0 358.3 L220.3 357.6 L220.6 359.2 L220.9 358.4 L221.2 358.3 L221.6 358.4 L221.9 358.7 L222.2 358.0 L222.5 356.6 L222.8 358.4 L223.1 358.5 L223.4 358.8 L223.7 355.8 L224.1 356.8 L224.4 358.0 L224.7 357.9 L225.0 359.5 L225.3 359.0 L225.6 358.6 L225.9 358.8 L226.2 359.9 L226.6 359.9 L226.9 358.6 L227.2 358.9 L227.5 361.5 L227.8 359.2 L228.1 358.1 L228.4 360.2 L228.7 359.3 L229.1 361.2 L229.4 358.8 L229.7 361.0 L230.0 361.2 L230.3 360.3 L230.6 357.5 L230.9 360.7 L231.2 361.5 L231.6 359.7 L231.9 360.1 L232.2 358.6 L232.5 361.8 L232.8 362.2 L233.1 361.0 L233.4 360.3 L233.7 360.4 L234.1 359.7 L234.4 362.5 L234.7 361.9 L235.0 361.2 L235.3 360.3 L235.6 360.7 L235.9 361.8 L236.2 362.5 L236.6 360.5 L236.9 360.6 L237.2 358.8 L237.5 361.9 L237.8 360.1 L238.1 363.1 L238.4 362.5 L238.7 362.7 L239.0 362.6 L239.4 363.1 L239.7 362.8 L240.0 362.4 L240.3 362.9 L240.6 361.8 L240.9 362.7 L241.2 362.6 L241.5 361.2 L241.9 362.5 L242.2 362.7 L242.5 363.0 L242.8 363.0 L243.1 362.5 L243.4 364.0 L243.7 362.0 L244.0 361.7 L244.4 362.2 L244.7 364.0 L245.0 365.2 L245.3 364.1 L245.6 363.5 L245.9 362.9 L246.2 364.0 L246.5 364.2 L246.9 362.4 L247.2 364.8 L247.5 363.0 L247.8 363.2 L248.1 365.7 L248.4 364.1 L248.7 365.0 L249.0 365.5 L249.4 366.6 L249.7 366.4 L250.0 364.3 L250.3 365.3 L250.6 364.7 L250.9 366.2 L251.2 365.5 L251.5 365.5 L251.9 366.9 L252.2 367.2 L252.5 365.0 L252.8 365.4 L253.1 366.7 L253.4 365.9 L253.7 365.2 L254.0 364.0 L254.4 367.0 L254.7 365.5 L255.0 364.0 L255.3 366.2 L255.6 364.9 L255.9 369.2 L256.2 365.1 L256.5 366.7 L256.9 368.8 L257.2 366.1 L257.5 365.9 L257.8 365.8 L258.1 365.9 L258.4 367.3 L258.7 368.2 L259.0 367.9 L259.4 367.6 L259.7 367.2 L260.0 368.3 L260.3 367.8 L260.6 367.0 L260.9 367.7 L261.2 365.7 L261.5 365.9 L261.9 369.5 L262.2 369.0 L262.5 369.9 L262.8 369.8 L263.1 368.1 L263.4 369.8 L263.7 370.0 L264.0 369.2 L264.4 368.2 L264.7 369.5 L265.0 369.6 L265.3 368.4 L265.6 368.9 L265.9 369.0 L266.2 368.6 L266.5 370.7 L266.9 369.5 L267.2 370.5 L267.5 368.8 L267.8 369.1 L268.1 371.2 L268.4 368.8 L268.7 371.5 L269.0 369.1 L269.4 370.2 L269.7 371.4 L270.0 371.8 L270.3 371.0 L270.6 370.8 L270.9 371.6 L271.2 370.3 L271.5 372.5 L271.9 371.1 L272.2 371.1 L272.5 373.2 L272.8 371.0 L273.1 372.7 L273.4 374.1 L273.7 372.2 L274.0 371.8 L274.4 370.7 L274.7 372.3 L275.0 370.3 L275.3 370.4 L275.6 370.8 L275.9 370.7 L276.2 371.8 L276.5 372.8 L276.9 371.6 L277.2 371.3 L277.5 372.2 L277.8 372.8 L278.1 374.3 L278.4 371.9 L278.7 372.4 L279.0 374.2 L279.4 372.8 L279.7 372.2 L280.0 373.1 L280.3 372.3 L280.6 372.4 L280.9 374.8 L281.2 373.6 L281.5 372.9 L281.9 372.5 L282.2 372.0 L282.5 375.7 L282.8 373.8 L283.1 373.0 L283.4 372.5 L283.7 372.1 L284.0 375.0 L284.4 374.5 L284.7 375.3 L285.0 373.3 L285.3 375.7 L285.6 373.1 L285.9 373.4 L286.2 374.0 L286.5 376.9 L286.9 375.4 L287.2 373.9 L287.5 376.3 L287.8 375.1 L288.1 375.1 L288.4 374.1 L288.7 374.8 L289.0 374.9 L289.4 375.7 L289.7 375.3 L290.0 375.5 L290.3 374.7 L290.6 375.7 L290.9 374.5 L291.2 377.5 L291.5 374.5 L291.9 376.0 L292.2 374.7" fill="none" stroke="#ff0000" stroke-width="1.4" stroke-linejoin="round" />
<path d="M67.5 381.5 L67.8 380.7 L68.1 380.0 L68.4 381.8 L68.7 381.1 L69.1 381.3 L69.4 380.9 L69.7 382.5 L70.0 381.0 L70.3 381.0 L70.6 381.4 L70.9 380.8 L71.2 382.0 L71.6 379.1 L71.9 379.9 L72.2 378.5 L72.5 381.0 L72.8 381.2 L73.1 379.7 L73.4 381.5 L73.7 379.6 L74.1 380.4 L74.4 380.0 L74.7 379.3 L75.0 379.4 L75.3 377.6 L75.6 378.7 L75.9 380.4 L76.2 378.2 L76.6 380.3 L76.9 378.9 L77.2 380.0 L77.5 379.5 L77.8 377.4 L78.1 379.1 L78.4 379.1 L78.7 378.9 L79.1 378.6 L79.4 376.9 L79.7 379.2 L80.0 379.2 L80.3 377.4 L80.6 379.4 L80.9 378.1 L81.2 376.6 L81.6 377.6 L81.9 378.0 L82.2 378.1 L82.5 378.2 L82.8 377.8 L83.1 377.0 L83.4 375.9 L83.7 376.0 L84.1 377.4 L84.4 377.5 L84.7 376.0 L85.0 378.3 L85.3 376.9 L85.6 376.7 L85.9 377.4 L86.2 377.2 L86.6 375.8 L86.9 377.6 L87.2 376.8 L87.5 376.5 L87.8 375.7 L88.1 377.0 L88.4 374.6 L88.7 375.8 L89.1 375.7 L89.4 375.7 L89.7 375.9 L90.0 376.1 L90.3 374.0 L90.6 374.8 L90.9 375.0 L91.2 373.8 L91.6 375.4 L91.9 374.0 L92.2 374.5 L92.5 375.3 L92.8 373.6 L93.1 375.7 L93.4 373.5 L93.7 374.9 L94.1 373.6 L94.4 372.6 L94.7 373.3 L95.0 374.3 L95.3 373.7 L95.6 373.9 L95.9 374.6 L96.2 374.4 L96.6 373.2 L96.9 372.7 L97.2 374.8 L97.5 373.1 L97.8 372.4 L98.1 372.7 L98.4 373.7 L98.7 371.7 L99.1 373.7 L99.4 371.9 L99.7 370.9 L100.0 374.2 L100.3 372.0 L100.6 371.8 L100.9 371.8 L101.2 372.7 L101.6 372.2 L101.9 373.1 L102.2 371.6 L102.5 371.1 L102.8 372.2 L103.1 372.3 L103.4 371.8 L103.7 371.3 L104.1 371.1 L104.4 371.2 L104.7 371.0 L105.0 372.2 L105.3 373.4 L105.6 370.2 L105.9 369.4 L106.2 371.9 L106.6 371.2 L106.9 370.2 L107.2 369.5 L107.5 369.7 L107.8 369.0 L108.1 370.2 L108.4 369.7 L108.7 369.6 L109.1 370.3 L109.4 368.7 L109.7 369.1 L110.0 368.7 L110.3 369.9 L110.6 368.5 L110.9 370.4 L111.2 369.0 L111.6 371.7 L111.9 370.1 L112.2 368.4 L112.5 369.4 L112.8 368.8 L113.1 370.4 L113.4 367.3 L113.7 368.1 L114.1 368.7 L114.4 368.2 L114.7 368.2 L115.0 367.1 L115.3 368.1 L115.6 369.6 L115.9 368.4 L116.2 366.9 L116.6 367.5 L116.9 368.4 L117.2 367.3 L117.5 367.7 L117.8 367.2 L118.1 369.2 L118.4 368.4 L118.7 366.9 L119.1 367.7 L119.4 367.1 L119.7 365.5 L120.0 367.6 L120.3 367.0 L120.6 367.6 L120.9 367.6 L121.2 367.1 L121.6 368.3 L121.9 368.8 L122.2 365.5 L122.5 366.8 L122.8 365.6 L123.1 366.5 L123.4 366.4 L123.7 365.8 L124.1 365.7 L124.4 367.5 L124.7 365.1 L125.0 367.1 L125.3 366.0 L125.6 363.7 L125.9 366.0 L126.2 364.4 L126.6 366.2 L126.9 365.3 L127.2 365.7 L127.5 365.3 L127.8 366.5 L128.1 366.4 L128.4 365.2 L128.7 366.9 L129.1 366.2 L129.4 364.7 L129.7 365.9 L130.0 366.1 L130.3 366.2 L130.6 365.0 L130.9 365.4 L131.2 364.8 L131.6 365.1 L131.9 363.1 L132.2 365.2 L132.5 366.6 L132.8 364.6 L133.1 364.6 L133.4 364.4 L133.7 366.0 L134.1 363.4 L134.4 364.4 L134.7 364.4 L135.0 365.7 L135.3 363.8 L135.6 364.2 L135.9 362.8 L136.2 364.4 L136.6 365.1 L136.9 363.8 L137.2 364.7 L137.5 363.4 L137.8 364.7 L138.1 363.8 L138.4 363.8 L138.7 363.6 L139.1 364.0 L139.4 364.2 L139.7 363.5 L140.0 363.9 L140.3 363.1 L140.6 363.5 L140.9 365.3 L141.2 363.2 L141.6 361.8 L141.9 362.7 L142.2 362.4 L142.5 362.5 L142.8 363.3 L143.1 364.0 L143.4 362.0 L143.7 361.7 L144.1 362.1 L144.4 362.2 L144.7 362.1 L145.0 362.5 L145.3 362.1 L145.6 362.3 L145.9 362.0 L146.2 363.1 L146.6 362.8 L146.9 361.6 L147.2 362.4 L147.5 364.3 L147.8 361.8 L148.1 364.0 L148.4 360.1 L148.7 361.1 L149.1 361.1 L149.4 362.3 L149.7 362.7 L150.0 361.8 L150.3 361.5 L150.6 362.2 L150.9 361.3 L151.2 360.7 L151.6 360.8 L151.9 362.2 L152.2 363.2 L152.5 361.2 L152.8 361.7 L153.1 360.7 L153.4 359.5 L153.7 359.5 L154.1 360.7 L154.4 359.8 L154.7 359.3 L155.0 360.7 L155.3 360.5 L155.6 359.9 L155.9 360.6 L156.2 361.0 L156.6 361.2 L156.9 360.5 L157.2 361.0 L157.5 359.6 L157.8 360.6 L158.1 358.9 L158.4 359.1 L158.7 361.3 L159.1 359.1 L159.4 360.4 L159.7 358.8 L160.0 359.5 L160.3 360.0 L160.6 359.2 L160.9 360.3 L161.2 359.5 L161.6 359.4 L161.9 359.8 L162.2 359.3 L162.5 360.5 L162.8 359.0 L163.1 360.6 L163.4 358.9 L163.7 358.9 L164.1 358.7 L164.4 359.8 L164.7 356.5 L165.0 359.4 L165.3 359.0 L165.6 359.8 L165.9 357.7 L166.2 359.4 L166.6 358.0 L166.9 359.8 L167.2 358.6 L167.5 359.1 L167.8 357.9 L168.1 359.0 L168.4 359.4 L168.7 358.2 L169.1 359.7 L169.4 359.4 L169.7 357.8 L170.0 360.1 L170.3 357.7 L170.6 358.7 L170.9 359.1 L171.2 358.0 L171.6 357.6 L171.9 358.7 L172.2 358.3 L172.5 357.3 L172.8 357.3 L173.1 358.0 L173.4 358.6 L173.7 358.7 L174.1 358.4 L174.4 357.2 L174.7 357.2 L175.0 357.4 L175.3 356.4 L175.6 357.9 L175.9 357.9 L176.2 357.9 L176.6 355.8 L176.9 359.3 L177.2 357.1 L177.5 356.9 L177.8 357.2 L178.1 355.1 L178.4 356.2 L178.7 356.5 L179.1 357.9 L179.4 356.6 L179.7 357.4 L180.0 357.0 L180.3 356.8 L180.6 357.3 L180.9 356.3 L181.2 355.4 L181.6 355.9 L181.9 356.5 L182.2 358.4 L182.5 355.7 L182.8 355.6 L183.1 356.7 L183.4 357.0 L183.7 355.9 L184.1 357.2 L184.4 355.7 L184.7 357.3 L185.0 357.2 L185.3 356.3 L185.6 357.6 L185.9 356.2 L186.2 355.7 L186.6 357.3 L186.9 355.2 L187.2 356.5 L187.5 355.5 L187.8 355.8 L188.1 356.3 L188.4 356.3 L188.7 357.4 L189.1 356.4 L189.4 356.4 L189.7 354.2 L190.0 354.8 L190.3 356.9 L190.6 354.9 L190.9 355.4 L191.2 355.9 L191.6 355.1 L191.9 354.7 L192.2 355.9 L192.5 355.6 L192.8 355.2 L193.1 356.2 L193.4 355.1 L193.7 355.3 L194.1 355.8 L194.4 355.9 L194.7 354.8 L195.0 354.3 L195.3 354.7 L195.6 355.7 L195.9 354.3 L196.2 354.7 L196.6 354.3 L196.9 353.8 L197.2 355.6 L197.5 354.9 L197.8 355.2 L198.1 355.5 L198.4 352.8 L198.7 353.8 L199.1 356.1 L199.4 354.1 L199.7 355.0 L200.0 353.4 L200.3 354.3 L200.6 354.5 L200.9 354.2 L201.2 354.0 L201.6 354.2 L201.9 354.4 L202.2 354.3 L202.5 353.7 L202.8 355.1 L203.1 354.1 L203.4 354.1 L203.7 354.4 L204.1 353.3 L204.4 355.1 L204.7 354.2 L205.0 354.6 L205.3 353.3 L205.6 354.2 L205.9 353.7 L206.2 353.4 L206.6 355.1 L206.9 353.2 L207.2 354.3 L207.5 353.8 L207.8 353.6 L208.1 352.8 L208.4 352.8 L208.7 351.9 L209.1 353.2 L209.4 353.8 L209.7 353.8 L210.0 352.7 L210.3 351.8 L210.6 352.9 L210.9 353.7 L211.2 352.9 L211.6 352.9 L211.9 353.1 L212.2 353.7 L212.5 355.3 L212.8 353.5 L213.1 352.0 L213.4 352.7 L213.7 354.9 L214.1 352.8 L214.4 354.5 L214.7 351.0 L215.0 352.6 L215.3 353.8 L215.6 352.0 L215.9 353.3 L216.2 352.1 L216.6 352.6 L216.9 353.6 L217.2 351.9 L217.5 353.7 L217.8 351.2 L218.1 352.4 L218.4 353.3 L218.7 354.0 L219.1 350.9 L219.4 351.0 L219.7 353.4 L220.0 350.7 L220.3 352.0 L220.6 352.3 L220.9 352.2 L221.2 352.3 L221.6 350.8 L221.9 351.9 L222.2 353.6 L222.5 350.1 L222.8 351.1 L223.1 352.9 L223.4 352.2 L223.7 352.6 L224.1 351.7 L224.4 351.4 L224.7 351.5 L225.0 352.2 L225.3 352.4 L225.6 350.9 L225.9 351.7 L226.2 349.5 L226.6 352.2 L226.9 350.8 L227.2 351.4 L227.5 352.1 L227.8 350.2 L228.1 351.3 L228.4 352.1 L228.7 351.6 L229.1 350.4 L229.4 352.3 L229.7 350.0 L230.0 350.6 L230.3 351.4 L230.6 349.9 L230.9 349.5 L231.2 350.5 L231.6 350.9 L231.9 349.3 L232.2 349.6 L232.5 351.8 L232.8 351.1 L233.1 351.1 L233.4 351.2 L233.7 352.1 L234.1 350.0 L234.4 350.7 L234.7 350.6 L235.0 349.4 L235.3 351.1 L235.6 350.7 L235.9 350.3 L236.2 350.9 L236.6 350.6 L236.9 349.8 L237.2 350.5 L237.5 349.2 L237.8 351.1 L238.1 350.2 L238.4 351.6 L238.7 350.4 L239.0 350.9 L239.4 349.0 L239.7 349.5 L240.0 349.7 L240.3 348.5 L240.6 348.8 L240.9 349.4 L241.2 350.7 L241.5 351.3 L241.9 350.0 L242.2 350.3 L242.5 350.5 L242.8 350.2 L243.1 351.4 L243.4 348.5 L243.7 350.8 L244.0 350.4 L244.4 349.2 L244.7 351.2 L245.0 348.9 L245.3 348.8 L245.6 349.9 L245.9 350.6 L246.2 350.0 L246.5 351.2 L246.9 348.2 L247.2 349.4 L247.5 350.1 L247.8 350.2 L248.1 348.9 L248.4 348.0 L248.7 350.5 L249.0 349.8 L249.4 350.8 L249.7 348.6 L250.0 349.1 L250.3 347.1 L250.6 349.2 L250.9 349.5 L251.2 349.7 L251.5 348.3 L251.9 350.5 L252.2 348.3 L252.5 348.7 L252.8 349.4 L253.1 349.7 L253.4 347.9 L253.7 347.1 L254.0 349.2 L254.4 348.3 L254.7 347.2 L255.0 349.3 L255.3 348.9 L255.6 349.8 L255.9 348.8 L256.2 348.7 L256.5 348.9 L256.9 349.2 L257.2 349.9 L257.5 349.7 L257.8 349.3 L258.1 347.8 L258.4 348.8 L258.7 349.1 L259.0 347.7 L259.4 347.8 L259.7 348.9 L260.0 348.8 L260.3 347.6 L260.6 347.8 L260.9 348.9 L261.2 347.9 L261.5 348.1 L261.9 347.0 L262.2 348.8 L262.5 347.2 L262.8 347.6 L263.1 348.8 L263.4 346.9 L263.7 347.0 L264.0 349.0 L264.4 346.0 L264.7 348.8 L265.0 348.6 L265.3 348.0 L265.6 347.0 L265.9 347.1 L266.2 347.7 L266.5 346.3 L266.9 347.2 L267.2 346.3 L267.5 344.9 L267.8 347.3 L268.1 349.8 L268.4 347.8 L268.7 348.4 L269.0 347.3 L269.4 347.2 L269.7 348.4 L270.0 348.3 L270.3 347.5 L270.6 347.4 L270.9 349.6 L271.2 346.2 L271.5 347.1 L271.9 347.1 L272.2 346.8 L272.5 348.0 L272.8 347.0 L273.1 346.0 L273.4 345.9 L273.7 346.5 L274.0 347.1 L274.4 347.6 L274.7 345.6 L275.0 346.3 L275.3 347.1 L275.6 348.7 L275.9 347.5 L276.2 348.4 L276.5 345.5 L276.9 346.4 L277.2 347.2 L277.5 346.8 L277.8 344.1 L278.1 345.3 L278.4 347.7 L278.7 346.5 L279.0 347.5 L279.4 347.9 L279.7 346.1 L280.0 344.0 L280.3 344.8 L280.6 346.2 L280.9 346.5 L281.2 346.0 L281.5 345.1 L281.9 347.4 L282.2 347.8 L282.5 344.2 L282.8 345.7 L283.1 344.4 L283.4 345.7 L283.7 344.5 L284.0 346.4 L284.4 345.4 L284.7 344.3 L285.0 344.8 L285.3 346.2 L285.6 344.9 L285.9 346.3 L286.2 347.0 L286.5 345.1 L286.9 344.2 L287.2 344.7 L287.5 346.7 L287.8 344.7 L288.1 344.8 L288.4 345.8 L288.7 347.7 L289.0 344.4 L289.4 344.5 L289.7 344.8 L290.0 346.9 L290.3 346.6 L290.6 344.2 L290.9 344.4 L291.2 344.6 L291.5 345.3 L291.9 344.7 L292.2 345.5" fill="none" stroke="#ff0000" stroke-width="1.4" stroke-linejoin="round" />
<text x="356.5" y="317.4" font-size="18.6" text-anchor="start" fill="#000" >D</text>
<text x="380.2" y="316.9" font-size="12.4" text-anchor="start" fill="#000" >permeabilized HepG2</text>
<line x1="395.3" y1="347.6" x2="395.3" y2="518.5" stroke="#444" stroke-width="1.2"/>
<line x1="394.7" y1="518.0" x2="685.0" y2="518.0" stroke="#444" stroke-width="1.2"/>
<line x1="391.3" y1="518.0" x2="395.3" y2="518.0" stroke="#444" stroke-width="1"/>
<text x="389.5" y="522.3" font-size="12" text-anchor="end" fill="#000" >0</text>
<line x1="391.3" y1="480.1" x2="395.3" y2="480.1" stroke="#444" stroke-width="1"/>
<text x="389.5" y="484.4" font-size="12" text-anchor="end" fill="#000" >2</text>
<line x1="391.3" y1="442.2" x2="395.3" y2="442.2" stroke="#444" stroke-width="1"/>
<text x="389.5" y="446.5" font-size="12" text-anchor="end" fill="#000" >4</text>
<line x1="391.3" y1="404.3" x2="395.3" y2="404.3" stroke="#444" stroke-width="1"/>
<text x="389.5" y="408.6" font-size="12" text-anchor="end" fill="#000" >6</text>
<line x1="391.3" y1="366.4" x2="395.3" y2="366.4" stroke="#444" stroke-width="1"/>
<text x="389.5" y="370.7" font-size="12" text-anchor="end" fill="#000" >8</text>
<line x1="431.0" y1="518.0" x2="431.0" y2="514.0" stroke="#444" stroke-width="1"/>
<text x="431.0" y="533.5" font-size="11.8" text-anchor="middle" fill="#000" >0.25</text>
<line x1="458.4" y1="518.0" x2="458.4" y2="514.0" stroke="#444" stroke-width="1"/>
<text x="458.4" y="533.5" font-size="11.8" text-anchor="middle" fill="#000" >0.5</text>
<line x1="522.0" y1="518.0" x2="522.0" y2="514.0" stroke="#444" stroke-width="1"/>
<text x="522.0" y="533.5" font-size="11.8" text-anchor="middle" fill="#000" >2.5</text>
<line x1="667.8" y1="518.0" x2="667.8" y2="514.0" stroke="#444" stroke-width="1"/>
<text x="667.8" y="533.5" font-size="11.8" text-anchor="middle" fill="#000" >100</text>
<text x="531.1" y="551.6" font-size="13.75" text-anchor="middle" fill="#000" >Concentration (nM)</text>
<text transform="translate(373.5,432.2) rotate(-90)" font-size="12.3" text-anchor="middle">Mito depolarization (ΔRJC1)</text>
<text x="408.2" y="492.0" font-size="12.3" text-anchor="start" fill="#000" >tBid</text>
<path d="M430.9 506.8 L431.5 505.8 L432.1 504.8 L432.7 503.9 L433.3 502.9 L433.9 502.0 L434.5 501.1 L435.1 500.2 L435.7 499.3 L436.3 498.4 L436.8 497.4 L437.4 496.5 L438.0 495.6 L438.6 494.6 L439.2 493.6 L439.8 492.6 L440.4 491.6 L441.0 490.5 L441.6 489.4 L442.2 488.3 L442.8 487.1 L443.4 485.9 L444.0 484.6 L444.6 483.3 L445.2 481.9 L445.8 480.4 L446.4 478.9 L447.0 477.3 L447.6 475.7 L448.1 474.1 L448.7 472.3 L449.3 470.6 L449.9 468.8 L450.5 466.9 L451.1 465.0 L451.7 463.0 L452.3 461.0 L452.9 459.0 L453.5 456.9 L454.1 454.7 L454.7 452.3 L455.3 449.9 L455.9 447.3 L456.5 444.7 L457.1 442.0 L457.7 439.2 L458.3 436.5 L458.9 433.6 L459.4 430.6 L460.0 427.4 L460.6 424.1 L461.2 420.8 L461.8 417.6 L462.4 414.4 L463.0 411.4 L463.6 408.5 L464.2 406.0 L464.8 403.6 L465.4 401.3 L466.0 399.1 L466.6 396.9 L467.2 394.8 L467.8 392.8 L468.4 390.9 L469.0 389.1 L469.6 387.4 L470.2 385.9 L470.7 384.5 L471.3 383.3 L471.9 382.2 L472.5 381.1 L473.1 380.1 L473.7 379.2 L474.3 378.4 L474.9 377.6 L475.5 377.0 L476.1 376.4 L476.7 375.9 L477.3 375.4 L477.9 374.9 L478.5 374.5 L479.1 374.1 L479.7 373.7 L480.3 373.4 L480.9 373.1 L481.5 372.9 L482.0 372.8 L482.6 372.7 L483.2 372.6 L483.8 372.6 L484.4 372.5 L485.0 372.5 L485.6 372.4 L486.2 372.3 L486.8 372.3 L487.4 372.3 L488.0 372.2 L488.6 372.2 L489.2 372.2 L489.8 372.2 L490.4 372.2 L491.0 372.2 L491.6 372.2 L492.2 372.2 L492.8 372.2 L493.3 372.2 L493.9 372.2 L494.5 372.2 L495.1 372.2 L495.7 372.2 L496.3 372.2 L496.9 372.2 L497.5 372.2 L498.1 372.2 L498.7 372.2 L499.3 372.2 L499.9 372.2 L500.5 372.2 L501.1 372.2 L501.7 372.2 L502.3 372.2 L502.9 372.2 L503.5 372.2 L504.1 372.2 L504.6 372.2 L505.2 372.2 L505.8 372.2 L506.4 372.2 L507.0 372.2 L507.6 372.2 L508.2 372.2 L508.8 372.2 L509.4 372.2 L510.0 372.2 L510.6 372.2 L511.2 372.2 L511.8 372.2 L512.4 372.2 L513.0 372.2 L513.6 372.2 L514.2 372.2 L514.8 372.2 L515.4 372.2 L515.9 372.2 L516.5 372.2 L517.1 372.2 L517.7 372.2 L518.3 372.2 L518.9 372.2 L519.5 372.2 L520.1 372.2 L520.7 372.2 L521.3 372.2 L521.9 372.2 L522.5 372.2 L523.1 372.2 L523.7 372.2 L524.3 372.2 L524.9 372.2 L525.5 372.2 L526.1 372.2 L526.7 372.2 L527.2 372.2 L527.8 372.2 L528.4 372.2 L529.0 372.2 L529.6 372.2 L530.2 372.2 L530.8 372.2 L531.4 372.2 L532.0 372.2 L532.6 372.2 L533.2 372.2 L533.8 372.2 L534.4 372.2 L535.0 372.2 L535.6 372.2 L536.2 372.2 L536.8 372.2 L537.4 372.2 L538.0 372.2 L538.5 372.2 L539.1 372.2 L539.7 372.2 L540.3 372.2 L540.9 372.2 L541.5 372.2 L542.1 372.2 L542.7 372.2 L543.3 372.2 L543.9 372.2 L544.5 372.2 L545.1 372.2 L545.7 372.2 L546.3 372.2 L546.9 372.2 L547.5 372.2 L548.1 372.2 L548.7 372.2 L549.3 372.2 L549.8 372.2 L550.4 372.2 L551.0 372.2 L551.6 372.2 L552.2 372.2 L552.8 372.2 L553.4 372.2 L554.0 372.2 L554.6 372.2 L555.2 372.2 L555.8 372.2 L556.4 372.2 L557.0 372.2 L557.6 372.2 L558.2 372.2 L558.8 372.2 L559.4 372.2 L560.0 372.2 L560.6 372.2 L561.1 372.2 L561.7 372.2 L562.3 372.2 L562.9 372.2 L563.5 372.2 L564.1 372.2 L564.7 372.2 L565.3 372.2 L565.9 372.2 L566.5 372.2 L567.1 372.2 L567.7 372.2 L568.3 372.2 L568.9 372.2 L569.5 372.2 L570.1 372.2 L570.7 372.2 L571.3 372.2 L571.9 372.2 L572.4 372.2 L573.0 372.2 L573.6 372.2 L574.2 372.2 L574.8 372.2 L575.4 372.2 L576.0 372.2 L576.6 372.2 L577.2 372.2 L577.8 372.2 L578.4 372.2 L579.0 372.2 L579.6 372.2 L580.2 372.2 L580.8 372.2 L581.4 372.2 L582.0 372.2 L582.6 372.2 L583.2 372.2 L583.7 372.2 L584.3 372.2 L584.9 372.2 L585.5 372.2 L586.1 372.2 L586.7 372.2 L587.3 372.2 L587.9 372.2 L588.5 372.2 L589.1 372.2 L589.7 372.2 L590.3 372.2 L590.9 372.2 L591.5 372.2 L592.1 372.2 L592.7 372.2 L593.3 372.2 L593.9 372.2 L594.5 372.2 L595.0 372.2 L595.6 372.2 L596.2 372.2 L596.8 372.2 L597.4 372.2 L598.0 372.2 L598.6 372.2 L599.2 372.2 L599.8 372.2 L600.4 372.2 L601.0 372.2 L601.6 372.2 L602.2 372.2 L602.8 372.2 L603.4 372.2 L604.0 372.2 L604.6 372.2 L605.2 372.2 L605.8 372.2 L606.3 372.2 L606.9 372.2 L607.5 372.2 L608.1 372.2 L608.7 372.2 L609.3 372.2 L609.9 372.2 L610.5 372.2 L611.1 372.2 L611.7 372.2 L612.3 372.2 L612.9 372.2 L613.5 372.2 L614.1 372.2 L614.7 372.2 L615.3 372.2 L615.9 372.2 L616.5 372.2 L617.1 372.2 L617.6 372.2 L618.2 372.2 L618.8 372.2 L619.4 372.2 L620.0 372.2 L620.6 372.2 L621.2 372.2 L621.8 372.2 L622.4 372.2 L623.0 372.2 L623.6 372.2 L624.2 372.2 L624.8 372.2 L625.4 372.2 L626.0 372.2 L626.6 372.2 L627.2 372.2 L627.8 372.2 L628.4 372.2 L628.9 372.2 L629.5 372.2 L630.1 372.2 L630.7 372.2 L631.3 372.2 L631.9 372.2 L632.5 372.2 L633.1 372.2 L633.7 372.2 L634.3 372.2 L634.9 372.2 L635.5 372.2 L636.1 372.2 L636.7 372.2 L637.3 372.2 L637.9 372.2 L638.5 372.2 L639.1 372.2 L639.7 372.2 L640.2 372.2 L640.8 372.2 L641.4 372.2 L642.0 372.2 L642.6 372.2 L643.2 372.2 L643.8 372.2 L644.4 372.2 L645.0 372.2 L645.6 372.2 L646.2 372.2 L646.8 372.2 L647.4 372.2 L648.0 372.2 L648.6 372.2 L649.2 372.2 L649.8 372.2 L650.4 372.2 L651.0 372.2 L651.5 372.2 L652.1 372.2 L652.7 372.2 L653.3 372.2 L653.9 372.2 L654.5 372.2 L655.1 372.2 L655.7 372.2 L656.3 372.2 L656.9 372.2 L657.5 372.2 L658.1 372.2 L658.7 372.2 L659.3 372.2 L659.9 372.2 L660.5 372.2 L661.1 372.2 L661.7 372.2 L662.3 372.2 L662.8 372.2 L663.4 372.2 L664.0 372.2 L664.6 372.2 L665.2 372.2 L665.8 372.2 L666.4 372.2 L667.0 372.2 L667.6 372.2 L668.2 372.2" fill="none" stroke="#ff0000" stroke-width="1.1" stroke-linejoin="round" />
<path d="M430.9 514.2 L431.5 514.1 L432.1 514.1 L432.7 514.1 L433.3 514.0 L433.9 514.0 L434.5 513.9 L435.1 513.9 L435.7 513.8 L436.3 513.8 L436.8 513.7 L437.4 513.7 L438.0 513.7 L438.6 513.6 L439.2 513.6 L439.8 513.5 L440.4 513.5 L441.0 513.5 L441.6 513.4 L442.2 513.4 L442.8 513.4 L443.4 513.3 L444.0 513.3 L444.6 513.2 L445.2 513.2 L445.8 513.2 L446.4 513.1 L447.0 513.1 L447.6 513.1 L448.1 513.0 L448.7 513.0 L449.3 512.9 L449.9 512.9 L450.5 512.9 L451.1 512.8 L451.7 512.8 L452.3 512.7 L452.9 512.7 L453.5 512.6 L454.1 512.6 L454.7 512.5 L455.3 512.5 L455.9 512.4 L456.5 512.4 L457.1 512.3 L457.7 512.3 L458.3 512.2 L458.9 512.2 L459.4 512.1 L460.0 512.0 L460.6 512.0 L461.2 511.9 L461.8 511.9 L462.4 511.8 L463.0 511.7 L463.6 511.7 L464.2 511.6 L464.8 511.5 L465.4 511.4 L466.0 511.3 L466.6 511.3 L467.2 511.2 L467.8 511.1 L468.4 511.0 L469.0 510.9 L469.6 510.8 L470.2 510.7 L470.7 510.6 L471.3 510.4 L471.9 510.3 L472.5 510.1 L473.1 510.0 L473.7 509.8 L474.3 509.6 L474.9 509.4 L475.5 509.2 L476.1 509.0 L476.7 508.8 L477.3 508.6 L477.9 508.3 L478.5 508.1 L479.1 507.8 L479.7 507.5 L480.3 507.3 L480.9 507.0 L481.5 506.7 L482.0 506.4 L482.6 506.1 L483.2 505.8 L483.8 505.5 L484.4 505.1 L485.0 504.8 L485.6 504.4 L486.2 504.1 L486.8 503.7 L487.4 503.3 L488.0 502.9 L488.6 502.6 L489.2 502.2 L489.8 501.8 L490.4 501.3 L491.0 500.9 L491.6 500.4 L492.2 499.9 L492.8 499.3 L493.3 498.7 L493.9 498.1 L494.5 497.4 L495.1 496.7 L495.7 496.0 L496.3 495.2 L496.9 494.4 L497.5 493.5 L498.1 492.7 L498.7 491.7 L499.3 490.8 L499.9 489.8 L500.5 488.8 L501.1 487.8 L501.7 486.7 L502.3 485.7 L502.9 484.5 L503.5 483.4 L504.1 482.3 L504.6 481.1 L505.2 479.9 L505.8 478.6 L506.4 477.4 L507.0 476.1 L507.6 474.7 L508.2 473.1 L508.8 471.5 L509.4 469.7 L510.0 467.8 L510.6 465.8 L511.2 463.7 L511.8 461.6 L512.4 459.4 L513.0 457.1 L513.6 454.8 L514.2 452.4 L514.8 450.0 L515.4 447.6 L515.9 445.1 L516.5 442.6 L517.1 440.2 L517.7 437.7 L518.3 435.2 L518.9 432.8 L519.5 430.4 L520.1 428.1 L520.7 425.7 L521.3 423.5 L521.9 421.3 L522.5 419.0 L523.1 416.8 L523.7 414.4 L524.3 412.1 L524.9 409.9 L525.5 407.7 L526.1 405.6 L526.7 403.6 L527.2 401.7 L527.8 399.9 L528.4 398.0 L529.0 396.2 L529.6 394.4 L530.2 392.6 L530.8 390.8 L531.4 389.1 L532.0 387.5 L532.6 385.9 L533.2 384.4 L533.8 383.0 L534.4 381.8 L535.0 380.6 L535.6 379.6 L536.2 378.8 L536.8 378.1 L537.4 377.4 L538.0 376.8 L538.5 376.1 L539.1 375.6 L539.7 375.0 L540.3 374.5 L540.9 373.9 L541.5 373.5 L542.1 373.0 L542.7 372.6 L543.3 372.2 L543.9 371.8 L544.5 371.5 L545.1 371.1 L545.7 370.9 L546.3 370.6 L546.9 370.3 L547.5 370.1 L548.1 369.9 L548.7 369.7 L549.3 369.5 L549.8 369.3 L550.4 369.2 L551.0 369.0 L551.6 368.8 L552.2 368.7 L552.8 368.5 L553.4 368.4 L554.0 368.3 L554.6 368.2 L555.2 368.1 L555.8 368.0 L556.4 367.9 L557.0 367.9 L557.6 367.9 L558.2 367.8 L558.8 367.8 L559.4 367.7 L560.0 367.7 L560.6 367.7 L561.1 367.6 L561.7 367.6 L562.3 367.6 L562.9 367.6 L563.5 367.5 L564.1 367.5 L564.7 367.5 L565.3 367.5 L565.9 367.5 L566.5 367.4 L567.1 367.4 L567.7 367.4 L568.3 367.4 L568.9 367.4 L569.5 367.4 L570.1 367.4 L570.7 367.4 L571.3 367.4 L571.9 367.4 L572.4 367.4 L573.0 367.4 L573.6 367.4 L574.2 367.4 L574.8 367.4 L575.4 367.4 L576.0 367.4 L576.6 367.4 L577.2 367.4 L577.8 367.4 L578.4 367.4 L579.0 367.4 L579.6 367.4 L580.2 367.4 L580.8 367.4 L581.4 367.4 L582.0 367.4 L582.6 367.4 L583.2 367.4 L583.7 367.4 L584.3 367.4 L584.9 367.4 L585.5 367.4 L586.1 367.4 L586.7 367.4 L587.3 367.4 L587.9 367.4 L588.5 367.4 L589.1 367.4 L589.7 367.4 L590.3 367.4 L590.9 367.4 L591.5 367.4 L592.1 367.4 L592.7 367.4 L593.3 367.4 L593.9 367.4 L594.5 367.4 L595.0 367.4 L595.6 367.4 L596.2 367.4 L596.8 367.4 L597.4 367.4 L598.0 367.4 L598.6 367.4 L599.2 367.4 L599.8 367.4 L600.4 367.4 L601.0 367.4 L601.6 367.4 L602.2 367.4 L602.8 367.4 L603.4 367.4 L604.0 367.4 L604.6 367.4 L605.2 367.4 L605.8 367.4 L606.3 367.4 L606.9 367.4 L607.5 367.4 L608.1 367.4 L608.7 367.4 L609.3 367.4 L609.9 367.4 L610.5 367.4 L611.1 367.4 L611.7 367.4 L612.3 367.4 L612.9 367.4 L613.5 367.4 L614.1 367.4 L614.7 367.4 L615.3 367.4 L615.9 367.4 L616.5 367.4 L617.1 367.4 L617.6 367.4 L618.2 367.4 L618.8 367.4 L619.4 367.4 L620.0 367.4 L620.6 367.4 L621.2 367.4 L621.8 367.4 L622.4 367.4 L623.0 367.4 L623.6 367.4 L624.2 367.4 L624.8 367.4 L625.4 367.4 L626.0 367.4 L626.6 367.4 L627.2 367.4 L627.8 367.4 L628.4 367.4 L628.9 367.4 L629.5 367.4 L630.1 367.4 L630.7 367.4 L631.3 367.4 L631.9 367.4 L632.5 367.4 L633.1 367.4 L633.7 367.4 L634.3 367.4 L634.9 367.4 L635.5 367.4 L636.1 367.4 L636.7 367.4 L637.3 367.4 L637.9 367.4 L638.5 367.4 L639.1 367.4 L639.7 367.4 L640.2 367.4 L640.8 367.4 L641.4 367.4 L642.0 367.4 L642.6 367.4 L643.2 367.4 L643.8 367.4 L644.4 367.4 L645.0 367.4 L645.6 367.4 L646.2 367.4 L646.8 367.4 L647.4 367.4 L648.0 367.4 L648.6 367.4 L649.2 367.4 L649.8 367.4 L650.4 367.4 L651.0 367.4 L651.5 367.4 L652.1 367.4 L652.7 367.4 L653.3 367.4 L653.9 367.4 L654.5 367.4 L655.1 367.4 L655.7 367.4 L656.3 367.4 L656.9 367.4 L657.5 367.4 L658.1 367.4 L658.7 367.4 L659.3 367.4 L659.9 367.4 L660.5 367.4 L661.1 367.4 L661.7 367.4 L662.3 367.4 L662.8 367.4 L663.4 367.4 L664.0 367.4 L664.6 367.4 L665.2 367.4 L665.8 367.4 L666.4 367.4 L667.0 367.4 L667.6 367.4 L668.2 367.4" fill="none" stroke="#000" stroke-width="1.1" stroke-linejoin="round" />
<circle cx="431.0" cy="517.7" r="2.8" fill="#000"/>
<circle cx="458.4" cy="508.6" r="2.8" fill="#000"/>
<circle cx="522.0" cy="422.2" r="2.8" fill="#000"/>
<circle cx="667.8" cy="367.6" r="2.8" fill="#000"/>
<line x1="431.0" y1="507.6" x2="431.0" y2="501.4" stroke="#ff7070" stroke-width="0.9"/>
<line x1="428.7" y1="501.4" x2="433.3" y2="501.4" stroke="#ff7070" stroke-width="0.9"/>
<circle cx="431.0" cy="507.6" r="2.8" fill="#ff0000"/>
<line x1="458.4" y1="436.1" x2="458.4" y2="409.2" stroke="#ff7070" stroke-width="0.9"/>
<line x1="456.1" y1="409.2" x2="460.7" y2="409.2" stroke="#ff7070" stroke-width="0.9"/>
<circle cx="458.4" cy="436.1" r="2.8" fill="#ff0000"/>
<line x1="522.0" y1="377.8" x2="522.0" y2="360.5" stroke="#ff7070" stroke-width="0.9"/>
<line x1="519.7" y1="360.5" x2="524.3" y2="360.5" stroke="#ff7070" stroke-width="0.9"/>
<circle cx="522.0" cy="377.8" r="2.8" fill="#ff0000"/>
<line x1="667.8" y1="365.3" x2="667.8" y2="354.9" stroke="#ff7070" stroke-width="0.9"/>
<line x1="665.5" y1="354.9" x2="670.1" y2="354.9" stroke="#ff7070" stroke-width="0.9"/>
<circle cx="667.8" cy="365.3" r="2.8" fill="#ff0000"/>
<text x="5.0" y="586.2" font-size="18.6" text-anchor="start" fill="#000" >E</text>
<text x="75.0" y="589.8" font-size="12.2" text-anchor="end" fill="#000" >Time (s)</text>
<text x="75.0" y="610.9" font-size="12.2" text-anchor="end" fill="#000" >tBid (nM)</text>
<text x="75.5" y="634.4" font-size="12.2" text-anchor="end" fill="#000" >Chronic EtOH</text>
<text transform="translate(97.6,622) rotate(-90)" font-size="12.4" text-anchor="middle">Cyto c</text>
<line x1="109.2" y1="595.6" x2="323.4" y2="595.6" stroke="#000" stroke-width="1.3"/>
<text x="207.3" y="591.0" font-size="13.5" text-anchor="middle" fill="#000" >300</text>
<text x="190.2" y="610.7" font-size="13.5" text-anchor="middle" fill="#000" >0.5</text>
<line x1="173.7" y1="613.9" x2="208.1" y2="613.9" stroke="#000" stroke-width="1.3"/>
<text x="245.6" y="610.7" font-size="13.5" text-anchor="middle" fill="#000" >2.5</text>
<line x1="231.0" y1="613.9" x2="265.6" y2="613.9" stroke="#000" stroke-width="1.3"/>
<text x="292.1" y="610.7" font-size="13.5" text-anchor="middle" fill="#000" >100</text>
<line x1="278.8" y1="613.9" x2="313.2" y2="613.9" stroke="#000" stroke-width="1.3"/>
<line x1="119.8" y1="621.9" x2="125.0" y2="621.9" stroke="#000" stroke-width="1.35"/>
<line x1="143.3" y1="621.9" x2="148.5" y2="621.9" stroke="#000" stroke-width="1.35"/>
<line x1="172.5" y1="621.0" x2="180.5" y2="621.0" stroke="#000" stroke-width="1.35"/>
<line x1="176.5" y1="617.0" x2="176.5" y2="625.0" stroke="#000" stroke-width="1.35"/>
<line x1="200.5" y1="621.0" x2="208.5" y2="621.0" stroke="#000" stroke-width="1.35"/>
<line x1="204.5" y1="617.0" x2="204.5" y2="625.0" stroke="#000" stroke-width="1.35"/>
<line x1="233.0" y1="621.0" x2="241.0" y2="621.0" stroke="#000" stroke-width="1.35"/>
<line x1="237.0" y1="617.0" x2="237.0" y2="625.0" stroke="#000" stroke-width="1.35"/>
<line x1="256.4" y1="621.0" x2="264.4" y2="621.0" stroke="#000" stroke-width="1.35"/>
<line x1="260.4" y1="617.0" x2="260.4" y2="625.0" stroke="#000" stroke-width="1.35"/>
<line x1="280.3" y1="621.0" x2="288.3" y2="621.0" stroke="#000" stroke-width="1.35"/>
<line x1="284.3" y1="617.0" x2="284.3" y2="625.0" stroke="#000" stroke-width="1.35"/>
<line x1="307.9" y1="621.0" x2="315.9" y2="621.0" stroke="#000" stroke-width="1.35"/>
<line x1="311.9" y1="617.0" x2="311.9" y2="625.0" stroke="#000" stroke-width="1.35"/>
<line x1="119.8" y1="639.5" x2="125.0" y2="639.5" stroke="#000" stroke-width="1.35"/>
<line x1="144.7" y1="638.6" x2="152.7" y2="638.6" stroke="#000" stroke-width="1.35"/>
<line x1="148.7" y1="634.6" x2="148.7" y2="642.6" stroke="#000" stroke-width="1.35"/>
<line x1="176.5" y1="639.5" x2="181.7" y2="639.5" stroke="#000" stroke-width="1.35"/>
<line x1="200.5" y1="638.6" x2="208.5" y2="638.6" stroke="#000" stroke-width="1.35"/>
<line x1="204.5" y1="634.6" x2="204.5" y2="642.6" stroke="#000" stroke-width="1.35"/>
<line x1="232.8" y1="639.5" x2="238.0" y2="639.5" stroke="#000" stroke-width="1.35"/>
<line x1="257.0" y1="638.6" x2="265.0" y2="638.6" stroke="#000" stroke-width="1.35"/>
<line x1="261.0" y1="634.6" x2="261.0" y2="642.6" stroke="#000" stroke-width="1.35"/>
<line x1="284.8" y1="639.5" x2="290.0" y2="639.5" stroke="#000" stroke-width="1.35"/>
<line x1="309.0" y1="638.6" x2="317.0" y2="638.6" stroke="#000" stroke-width="1.35"/>
<line x1="313.0" y1="634.6" x2="313.0" y2="642.6" stroke="#000" stroke-width="1.35"/>
<text x="65.0" y="674.4" font-size="12.2" text-anchor="end" fill="#000" >cytosol</text>
<text x="357.0" y="586.3" font-size="18.6" text-anchor="start" fill="#000" >F</text>
<text transform="translate(391.7,623.6) rotate(-90)" font-size="12.5" text-anchor="middle">Cyto c</text>
<text x="489.4" y="609.4" font-size="13.5" text-anchor="middle" fill="#000" >0.25</text>
<line x1="474.5" y1="611.8" x2="509.0" y2="611.8" stroke="#000" stroke-width="1.3"/>
<text x="549.7" y="609.4" font-size="13.5" text-anchor="middle" fill="#000" >0.5</text>
<line x1="530.0" y1="611.8" x2="564.9" y2="611.8" stroke="#000" stroke-width="1.3"/>
<text x="607.1" y="609.4" font-size="13.5" text-anchor="middle" fill="#000" >0.5</text>
<line x1="589.6" y1="611.8" x2="624.5" y2="611.8" stroke="#000" stroke-width="1.3"/>
<text x="490.2" y="592.8" font-size="13.5" text-anchor="middle" fill="#000" >300</text>
<text x="548.3" y="592.8" font-size="13.5" text-anchor="middle" fill="#000" >150</text>
<text x="606.0" y="592.8" font-size="13.5" text-anchor="middle" fill="#000" >300</text>
<line x1="418.8" y1="622.9" x2="424.0" y2="622.9" stroke="#000" stroke-width="1.35"/>
<line x1="447.8" y1="622.9" x2="453.0" y2="622.9" stroke="#000" stroke-width="1.35"/>
<line x1="472.1" y1="622.0" x2="480.1" y2="622.0" stroke="#000" stroke-width="1.35"/>
<line x1="476.1" y1="618.0" x2="476.1" y2="626.0" stroke="#000" stroke-width="1.35"/>
<line x1="500.2" y1="622.0" x2="508.2" y2="622.0" stroke="#000" stroke-width="1.35"/>
<line x1="504.2" y1="618.0" x2="504.2" y2="626.0" stroke="#000" stroke-width="1.35"/>
<line x1="528.5" y1="622.0" x2="536.5" y2="622.0" stroke="#000" stroke-width="1.35"/>
<line x1="532.5" y1="618.0" x2="532.5" y2="626.0" stroke="#000" stroke-width="1.35"/>
<line x1="561.0" y1="622.0" x2="569.0" y2="622.0" stroke="#000" stroke-width="1.35"/>
<line x1="565.0" y1="618.0" x2="565.0" y2="626.0" stroke="#000" stroke-width="1.35"/>
<line x1="589.1" y1="622.0" x2="597.1" y2="622.0" stroke="#000" stroke-width="1.35"/>
<line x1="593.1" y1="618.0" x2="593.1" y2="626.0" stroke="#000" stroke-width="1.35"/>
<line x1="616.8" y1="622.0" x2="624.8" y2="622.0" stroke="#000" stroke-width="1.35"/>
<line x1="620.8" y1="618.0" x2="620.8" y2="626.0" stroke="#000" stroke-width="1.35"/>
<line x1="418.8" y1="641.8" x2="424.0" y2="641.8" stroke="#000" stroke-width="1.35"/>
<line x1="447.7" y1="640.9" x2="455.7" y2="640.9" stroke="#000" stroke-width="1.35"/>
<line x1="451.7" y1="636.9" x2="451.7" y2="644.9" stroke="#000" stroke-width="1.35"/>
<line x1="474.0" y1="641.8" x2="479.2" y2="641.8" stroke="#000" stroke-width="1.35"/>
<line x1="500.2" y1="640.9" x2="508.2" y2="640.9" stroke="#000" stroke-width="1.35"/>
<line x1="504.2" y1="636.9" x2="504.2" y2="644.9" stroke="#000" stroke-width="1.35"/>
<line x1="531.5" y1="641.8" x2="536.7" y2="641.8" stroke="#000" stroke-width="1.35"/>
<line x1="561.0" y1="640.9" x2="569.0" y2="640.9" stroke="#000" stroke-width="1.35"/>
<line x1="565.0" y1="636.9" x2="565.0" y2="644.9" stroke="#000" stroke-width="1.35"/>
<line x1="592.6" y1="641.8" x2="597.8" y2="641.8" stroke="#000" stroke-width="1.35"/>
<line x1="616.8" y1="640.9" x2="624.8" y2="640.9" stroke="#000" stroke-width="1.35"/>
<line x1="620.8" y1="636.9" x2="620.8" y2="644.9" stroke="#000" stroke-width="1.35"/>
<rect x="72.0" y="645.7" width="262.7" height="48.5" fill="#f7f7f7"/>
<rect x="110.3" y="673.6" width="20.5" height="1.8" rx="0.9" fill="#d0d0d0" filter="url(#b1)"/>
<rect x="139.5" y="673.0" width="19.0" height="3.0" rx="1.5" fill="#777" filter="url(#b1)"/>
<rect x="167.4" y="672.8" width="18.9" height="3.4" rx="1.7" fill="#555" filter="url(#b1)"/>
<rect x="193.0" y="669.5" width="23.0" height="10.0" rx="4.0" fill="#000" filter="url(#b1)"/>
<rect x="221.0" y="668.5" width="23.0" height="9.3" rx="4.0" fill="#000" filter="url(#b1)"/>
<rect x="249.0" y="668.5" width="22.8" height="9.3" rx="4.0" fill="#000" filter="url(#b1)"/>
<rect x="276.0" y="667.2" width="22.0" height="9.7" rx="4.0" fill="#000" filter="url(#b1)"/>
<path d="M302.5,667.0 312.0,663.5 319.0,662.5 322.5,666.0 323.0,673.0 321.0,676.5 310.0,676.0 303.0,675.5 302.0,671.0Z" fill="#000" filter="url(#b1)"/>
<path d="M84.1,648.5 104.5,648.5 107.1,663.4 108.6,676.6 105.2,682.1 92.8,681.7 87.0,678.8 80.4,682.7 79.4,675.1 81.1,660.5Z" fill="url(#gE)" filter="url(#b2)"/>
<ellipse cx="93.5" cy="651.5" rx="7" ry="4" fill="#777" filter="url(#b3)"/>
<path d="M89.9,684.6 101.6,686.8 100.8,689.0 91.4,687.1Z" fill="#222" filter="url(#b1)"/>
<rect x="72" y="645.7" width="262.7" height="48.5" fill="none" stroke="#000" stroke-width="1.3"/>
<rect x="371.6" y="647.5" width="265.4" height="46.6" fill="#f8f8f8"/>
<rect x="407.0" y="669.0" width="21.0" height="2.0" rx="1.0" fill="#e4e4e4" filter="url(#b1)"/>
<rect x="438.0" y="672.7" width="19.0" height="2.0" rx="1.0" fill="#dcdcdc" filter="url(#b1)"/>
<rect x="467.3" y="674.5" width="18.2" height="2.0" rx="1.0" fill="#c8c8c8" filter="url(#b1)"/>
<rect x="493.6" y="675.8" width="23.3" height="5.4" rx="2.7" fill="#000" filter="url(#b1)"/>
<rect x="525.7" y="677.3" width="19.7" height="4.4" rx="2.2" fill="#999" filter="url(#b1)"/>
<rect x="553.8" y="676.3" width="22.6" height="8.3" rx="4.0" fill="#000" filter="url(#b1)"/>
<rect x="584.4" y="678.0" width="21.2" height="6.2" rx="3.0" fill="#555" filter="url(#b1)"/>
<path d="M613.5,672.5 622.0,668.5 628.5,666.5 631.0,670.0 630.0,676.0 624.0,680.0 616.0,683.8 613.0,681.5 612.8,677.0Z" fill="#000" filter="url(#b1)"/>
<path d="M381.1,648.5 398.7,648.5 402.7,659.1 404.8,668.5 402.7,673.7 396.5,676.3 387.0,675.8 381.9,674.8 384.8,672.2 377.5,667.8 376.5,662.0 378.5,653.2Z" fill="#000" filter="url(#b2)"/>
<rect x="371.6" y="647.5" width="265.4" height="46.6" fill="none" stroke="#000" stroke-width="1.3"/>
</svg></body></html>
